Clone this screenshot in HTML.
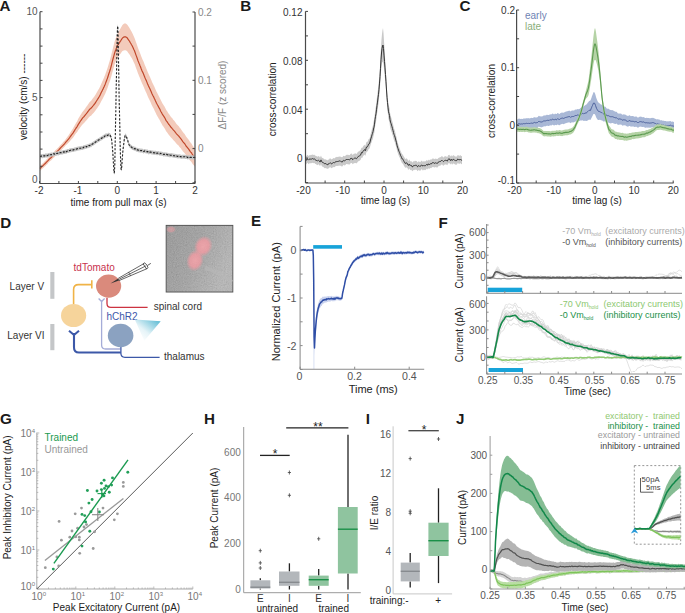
<!DOCTYPE html>
<html><head><meta charset="utf-8"><style>
html,body{margin:0;padding:0;background:#fff;}
svg{display:block;font-family:"Liberation Sans", sans-serif;}
</style></head><body>
<svg width="685" height="613" viewBox="0 0 685 613">
<rect width="685" height="613" fill="#fff"/>
<text x="-0.5" y="11.2" font-size="15.2" font-weight="bold" fill="#1a1a1a">A</text>
<path d="M40,166L40.5,165.5L41,165L41.5,164.4L42,163.9L42.5,163.5L43,163.1L43.5,162.7L44,162.1L44.5,161.6L45,161.1L45.5,160.7L46,160.1L46.5,159.5L47,159.1L47.5,158.6L48,158L48.5,157.3L49,156.8L49.5,156.2L50,155.8L50.5,155.3L51,154.9L51.5,154.5L52,154L52.5,153.3L53,152.7L53.5,152.2L54,151.9L54.5,151.3L55,150.7L55.5,150.1L56,149.7L56.5,149.3L57,148.7L57.5,148.3L58,147.7L58.5,147.2L59,146.7L59.5,146.1L60,145.6L60.5,145L61,144.5L61.5,144L62,143.4L62.5,143L63,142.3L63.5,141.8L64,141.3L64.5,140.8L65,140.2L65.5,139.4L66,138.7L66.5,138.1L67,137.4L67.5,136.7L68,136.1L68.5,135.4L69,134.6L69.5,133.9L70,133L70.5,132.3L71,131.4L71.5,130.7L72,129.9L72.5,129.2L73,128.6L73.5,127.6L74,126.6L74.5,125.7L75,124.7L75.5,123.9L76,122.9L76.5,122.2L77,121.4L77.5,120.4L78,119.3L78.5,118.3L79,117.6L79.5,116.7L80,115.8L80.5,114.9L81,114.2L81.5,113.5L82,112.6L82.5,111.9L83,111.2L83.5,110.7L84,110L84.5,109.4L85,108.7L85.5,107.9L86,107.3L86.5,106.6L87,106L87.5,105.2L88,104.5L88.5,103.7L89,103L89.5,102.3L90,101.8L90.5,101.3L91,100.9L91.5,100.3L92,99.6L92.5,98.8L93,98.2L93.5,97.6L94,96.9L94.5,96.2L95,95.5L95.5,94.7L96,93.8L96.5,93L97,92.1L97.5,91.3L98,90.3L98.5,89.6L99,88.7L99.5,87.8L100,86.7L100.5,85.6L101,84.4L101.5,83.2L102,82.2L102.5,81L103,80L103.5,78.7L104,77.7L104.5,76.3L105,75.2L105.5,73.8L106,72.3L106.5,70.9L107,69.5L107.5,68.1L108,66.4L108.5,64.7L109,63L109.5,61.5L110,59.8L110.5,58.1L111,56.1L111.5,54.1L112,51.9L112.5,49.9L113,47.9L113.5,46L114,44L114.5,42.1L115,40.4L115.5,38.9L116,37.6L116.5,36.2L117,35L117.5,33.8L118,32.7L118.5,31.9L119,31.1L119.5,30.2L120,29.2L120.5,28.5L121,27.6L121.5,26.7L122,25.8L122.5,25L123,24.5L123.5,24L124,23.8L124.5,23.4L125,23.3L125.5,23.4L126,23.7L126.5,23.9L127,24.4L127.5,25.1L128,25.8L128.5,26.6L129,27.3L129.5,28.1L130,28.9L130.5,29.8L131,30.7L131.5,31.6L132,32.4L132.5,33.5L133,34.6L133.5,35.7L134,36.8L134.5,37.9L135,39.3L135.5,40.8L136,42.2L136.5,43.6L137,45L137.5,46.5L138,47.9L138.5,49.2L139,50.6L139.5,51.7L140,53.1L140.5,54.2L141,55.7L141.5,57L142,58.3L142.5,59.4L143,60.4L143.5,61.6L144,62.8L144.5,64.2L145,65.5L145.5,66.6L146,67.7L146.5,68.9L147,70.2L147.5,71.5L148,72.7L148.5,73.8L149,74.9L149.5,76L150,77.1L150.5,78.2L151,79.4L151.5,80.6L152,81.9L152.5,82.9L153,83.9L153.5,84.9L154,86L154.5,87.1L155,88.2L155.5,89.4L156,90.4L156.5,91.7L157,92.6L157.5,93.6L158,94.5L158.5,95.6L159,96.4L159.5,97.4L160,98.4L160.5,99.5L161,100.5L161.5,101.4L162,102.5L162.5,103.4L163,104.2L163.5,105L164,105.7L164.5,106.5L165,107.4L165.5,108.5L166,109.6L166.5,110.4L167,111L167.5,111.8L168,112.7L168.5,113.5L169,114.1L169.5,114.8L170,115.5L170.5,116.3L171,116.9L171.5,117.4L172,118.1L172.5,118.6L173,119.5L173.5,119.9L174,120.6L174.5,121.1L175,121.8L175.5,122.5L176,123.2L176.5,123.9L177,124.4L177.5,125L178,125.4L178.5,126L179,126.6L179.5,127.4L180,127.9L180.5,128.6L181,129.2L181.5,130.1L182,130.8L182.5,131.5L183,132.2L183.5,132.8L184,133.4L184.5,133.8L185,134.7L185.5,135.5L186,136.4L186.5,137L187,137.7L187.5,138.3L188,138.9L188.5,139.6L189,140.3L189.5,141.1L190,141.9L190.5,142.6L191,143.1L191.5,143.8L192,144.6L192.5,145.4L193,146.2L193.5,146.8L194,147.3L194.5,148L195,148.8L195,166.8L194.5,166.1L194,165.4L193.5,164.9L193,164.4L192.5,163.7L192,162.9L191.5,162.1L191,161.5L190.5,161.1L190,160.4L189.5,159.7L189,158.9L188.5,158.2L188,157.6L187.5,157.1L187,156.5L186.5,155.9L186,155.3L185.5,154.5L185,153.7L184.5,152.9L184,152.5L183.5,151.9L183,151.4L182.5,150.7L182,150.1L181.5,149.4L181,148.6L180.5,148L180,147.4L179.5,147L179,146.2L178.5,145.6L178,145.1L177.5,144.7L177,144.2L176.5,143.8L176,143.1L175.5,142.5L175,141.8L174.5,141.2L174,140.8L173.5,140.2L173,139.8L172.5,139L172,138.6L171.5,138L171,137.6L170.5,137L170,136.3L169.5,135.7L169,135L168.5,134.5L168,133.8L167.5,133L167,132.2L166.5,131.7L166,131.1L165.5,130.1L165,129L164.5,128.2L164,127.5L163.5,126.8L163,126.1L162.5,125.4L162,124.6L161.5,123.6L161,122.8L160.5,121.8L160,120.8L159.5,119.8L159,119L158.5,118.2L158,117.2L157.5,116.4L157,115.5L156.5,114.7L156,113.5L155.5,112.5L155,111.4L154.5,110.4L154,109.3L153.5,108.3L153,107.4L152.5,106.5L152,105.6L151.5,104.4L151,103.2L150.5,102.1L150,101.1L149.5,100L149,99L148.5,98L148,97L147.5,95.8L147,94.6L146.5,93.3L146,92.2L145.5,91.2L145,90.1L144.5,88.9L144,87.6L143.5,86.4L143,85.2L142.5,84.3L142,83.3L141.5,82L141,80.7L140.5,79.4L140,78.3L139.5,77L139,75.9L138.5,74.6L138,73.4L137.5,72L137,70.6L136.5,69.2L136,67.9L135.5,66.5L135,65.1L134.5,63.8L134,62.7L133.5,61.7L133,60.6L132.5,59.6L132,58.5L131.5,57.8L131,57L130.5,56.2L130,55.3L129.5,54.6L129,53.8L128.5,53.2L128,52.4L127.5,51.8L127,51.1L126.5,50.7L126,50.6L125.5,50.3L125,50.3L124.5,50.2L124,50.4L123.5,50.4L123,50.7L122.5,51L122,51.6L121.5,52.3L121,53L120.5,53.7L120,54.2L119.5,55L119,55.7L118.5,56.3L118,56.9L117.5,57.8L117,58.8L116.5,59.8L116,61L115.5,62.1L115,63.4L114.5,64.9L114,66.6L113.5,68.4L113,70.1L112.5,71.9L112,73.7L111.5,75.7L111,77.5L110.5,79.3L110,80.8L109.5,82.3L109,83.6L108.5,85.1L108,86.6L107.5,88.1L107,89.3L106.5,90.5L106,91.7L105.5,93L105,94.2L104.5,95.1L104,96.3L103.5,97.1L103,98.2L102.5,99L102,100L101.5,100.8L101,101.8L100.5,102.8L100,103.7L99.5,104.7L99,105.4L98.5,106.2L98,106.8L97.5,107.7L97,108.4L96.5,109.1L96,109.8L95.5,110.6L95,111.3L94.5,111.8L94,112.4L93.5,113L93,113.5L92.5,113.9L92,114.6L91.5,115.2L91,115.7L90.5,115.9L90,116.3L89.5,116.7L89,117.2L88.5,117.8L88,118.5L87.5,119L87,119.8L86.5,120.2L86,120.8L85.5,121.3L85,121.9L84.5,122.5L84,123L83.5,123.5L83,123.9L82.5,124.5L82,125.1L81.5,125.8L81,126.4L80.5,127.1L80,127.8L79.5,128.5L79,129.2L78.5,129.7L78,130.5L77.5,131.4L77,132.2L76.5,132.8L76,133.3L75.5,134.1L75,134.7L74.5,135.5L74,136.2L73.5,137L73,137.8L72.5,138.2L72,138.7L71.5,139.3L71,139.8L70.5,140.5L70,141L69.5,141.7L69,142.2L68.5,142.8L68,143.3L67.5,143.7L67,144.2L66.5,144.7L66,145.1L65.5,145.6L65,146.2L64.5,146.8L64,147.3L63.5,147.7L63,148.2L62.5,148.9L62,149.3L61.5,149.9L61,150.3L60.5,150.8L60,151.4L59.5,151.9L59,152.5L58.5,153L58,153.5L57.5,154L57,154.4L56.5,154.9L56,155.3L55.5,155.7L55,156.3L54.5,156.9L54,157.5L53.5,157.7L53,158.2L52.5,158.8L52,159.5L51.5,159.9L51,160.4L50.5,160.7L50,161.2L49.5,161.5L49,162.2L48.5,162.6L48,163.3L47.5,163.9L47,164.4L46.5,164.8L46,165.3L45.5,165.9L45,166.3L44.5,166.7L44,167.3L43.5,167.8L43,168.2L42.5,168.6L42,169L41.5,169.5L41,170L40.5,170.5L40,171Z" fill="#f3cbbb" stroke="none" />
<path d="M40,168.5L40.5,168L41,167.5L41.5,166.9L42,166.4L42.5,166L43,165.7L43.5,165.2L44,164.7L44.5,164.2L45,163.7L45.5,163.3L46,162.7L46.5,162.2L47,161.7L47.5,161.2L48,160.7L48.5,160L49,159.5L49.5,158.9L50,158.5L50.5,158L51,157.7L51.5,157.2L52,156.8L52.5,156L53,155.5L53.5,155L54,154.7L54.5,154.1L55,153.5L55.5,152.9L56,152.5L56.5,152.1L57,151.6L57.5,151.1L58,150.6L58.5,150.1L59,149.6L59.5,149L60,148.5L60.5,147.9L61,147.4L61.5,146.9L62,146.4L62.5,145.9L63,145.3L63.5,144.8L64,144.3L64.5,143.8L65,143.2L65.5,142.5L66,141.9L66.5,141.4L67,140.8L67.5,140.2L68,139.7L68.5,139.1L69,138.4L69.5,137.8L70,137L70.5,136.4L71,135.6L71.5,135L72,134.3L72.5,133.7L73,133.2L73.5,132.3L74,131.4L74.5,130.6L75,129.7L75.5,129L76,128.1L76.5,127.5L77,126.8L77.5,125.9L78,124.9L78.5,124L79,123.4L79.5,122.6L80,121.8L80.5,121L81,120.3L81.5,119.6L82,118.9L82.5,118.2L83,117.5L83.5,117.1L84,116.5L84.5,116L85,115.3L85.5,114.6L86,114.1L86.5,113.4L87,112.9L87.5,112.1L88,111.5L88.5,110.8L89,110.1L89.5,109.5L90,109L90.5,108.6L91,108.3L91.5,107.7L92,107.1L92.5,106.4L93,105.9L93.5,105.3L94,104.6L94.5,104L95,103.4L95.5,102.6L96,101.8L96.5,101L97,100.2L97.5,99.5L98,98.6L98.5,97.9L99,97L99.5,96.2L100,95.2L100.5,94.2L101,93.1L101.5,92L102,91.1L102.5,90L103,89.1L103.5,87.9L104,87L104.5,85.7L105,84.7L105.5,83.4L106,82L106.5,80.7L107,79.4L107.5,78.1L108,76.5L108.5,74.9L109,73.3L109.5,71.9L110,70.3L110.5,68.7L111,66.8L111.5,64.9L112,62.8L112.5,60.9L113,59L113.5,57.2L114,55.3L114.5,53.5L115,51.9L115.5,50.5L116,49.3L116.5,48L117,46.9L117.5,45.8L118,44.8L118.5,44.1L119,43.4L119.5,42.6L120,41.7L120.5,41.1L121,40.3L121.5,39.5L122,38.7L122.5,38L123,37.6L123.5,37.2L124,37.1L124.5,36.8L125,36.8L125.5,36.8L126,37.1L126.5,37.3L127,37.7L127.5,38.4L128,39.1L128.5,39.9L129,40.5L129.5,41.3L130,42.1L130.5,43L131,43.8L131.5,44.7L132,45.5L132.5,46.5L133,47.6L133.5,48.7L134,49.8L134.5,50.8L135,52.2L135.5,53.6L136,55.1L136.5,56.4L137,57.8L137.5,59.3L138,60.7L138.5,61.9L139,63.3L139.5,64.3L140,65.7L140.5,66.8L141,68.2L141.5,69.5L142,70.8L142.5,71.9L143,72.8L143.5,74L144,75.2L144.5,76.6L145,77.8L145.5,78.9L146,79.9L146.5,81.1L147,82.4L147.5,83.7L148,84.8L148.5,85.9L149,86.9L149.5,88L150,89.1L150.5,90.2L151,91.3L151.5,92.5L152,93.7L152.5,94.7L153,95.7L153.5,96.6L154,97.7L154.5,98.8L155,99.8L155.5,100.9L156,101.9L156.5,103.2L157,104L157.5,105L158,105.8L158.5,106.9L159,107.7L159.5,108.6L160,109.6L160.5,110.7L161,111.7L161.5,112.5L162,113.5L162.5,114.4L163,115.2L163.5,115.9L164,116.6L164.5,117.4L165,118.2L165.5,119.3L166,120.4L166.5,121.1L167,121.6L167.5,122.4L168,123.2L168.5,124L169,124.6L169.5,125.2L170,125.9L170.5,126.6L171,127.3L171.5,127.7L172,128.3L172.5,128.8L173,129.6L173.5,130.1L174,130.7L174.5,131.2L175,131.8L175.5,132.5L176,133.2L176.5,133.8L177,134.3L177.5,134.8L178,135.3L178.5,135.8L179,136.4L179.5,137.2L180,137.7L180.5,138.3L181,138.9L181.5,139.7L182,140.4L182.5,141.1L183,141.8L183.5,142.4L184,143L184.5,143.4L185,144.2L185.5,145L186,145.9L186.5,146.5L187,147.1L187.5,147.7L188,148.3L188.5,148.9L189,149.6L189.5,150.4L190,151.2L190.5,151.8L191,152.3L191.5,152.9L192,153.8L192.5,154.5L193,155.3L193.5,155.8L194,156.4L194.5,157.1L195,157.8" fill="none" stroke="#c0472a" stroke-width="1.2" stroke-linejoin="round" />
<path d="M40,154.5L40.2,154.5L40.5,154.3L40.8,154.4L41,154.2L41.2,154.1L41.5,154L41.8,154.2L42,154.1L42.2,154.2L42.5,154.3L42.8,154.3L43,154.1L43.2,153.9L43.5,153.9L43.8,153.8L44,153.8L44.2,154L44.5,154L44.8,153.9L45,153.6L45.2,153.6L45.5,153.4L45.8,153.4L46,153.5L46.2,153.4L46.5,153.6L46.8,153.6L47,153.7L47.2,153.6L47.5,153.6L47.8,153.5L48,153.3L48.2,153L48.5,152.9L48.8,153.1L49,153.3L49.2,153.2L49.5,152.9L49.8,152.7L50,152.8L50.2,152.8L50.5,152.8L50.8,152.8L51,152.7L51.2,152.6L51.5,152.6L51.8,152.6L52,152.6L52.2,152.7L52.5,152.7L52.8,152.6L53,152.2L53.2,152.2L53.5,151.9L53.8,151.9L54,151.9L54.2,152.1L54.5,152.2L54.8,151.9L55,151.7L55.2,151.6L55.5,151.8L55.8,152L56,152.1L56.2,151.9L56.5,151.5L56.8,151.4L57,151.4L57.2,151.4L57.5,151.3L57.8,151.2L58,151.3L58.2,151.4L58.5,151.6L58.8,151.3L59,151.2L59.2,151.1L59.5,151L59.8,150.9L60,150.7L60.2,150.5L60.5,150.6L60.8,150.7L61,150.8L61.2,150.7L61.5,150.5L61.8,150.4L62,150.2L62.2,150.4L62.5,150.4L62.8,150.4L63,150.3L63.2,150.2L63.5,149.9L63.8,149.9L64,150.1L64.2,149.9L64.5,149.9L64.8,149.9L65,150.1L65.2,149.9L65.5,149.7L65.8,149.4L66,149.7L66.2,149.6L66.5,149.8L66.8,149.5L67,149.4L67.2,149L67.5,149L67.8,149L68,149L68.2,149.1L68.5,149L68.8,148.9L69,148.7L69.2,148.6L69.5,148.6L69.8,148.6L70,148.5L70.2,148.4L70.5,148.3L70.8,148.2L71,148.1L71.2,148.3L71.5,148.2L71.8,148.1L72,147.9L72.2,147.9L72.5,147.9L72.8,147.9L73,148.1L73.2,147.9L73.5,147.9L73.8,147.7L74,147.6L74.2,147.6L74.5,147.5L74.8,147.6L75,147.5L75.2,147.4L75.5,147.2L75.8,147.2L76,147.3L76.2,147.2L76.5,147.1L76.8,146.8L77,146.9L77.2,146.8L77.5,146.7L77.8,146.6L78,146.7L78.2,146.7L78.5,146.6L78.8,146.3L79,146.3L79.2,146.4L79.5,146.3L79.8,146.3L80,146.3L80.2,146.2L80.5,146.3L80.8,146.1L81,146L81.2,145.7L81.5,145.9L81.8,146L82,146.1L82.2,145.9L82.5,145.9L82.8,145.8L83,145.9L83.2,145.7L83.5,145.5L83.8,145.1L84,145.1L84.2,145.2L84.5,145.3L84.8,145.3L85,145L85.2,144.8L85.5,145L85.8,144.8L86,144.8L86.2,144.5L86.5,144.8L86.8,144.5L87,144.5L87.2,144.2L87.5,144.1L87.8,144.2L88,144.4L88.2,144.3L88.5,144L88.8,143.7L89,143.6L89.2,143.6L89.5,143.7L89.8,143.6L90,143.4L90.2,143.2L90.5,143.1L90.8,143.2L91,143.3L91.2,143.2L91.5,142.8L91.8,142.5L92,142.3L92.2,142.1L92.5,142L92.8,141.8L93,141.8L93.2,141.6L93.5,141.6L93.8,141.3L94,141.1L94.2,140.8L94.5,140.7L94.8,140.5L95,140.5L95.2,140.3L95.5,140.1L95.8,139.9L96,139.6L96.2,139.5L96.5,139.3L96.8,139L97,138.9L97.2,138.8L97.5,138.9L97.8,138.6L98,138.4L98.2,138.2L98.5,138.1L98.8,137.9L99,137.8L99.2,137.6L99.5,137.5L99.8,137.4L100,137.3L100.2,137.1L100.5,136.9L100.8,136.6L101,136.5L101.2,136.3L101.5,136.4L101.8,136.2L102,135.9L102.2,135.7L102.5,135.5L102.8,135.5L103,135.4L103.2,135L103.5,134.8L103.8,134.8L104,134.9L104.2,134.7L104.5,134.3L104.8,134.1L105,134L105.2,133.8L105.5,133.6L105.8,133.3L106,133.4L106.2,133.2L106.5,133.4L106.8,133.4L107,133.4L107.2,133.4L107.5,133.5L107.8,133.4L108,133.1L108.2,132.8L108.5,132.7L108.8,132.7L109,132.8L109.2,132.9L109.5,133L109.8,132.9L110,133.1L110.2,133.4L110.5,134L110.8,134.6L111,135.2L111.2,135.8L111.5,137L111.8,138.8L112,141.2L112.2,143.9L112.5,146.8L112.8,149.9L113,153.6L113.2,158.1L113.5,162.6L113.8,166.7L114,169.5L114.2,170.9L114.5,169.2L114.8,162.5L115,151.7L115.2,138.4L115.5,124.1L115.8,110L116,97.8L116.2,85.5L116.5,71.8L116.8,57.5L117,44.1L117.2,33.1L117.5,25.8L117.8,24L118,29.5L118.2,41.1L118.5,56.4L118.8,73.1L119,88.5L119.2,100.3L119.5,111.2L119.8,123L120,134.5L120.2,145.5L120.5,154.6L120.8,161.9L121,166.3L121.2,167.6L121.5,166.6L121.8,164.2L122,160.9L122.2,157.2L122.5,153.7L122.8,150.3L123,147.9L123.2,145.9L123.5,144L123.8,141.8L124,139.8L124.2,137.9L124.5,136.4L124.8,135L125,134L125.2,133.6L125.5,133.6L125.8,133.9L126,134.2L126.2,134.6L126.5,135.1L126.8,135.6L127,136.4L127.2,137L127.5,137.8L127.8,138.5L128,139.6L128.2,140.6L128.5,141.2L128.8,141.7L129,142.4L129.2,143L129.5,143.4L129.8,143.7L130,144.1L130.2,144.3L130.5,144.3L130.8,144.3L131,144.6L131.2,144.9L131.5,145.2L131.8,145.3L132,145.6L132.2,145.7L132.5,145.9L132.8,145.9L133,146L133.2,146L133.5,146.3L133.8,146.4L134,146.6L134.2,146.5L134.5,146.6L134.8,146.9L135,146.8L135.2,146.8L135.5,146.8L135.8,147.3L136,147.6L136.2,147.7L136.5,147.6L136.8,147.8L137,147.9L137.2,147.8L137.5,147.8L137.8,148L138,148.1L138.2,148L138.5,148.2L138.8,148.4L139,148.6L139.2,148.5L139.5,148.2L139.8,148.3L140,148.2L140.2,148.5L140.5,148.6L140.8,148.7L141,148.5L141.2,148.5L141.5,148.5L141.8,148.7L142,148.7L142.2,148.8L142.5,148.6L142.8,148.9L143,149L143.2,149.4L143.5,149.5L143.8,149.5L144,149.3L144.2,149L144.5,148.9L144.8,149.1L145,149.2L145.2,149.2L145.5,149.3L145.8,149.2L146,149.5L146.2,149.5L146.5,149.6L146.8,149.6L147,149.6L147.2,149.6L147.5,149.5L147.8,149.6L148,149.9L148.2,150.3L148.5,150.5L148.8,150.4L149,150.1L149.2,150.2L149.5,150.1L149.8,150.2L150,150.1L150.2,150.1L150.5,150.1L150.8,150.2L151,150.1L151.2,150.2L151.5,150.4L151.8,150.6L152,150.6L152.2,150.5L152.5,150.6L152.8,150.5L153,150.5L153.2,150.5L153.5,150.7L153.8,150.8L154,150.9L154.2,150.8L154.5,150.8L154.8,150.7L155,150.9L155.2,150.8L155.5,150.8L155.8,150.6L156,150.9L156.2,151.1L156.5,151.3L156.8,151.1L157,151.2L157.2,151L157.5,151.2L157.8,151.2L158,151.2L158.2,151.1L158.5,151L158.8,151L159,151.2L159.2,151.3L159.5,151.5L159.8,151.8L160,151.8L160.2,151.6L160.5,151.4L160.8,151.4L161,151.5L161.2,151.6L161.5,151.7L161.8,151.7L162,151.7L162.2,151.8L162.5,152.1L162.8,152.1L163,152.2L163.2,152.2L163.5,152.4L163.8,152.4L164,152.5L164.2,152.4L164.5,152.3L164.8,152.3L165,152.3L165.2,152.5L165.5,152.4L165.8,152.6L166,152.6L166.2,152.7L166.5,152.4L166.8,152.4L167,152.6L167.2,152.7L167.5,152.8L167.8,152.8L168,152.9L168.2,152.9L168.5,153L168.8,153.1L169,153.4L169.2,153.4L169.5,153.3L169.8,153L170,153.2L170.2,153.2L170.5,153.2L170.8,153.2L171,153.2L171.2,153.2L171.5,153.2L171.8,153.1L172,153.1L172.2,153.2L172.5,153.4L172.8,153.6L173,153.5L173.2,153.5L173.5,153.6L173.8,153.8L174,153.9L174.2,153.8L174.5,153.8L174.8,153.8L175,153.8L175.2,153.7L175.5,153.9L175.8,154.1L176,154.3L176.2,154.1L176.5,154.2L176.8,154.1L177,154.1L177.2,154.3L177.5,154.5L177.8,154.5L178,154.2L178.2,154.2L178.5,154.4L178.8,154.4L179,154.2L179.2,154.1L179.5,154.2L179.8,154.4L180,154.6L180.2,154.6L180.5,154.7L180.8,154.5L181,154.6L181.2,154.7L181.5,154.9L181.8,154.9L182,154.7L182.2,154.8L182.5,154.7L182.8,154.7L183,154.6L183.2,154.8L183.5,154.8L183.8,154.8L184,154.7L184.2,154.8L184.5,154.8L184.8,154.7L185,154.7L185.2,154.9L185.5,154.9L185.8,154.9L186,154.9L186.2,154.9L186.5,155L186.8,154.8L187,155L187.2,155.3L187.5,155.6L187.8,155.5L188,155.3L188.2,155.2L188.5,155.2L188.8,155.3L189,155.2L189.2,155.3L189.5,155.2L189.8,155.5L190,155.4L190.2,155.3L190.5,155.2L190.8,155.3L191,155.4L191.2,155.4L191.5,155.3L191.8,155.1L192,155.2L192.2,155.3L192.5,155.6L192.8,155.5L193,155.5L193.2,155.5L193.5,155.4L193.8,155.3L194,155.5L194.2,155.4L194.5,155.6L194.8,155.4L195,155.6L195,159.6L194.8,159.4L194.5,159.6L194.2,159.4L194,159.5L193.8,159.3L193.5,159.4L193.2,159.5L193,159.5L192.8,159.5L192.5,159.6L192.2,159.3L192,159.2L191.8,159.1L191.5,159.3L191.2,159.4L191,159.4L190.8,159.3L190.5,159.2L190.2,159.3L190,159.4L189.8,159.5L189.5,159.2L189.2,159.3L189,159.2L188.8,159.3L188.5,159.2L188.2,159.2L188,159.3L187.8,159.5L187.5,159.6L187.2,159.3L187,159L186.8,158.8L186.5,159L186.2,158.9L186,158.9L185.8,158.9L185.5,158.9L185.2,158.9L185,158.7L184.8,158.7L184.5,158.8L184.2,158.8L184,158.7L183.8,158.8L183.5,158.8L183.2,158.8L183,158.6L182.8,158.7L182.5,158.7L182.2,158.8L182,158.7L181.8,158.9L181.5,158.9L181.2,158.7L181,158.6L180.8,158.5L180.5,158.7L180.2,158.6L180,158.6L179.8,158.4L179.5,158.2L179.2,158.1L179,158.2L178.8,158.4L178.5,158.4L178.2,158.2L178,158.2L177.8,158.5L177.5,158.5L177.2,158.3L177,158.1L176.8,158.1L176.5,158.2L176.2,158.1L176,158.3L175.8,158.1L175.5,157.9L175.2,157.7L175,157.8L174.8,157.8L174.5,157.8L174.2,157.8L174,157.9L173.8,157.8L173.5,157.6L173.2,157.5L173,157.5L172.8,157.6L172.5,157.4L172.2,157.2L172,157.1L171.8,157.1L171.5,157.2L171.2,157.2L171,157.2L170.8,157.2L170.5,157.2L170.2,157.2L170,157.2L169.8,157L169.5,157.3L169.2,157.4L169,157.4L168.8,157.1L168.5,157L168.2,156.9L168,156.9L167.8,156.8L167.5,156.8L167.2,156.7L167,156.6L166.8,156.4L166.5,156.4L166.2,156.7L166,156.6L165.8,156.6L165.5,156.4L165.2,156.5L165,156.3L164.8,156.3L164.5,156.3L164.2,156.4L164,156.5L163.8,156.4L163.5,156.4L163.2,156.2L163,156.2L162.8,156.1L162.5,156.1L162.2,155.8L162,155.7L161.8,155.7L161.5,155.7L161.2,155.6L161,155.5L160.8,155.4L160.5,155.4L160.2,155.6L160,155.8L159.8,155.8L159.5,155.5L159.2,155.3L159,155.2L158.8,155L158.5,155L158.2,155.1L158,155.2L157.8,155.2L157.5,155.2L157.2,155L157,155.2L156.8,155.1L156.5,155.3L156.2,155.1L156,154.9L155.8,154.6L155.5,154.8L155.2,154.8L155,154.9L154.8,154.7L154.5,154.8L154.2,154.8L154,154.9L153.8,154.8L153.5,154.7L153.2,154.5L153,154.5L152.8,154.5L152.5,154.6L152.2,154.5L152,154.6L151.8,154.6L151.5,154.4L151.2,154.2L151,154.1L150.8,154.2L150.5,154.1L150.2,154.1L150,154.1L149.8,154.2L149.5,154.1L149.2,154.2L149,154.1L148.8,154.4L148.5,154.5L148.2,154.3L148,153.9L147.8,153.6L147.5,153.5L147.2,153.6L147,153.6L146.8,153.6L146.5,153.6L146.2,153.5L146,153.5L145.8,153.2L145.5,153.3L145.2,153.2L145,153.2L144.8,153.1L144.5,152.9L144.2,153L144,153.3L143.8,153.5L143.5,153.5L143.2,153.4L143,153L142.8,152.9L142.5,152.6L142.2,152.8L142,152.7L141.8,152.7L141.5,152.5L141.2,152.5L141,152.5L140.8,152.7L140.5,152.6L140.2,152.5L140,152.2L139.8,152.3L139.5,152.2L139.2,152.5L139,152.6L138.8,152.4L138.5,152.2L138.2,152L138,152.1L137.8,152L137.5,151.8L137.2,151.8L137,151.9L136.8,151.8L136.5,151.6L136.2,151.7L136,151.6L135.8,151.3L135.5,150.8L135.2,150.8L135,150.8L134.8,150.9L134.5,150.6L134.2,150.5L134,150.6L133.8,150.4L133.5,150.3L133.2,150L133,150L132.8,149.9L132.5,149.9L132.2,149.7L132,149.6L131.8,149.3L131.5,149.2L131.2,148.9L131,148.6L130.8,148.3L130.5,148.3L130.2,148.3L130,148.1L129.8,147.7L129.5,147.4L129.2,147L129,146.4L128.8,145.7L128.5,145.2L128.2,144.6L128,143.6L127.8,142.5L127.5,141.8L127.2,141L127,140.4L126.8,139.6L126.5,139.1L126.2,138.6L126,138.2L125.8,137.9L125.5,137.6L125.2,137.6L125,138L124.8,139L124.5,140.4L124.2,141.9L124,143.8L123.8,145.8L123.5,148L123.2,149.9L123,151.9L122.8,154.3L122.5,157.7L122.2,161.2L122,164.9L121.8,168.2L121.5,170.6L121.2,171.6L121,170.3L120.8,165.9L120.5,158.6L120.2,149.5L120,138.5L119.8,127L119.5,115.2L119.2,104.3L119,92.5L118.8,77.1L118.5,60.4L118.2,45.1L118,33.5L117.8,28L117.5,29.8L117.2,37.1L117,48.1L116.8,61.5L116.5,75.8L116.2,89.5L116,101.8L115.8,114L115.5,128.1L115.2,142.4L115,155.7L114.8,166.5L114.5,173.2L114.2,174.9L114,173.5L113.8,170.7L113.5,166.6L113.2,162.1L113,157.6L112.8,153.9L112.5,150.8L112.2,147.9L112,145.2L111.8,142.8L111.5,141L111.2,139.8L111,139.2L110.8,138.6L110.5,138L110.2,137.4L110,137.1L109.8,136.9L109.5,137L109.2,136.9L109,136.8L108.8,136.7L108.5,136.7L108.2,136.8L108,137.1L107.8,137.4L107.5,137.5L107.2,137.4L107,137.4L106.8,137.4L106.5,137.4L106.2,137.2L106,137.4L105.8,137.3L105.5,137.6L105.2,137.8L105,138L104.8,138.1L104.5,138.3L104.2,138.7L104,138.9L103.8,138.8L103.5,138.8L103.2,139L103,139.4L102.8,139.5L102.5,139.5L102.2,139.7L102,139.9L101.8,140.2L101.5,140.4L101.2,140.3L101,140.5L100.8,140.6L100.5,140.9L100.2,141.1L100,141.3L99.8,141.4L99.5,141.5L99.2,141.6L99,141.8L98.8,141.9L98.5,142.1L98.2,142.2L98,142.4L97.8,142.6L97.5,142.9L97.2,142.8L97,142.9L96.8,143L96.5,143.3L96.2,143.5L96,143.6L95.8,143.9L95.5,144.1L95.2,144.3L95,144.5L94.8,144.5L94.5,144.7L94.2,144.8L94,145.1L93.8,145.3L93.5,145.6L93.2,145.6L93,145.8L92.8,145.8L92.5,146L92.2,146.1L92,146.3L91.8,146.5L91.5,146.8L91.2,147.2L91,147.3L90.8,147.2L90.5,147.1L90.2,147.2L90,147.4L89.8,147.6L89.5,147.7L89.2,147.6L89,147.6L88.8,147.7L88.5,148L88.2,148.3L88,148.4L87.8,148.2L87.5,148.1L87.2,148.2L87,148.5L86.8,148.5L86.5,148.8L86.2,148.5L86,148.8L85.8,148.8L85.5,149L85.2,148.8L85,149L84.8,149.3L84.5,149.3L84.2,149.2L84,149.1L83.8,149.1L83.5,149.5L83.2,149.7L83,149.9L82.8,149.8L82.5,149.9L82.2,149.9L82,150.1L81.8,150L81.5,149.9L81.2,149.7L81,150L80.8,150.1L80.5,150.3L80.2,150.2L80,150.3L79.8,150.3L79.5,150.3L79.2,150.4L79,150.3L78.8,150.3L78.5,150.6L78.2,150.7L78,150.7L77.8,150.6L77.5,150.7L77.2,150.8L77,150.9L76.8,150.8L76.5,151.1L76.2,151.2L76,151.3L75.8,151.2L75.5,151.2L75.2,151.4L75,151.5L74.8,151.6L74.5,151.5L74.2,151.6L74,151.6L73.8,151.7L73.5,151.9L73.2,151.9L73,152.1L72.8,151.9L72.5,151.9L72.2,151.9L72,151.9L71.8,152.1L71.5,152.2L71.2,152.3L71,152.1L70.8,152.2L70.5,152.3L70.2,152.4L70,152.5L69.8,152.6L69.5,152.6L69.2,152.6L69,152.7L68.8,152.9L68.5,153L68.2,153.1L68,153L67.8,153L67.5,153L67.2,153L67,153.4L66.8,153.5L66.5,153.8L66.2,153.6L66,153.7L65.8,153.4L65.5,153.7L65.2,153.9L65,154.1L64.8,153.9L64.5,153.9L64.2,153.9L64,154.1L63.8,153.9L63.5,153.9L63.2,154.2L63,154.3L62.8,154.4L62.5,154.4L62.2,154.4L62,154.2L61.8,154.4L61.5,154.5L61.2,154.7L61,154.8L60.8,154.7L60.5,154.6L60.2,154.5L60,154.7L59.8,154.9L59.5,155L59.2,155.1L59,155.2L58.8,155.3L58.5,155.6L58.2,155.4L58,155.3L57.8,155.2L57.5,155.3L57.2,155.4L57,155.4L56.8,155.4L56.5,155.5L56.2,155.9L56,156.1L55.8,156L55.5,155.8L55.2,155.6L55,155.7L54.8,155.9L54.5,156.2L54.2,156.1L54,155.9L53.8,155.9L53.5,155.9L53.2,156.2L53,156.2L52.8,156.6L52.5,156.7L52.2,156.7L52,156.6L51.8,156.6L51.5,156.6L51.2,156.6L51,156.7L50.8,156.8L50.5,156.8L50.2,156.8L50,156.8L49.8,156.7L49.5,156.9L49.2,157.2L49,157.3L48.8,157.1L48.5,156.9L48.2,157L48,157.3L47.8,157.5L47.5,157.6L47.2,157.6L47,157.7L46.8,157.6L46.5,157.6L46.2,157.4L46,157.5L45.8,157.4L45.5,157.4L45.2,157.6L45,157.6L44.8,157.9L44.5,158L44.2,158L44,157.8L43.8,157.8L43.5,157.9L43.2,157.9L43,158.1L42.8,158.3L42.5,158.3L42.2,158.2L42,158.1L41.8,158.2L41.5,158L41.2,158.1L41,158.2L40.8,158.4L40.5,158.3L40.2,158.5L40,158.5Z" fill="#c4c4c4" stroke="none" />
<path d="M40,156.5L40.2,156.5L40.5,156.3L40.8,156.4L41,156.2L41.2,156.1L41.5,156L41.8,156.2L42,156.1L42.2,156.2L42.5,156.3L42.8,156.3L43,156.1L43.2,155.9L43.5,155.9L43.8,155.8L44,155.8L44.2,156L44.5,156L44.8,155.9L45,155.6L45.2,155.6L45.5,155.4L45.8,155.4L46,155.5L46.2,155.4L46.5,155.6L46.8,155.6L47,155.7L47.2,155.6L47.5,155.6L47.8,155.5L48,155.3L48.2,155L48.5,154.9L48.8,155.1L49,155.3L49.2,155.2L49.5,154.9L49.8,154.7L50,154.8L50.2,154.8L50.5,154.8L50.8,154.8L51,154.7L51.2,154.6L51.5,154.6L51.8,154.6L52,154.6L52.2,154.7L52.5,154.7L52.8,154.6L53,154.2L53.2,154.2L53.5,153.9L53.8,153.9L54,153.9L54.2,154.1L54.5,154.2L54.8,153.9L55,153.7L55.2,153.6L55.5,153.8L55.8,154L56,154.1L56.2,153.9L56.5,153.5L56.8,153.4L57,153.4L57.2,153.4L57.5,153.3L57.8,153.2L58,153.3L58.2,153.4L58.5,153.6L58.8,153.3L59,153.2L59.2,153.1L59.5,153L59.8,152.9L60,152.7L60.2,152.5L60.5,152.6L60.8,152.7L61,152.8L61.2,152.7L61.5,152.5L61.8,152.4L62,152.2L62.2,152.4L62.5,152.4L62.8,152.4L63,152.3L63.2,152.2L63.5,151.9L63.8,151.9L64,152.1L64.2,151.9L64.5,151.9L64.8,151.9L65,152.1L65.2,151.9L65.5,151.7L65.8,151.4L66,151.7L66.2,151.6L66.5,151.8L66.8,151.5L67,151.4L67.2,151L67.5,151L67.8,151L68,151L68.2,151.1L68.5,151L68.8,150.9L69,150.7L69.2,150.6L69.5,150.6L69.8,150.6L70,150.5L70.2,150.4L70.5,150.3L70.8,150.2L71,150.1L71.2,150.3L71.5,150.2L71.8,150.1L72,149.9L72.2,149.9L72.5,149.9L72.8,149.9L73,150.1L73.2,149.9L73.5,149.9L73.8,149.7L74,149.6L74.2,149.6L74.5,149.5L74.8,149.6L75,149.5L75.2,149.4L75.5,149.2L75.8,149.2L76,149.3L76.2,149.2L76.5,149.1L76.8,148.8L77,148.9L77.2,148.8L77.5,148.7L77.8,148.6L78,148.7L78.2,148.7L78.5,148.6L78.8,148.3L79,148.3L79.2,148.4L79.5,148.3L79.8,148.3L80,148.3L80.2,148.2L80.5,148.3L80.8,148.1L81,148L81.2,147.7L81.5,147.9L81.8,148L82,148.1L82.2,147.9L82.5,147.9L82.8,147.8L83,147.9L83.2,147.7L83.5,147.5L83.8,147.1L84,147.1L84.2,147.2L84.5,147.3L84.8,147.3L85,147L85.2,146.8L85.5,147L85.8,146.8L86,146.8L86.2,146.5L86.5,146.8L86.8,146.5L87,146.5L87.2,146.2L87.5,146.1L87.8,146.2L88,146.4L88.2,146.3L88.5,146L88.8,145.7L89,145.6L89.2,145.6L89.5,145.7L89.8,145.6L90,145.4L90.2,145.2L90.5,145.1L90.8,145.2L91,145.3L91.2,145.2L91.5,144.8L91.8,144.5L92,144.3L92.2,144.1L92.5,144L92.8,143.8L93,143.8L93.2,143.6L93.5,143.6L93.8,143.3L94,143.1L94.2,142.8L94.5,142.7L94.8,142.5L95,142.5L95.2,142.3L95.5,142.1L95.8,141.9L96,141.6L96.2,141.5L96.5,141.3L96.8,141L97,140.9L97.2,140.8L97.5,140.9L97.8,140.6L98,140.4L98.2,140.2L98.5,140.1L98.8,139.9L99,139.8L99.2,139.6L99.5,139.5L99.8,139.4L100,139.3L100.2,139.1L100.5,138.9L100.8,138.6L101,138.5L101.2,138.3L101.5,138.4L101.8,138.2L102,137.9L102.2,137.7L102.5,137.5L102.8,137.5L103,137.4L103.2,137L103.5,136.8L103.8,136.8L104,136.9L104.2,136.7L104.5,136.3L104.8,136.1L105,136L105.2,135.8L105.5,135.6L105.8,135.3L106,135.4L106.2,135.2L106.5,135.4L106.8,135.4L107,135.4L107.2,135.4L107.5,135.5L107.8,135.4L108,135.1L108.2,134.8L108.5,134.7L108.8,134.7L109,134.8L109.2,134.9L109.5,135L109.8,134.9L110,135.1L110.2,135.4L110.5,136L110.8,136.6L111,137.2L111.2,137.8L111.5,139L111.8,140.8L112,143.2L112.2,145.9L112.5,148.8L112.8,151.9L113,155.6L113.2,160.1L113.5,164.6L113.8,168.7L114,171.5L114.2,172.9L114.5,171.2L114.8,164.5L115,153.7L115.2,140.4L115.5,126.1L115.8,112L116,99.8L116.2,87.5L116.5,73.8L116.8,59.5L117,46.1L117.2,35.1L117.5,27.8L117.8,26L118,31.5L118.2,43.1L118.5,58.4L118.8,75.1L119,90.5L119.2,102.3L119.5,113.2L119.8,125L120,136.5L120.2,147.5L120.5,156.6L120.8,163.9L121,168.3L121.2,169.6L121.5,168.6L121.8,166.2L122,162.9L122.2,159.2L122.5,155.7L122.8,152.3L123,149.9L123.2,147.9L123.5,146L123.8,143.8L124,141.8L124.2,139.9L124.5,138.4L124.8,137L125,136L125.2,135.6L125.5,135.6L125.8,135.9L126,136.2L126.2,136.6L126.5,137.1L126.8,137.6L127,138.4L127.2,139L127.5,139.8L127.8,140.5L128,141.6L128.2,142.6L128.5,143.2L128.8,143.7L129,144.4L129.2,145L129.5,145.4L129.8,145.7L130,146.1L130.2,146.3L130.5,146.3L130.8,146.3L131,146.6L131.2,146.9L131.5,147.2L131.8,147.3L132,147.6L132.2,147.7L132.5,147.9L132.8,147.9L133,148L133.2,148L133.5,148.3L133.8,148.4L134,148.6L134.2,148.5L134.5,148.6L134.8,148.9L135,148.8L135.2,148.8L135.5,148.8L135.8,149.3L136,149.6L136.2,149.7L136.5,149.6L136.8,149.8L137,149.9L137.2,149.8L137.5,149.8L137.8,150L138,150.1L138.2,150L138.5,150.2L138.8,150.4L139,150.6L139.2,150.5L139.5,150.2L139.8,150.3L140,150.2L140.2,150.5L140.5,150.6L140.8,150.7L141,150.5L141.2,150.5L141.5,150.5L141.8,150.7L142,150.7L142.2,150.8L142.5,150.6L142.8,150.9L143,151L143.2,151.4L143.5,151.5L143.8,151.5L144,151.3L144.2,151L144.5,150.9L144.8,151.1L145,151.2L145.2,151.2L145.5,151.3L145.8,151.2L146,151.5L146.2,151.5L146.5,151.6L146.8,151.6L147,151.6L147.2,151.6L147.5,151.5L147.8,151.6L148,151.9L148.2,152.3L148.5,152.5L148.8,152.4L149,152.1L149.2,152.2L149.5,152.1L149.8,152.2L150,152.1L150.2,152.1L150.5,152.1L150.8,152.2L151,152.1L151.2,152.2L151.5,152.4L151.8,152.6L152,152.6L152.2,152.5L152.5,152.6L152.8,152.5L153,152.5L153.2,152.5L153.5,152.7L153.8,152.8L154,152.9L154.2,152.8L154.5,152.8L154.8,152.7L155,152.9L155.2,152.8L155.5,152.8L155.8,152.6L156,152.9L156.2,153.1L156.5,153.3L156.8,153.1L157,153.2L157.2,153L157.5,153.2L157.8,153.2L158,153.2L158.2,153.1L158.5,153L158.8,153L159,153.2L159.2,153.3L159.5,153.5L159.8,153.8L160,153.8L160.2,153.6L160.5,153.4L160.8,153.4L161,153.5L161.2,153.6L161.5,153.7L161.8,153.7L162,153.7L162.2,153.8L162.5,154.1L162.8,154.1L163,154.2L163.2,154.2L163.5,154.4L163.8,154.4L164,154.5L164.2,154.4L164.5,154.3L164.8,154.3L165,154.3L165.2,154.5L165.5,154.4L165.8,154.6L166,154.6L166.2,154.7L166.5,154.4L166.8,154.4L167,154.6L167.2,154.7L167.5,154.8L167.8,154.8L168,154.9L168.2,154.9L168.5,155L168.8,155.1L169,155.4L169.2,155.4L169.5,155.3L169.8,155L170,155.2L170.2,155.2L170.5,155.2L170.8,155.2L171,155.2L171.2,155.2L171.5,155.2L171.8,155.1L172,155.1L172.2,155.2L172.5,155.4L172.8,155.6L173,155.5L173.2,155.5L173.5,155.6L173.8,155.8L174,155.9L174.2,155.8L174.5,155.8L174.8,155.8L175,155.8L175.2,155.7L175.5,155.9L175.8,156.1L176,156.3L176.2,156.1L176.5,156.2L176.8,156.1L177,156.1L177.2,156.3L177.5,156.5L177.8,156.5L178,156.2L178.2,156.2L178.5,156.4L178.8,156.4L179,156.2L179.2,156.1L179.5,156.2L179.8,156.4L180,156.6L180.2,156.6L180.5,156.7L180.8,156.5L181,156.6L181.2,156.7L181.5,156.9L181.8,156.9L182,156.7L182.2,156.8L182.5,156.7L182.8,156.7L183,156.6L183.2,156.8L183.5,156.8L183.8,156.8L184,156.7L184.2,156.8L184.5,156.8L184.8,156.7L185,156.7L185.2,156.9L185.5,156.9L185.8,156.9L186,156.9L186.2,156.9L186.5,157L186.8,156.8L187,157L187.2,157.3L187.5,157.6L187.8,157.5L188,157.3L188.2,157.2L188.5,157.2L188.8,157.3L189,157.2L189.2,157.3L189.5,157.2L189.8,157.5L190,157.4L190.2,157.3L190.5,157.2L190.8,157.3L191,157.4L191.2,157.4L191.5,157.3L191.8,157.1L192,157.2L192.2,157.3L192.5,157.6L192.8,157.5L193,157.5L193.2,157.5L193.5,157.4L193.8,157.3L194,157.5L194.2,157.4L194.5,157.6L194.8,157.4L195,157.6" fill="none" stroke="#222" stroke-width="1.1" stroke-linejoin="round" stroke-dasharray="2.2,1.6"/>
<line x1="40" y1="11.7" x2="40" y2="183.5" stroke="#4a4a4a" stroke-width="1.2" />
<line x1="40" y1="183.5" x2="195" y2="183.5" stroke="#4a4a4a" stroke-width="1.2" />
<line x1="195" y1="12" x2="195" y2="183.5" stroke="#4a4a4a" stroke-width="1.2" />
<line x1="40" y1="183.5" x2="42.5" y2="183.5" stroke="#444" stroke-width="1" />
<line x1="40" y1="166.3" x2="42.5" y2="166.3" stroke="#444" stroke-width="1" />
<line x1="40" y1="149.1" x2="42.5" y2="149.1" stroke="#444" stroke-width="1" />
<line x1="40" y1="132" x2="42.5" y2="132" stroke="#444" stroke-width="1" />
<line x1="40" y1="114.8" x2="42.5" y2="114.8" stroke="#444" stroke-width="1" />
<line x1="40" y1="97.6" x2="42.5" y2="97.6" stroke="#444" stroke-width="1" />
<line x1="40" y1="80.4" x2="42.5" y2="80.4" stroke="#444" stroke-width="1" />
<line x1="40" y1="63.2" x2="42.5" y2="63.2" stroke="#444" stroke-width="1" />
<line x1="40" y1="46.1" x2="42.5" y2="46.1" stroke="#444" stroke-width="1" />
<line x1="40" y1="28.9" x2="42.5" y2="28.9" stroke="#444" stroke-width="1" />
<line x1="40" y1="11.7" x2="42.5" y2="11.7" stroke="#444" stroke-width="1" />
<line x1="39.5" y1="183.5" x2="39.5" y2="181" stroke="#444" stroke-width="1" />
<line x1="58.9" y1="183.5" x2="58.9" y2="181" stroke="#444" stroke-width="1" />
<line x1="78.4" y1="183.5" x2="78.4" y2="181" stroke="#444" stroke-width="1" />
<line x1="97.8" y1="183.5" x2="97.8" y2="181" stroke="#444" stroke-width="1" />
<line x1="117.3" y1="183.5" x2="117.3" y2="181" stroke="#444" stroke-width="1" />
<line x1="136.7" y1="183.5" x2="136.7" y2="181" stroke="#444" stroke-width="1" />
<line x1="156.1" y1="183.5" x2="156.1" y2="181" stroke="#444" stroke-width="1" />
<line x1="175.6" y1="183.5" x2="175.6" y2="181" stroke="#444" stroke-width="1" />
<line x1="195" y1="183.5" x2="195" y2="181" stroke="#444" stroke-width="1" />
<line x1="195" y1="12" x2="192.5" y2="12" stroke="#444" stroke-width="1" />
<line x1="195" y1="46.1" x2="192.5" y2="46.1" stroke="#444" stroke-width="1" />
<line x1="195" y1="80.3" x2="192.5" y2="80.3" stroke="#444" stroke-width="1" />
<line x1="195" y1="114.4" x2="192.5" y2="114.4" stroke="#444" stroke-width="1" />
<line x1="195" y1="148.6" x2="192.5" y2="148.6" stroke="#444" stroke-width="1" />
<line x1="195" y1="182.8" x2="192.5" y2="182.8" stroke="#444" stroke-width="1" />
<text x="37.5" y="15.3" font-size="10" fill="#555" text-anchor="end" font-weight="normal" >10</text>
<text x="37.5" y="101.2" font-size="10" fill="#555" text-anchor="end" font-weight="normal" >5</text>
<text x="37.5" y="183.1" font-size="10" fill="#555" text-anchor="end" font-weight="normal" >0</text>
<text x="198" y="15.6" font-size="10" fill="#888" text-anchor="start" font-weight="normal" >0.2</text>
<text x="198" y="83.9" font-size="10" fill="#888" text-anchor="start" font-weight="normal" >0.1</text>
<text x="198" y="152.2" font-size="10" fill="#888" text-anchor="start" font-weight="normal" >0</text>
<text x="39" y="193.9" font-size="10" fill="#333" text-anchor="middle" font-weight="normal" >-2</text>
<text x="77.9" y="193.9" font-size="10" fill="#333" text-anchor="middle" font-weight="normal" >-1</text>
<text x="117.3" y="193.9" font-size="10" fill="#333" text-anchor="middle" font-weight="normal" >0</text>
<text x="156.1" y="193.9" font-size="10" fill="#333" text-anchor="middle" font-weight="normal" >1</text>
<text x="195" y="193.9" font-size="10" fill="#333" text-anchor="middle" font-weight="normal" >2</text>
<text x="118.6" y="206.1" font-size="10" fill="#222" text-anchor="middle" font-weight="normal" >time from pull max (s)</text>
<text x="0" y="0" transform="translate(26.8,96.9) rotate(-90)" font-size="10" fill="#222" text-anchor="middle" font-weight="normal" >velocity (cm/s) ------</text>
<text x="0" y="0" transform="translate(226.3,95) rotate(-90)" font-size="10" fill="#888" text-anchor="middle" font-weight="normal" >&#916;F/F (z scored)</text>
<text x="240.2" y="11.2" font-size="15.2" font-weight="bold" fill="#1a1a1a">B</text>
<path d="M305.5,155.6L306,155.9L306.5,156.1L307,155L307.5,154.8L308,155.5L308.5,156.1L309,155.4L309.5,155.1L310,155.5L310.5,155L311,154.8L311.5,155L312,154.7L312.5,154.5L313,154.7L313.5,155L314,154.8L314.5,154.7L315,155.4L315.5,155.8L316,155.8L316.5,156.3L317,156.3L317.5,156.8L318,156.4L318.5,155.9L319,156.3L319.5,156.8L320,157.8L320.5,156.5L321,155.6L321.5,156.9L322,157.8L322.5,158.1L323,158.1L323.5,158.4L324,159.1L324.5,159.3L325,159.8L325.5,159.2L326,159.3L326.5,160L327,160.1L327.5,160.4L328,159.6L328.5,159.7L329,159.5L329.5,158.8L330,158.3L330.5,158.5L331,159.1L331.5,159.4L332,158.9L332.5,158.8L333,158.7L333.5,158.1L334,158.1L334.5,158.4L335,157.9L335.5,157.2L336,157.2L336.5,157.1L337,156.7L337.5,157L338,157.1L338.5,156.8L339,156.5L339.5,156.4L340,156.8L340.5,156.4L341,157L341.5,157.3L342,157.1L342.5,157.3L343,156.3L343.5,155.7L344,156L344.5,156.2L345,155.9L345.5,155.7L346,154.9L346.5,154.9L347,154.6L347.5,154.8L348,155.3L348.5,154.8L349,155L349.5,155.3L350,154.7L350.5,153.8L351,153.9L351.5,153.6L352,153.5L352.5,154.9L353,154.7L353.5,154.1L354,153.8L354.5,153.5L355,153.7L355.5,153.3L356,153.4L356.5,153.9L357,153.5L357.5,152.6L358,151.8L358.5,151.5L359,151.4L359.5,151L360,150.5L360.5,150.3L361,149L361.5,147.6L362,148.2L362.5,147.6L363,146.4L363.5,145.9L364,145.1L364.5,144.7L365,145.7L365.5,145.5L366,143.5L366.5,142.1L367,141.7L367.5,141.7L368,140.8L368.5,139.3L369,139L369.5,138.7L370,137L370.5,134.7L371,132.6L371.5,131L372,128.8L372.5,127.2L373,125.2L373.5,122.2L374,120.1L374.5,117L375,112.2L375.5,108.5L376,105.8L376.5,101.5L377,97L377.5,93.3L378,88.9L378.5,85L379,79.8L379.5,73.3L380,66.7L380.5,57.1L381,47.5L381.5,39.5L382,33.9L382.5,30.2L383,28L383.5,32.9L384,41.1L384.5,48.9L385,56.9L385.5,65.1L386,73.8L386.5,82.1L387,89.5L387.5,94.8L388,99.7L388.5,104.4L389,106.2L389.5,108.3L390,112.6L390.5,115.3L391,116.7L391.5,118.5L392,120.2L392.5,122.2L393,124.1L393.5,126.4L394,128.3L394.5,129.7L395,131.3L395.5,133.4L396,135.4L396.5,137.3L397,139.9L397.5,141.9L398,143.5L398.5,145.2L399,146.7L399.5,148L400,149.3L400.5,150.9L401,151.7L401.5,152.9L402,154.3L402.5,154.3L403,155L403.5,155.9L404,156.9L404.5,157.6L405,158.7L405.5,159.2L406,158.2L406.5,158.6L407,158.8L407.5,159.2L408,160.5L408.5,160.9L409,160.1L409.5,159.6L410,161L410.5,161.5L411,160.9L411.5,161.2L412,162.3L412.5,162.5L413,161.6L413.5,161.3L414,161.6L414.5,161.2L415,160.6L415.5,160.9L416,161L416.5,161L417,161.5L417.5,162.5L418,162.1L418.5,161.2L419,161.5L419.5,161.7L420,162.2L420.5,161.9L421,161.1L421.5,160.7L422,160.7L422.5,161.5L423,161.9L423.5,161.2L424,161L424.5,161.4L425,161.6L425.5,161.3L426,160.9L426.5,160.3L427,159.8L427.5,161L428,160.5L428.5,159.6L429,160.4L429.5,160.2L430,159.6L430.5,159.6L431,159.8L431.5,159.6L432,158.7L432.5,158.5L433,158.7L433.5,158.4L434,158.7L434.5,159.1L435,159.2L435.5,158.6L436,158.5L436.5,159.1L437,159.1L437.5,159.1L438,158.4L438.5,157.7L439,158L439.5,157.4L440,157L440.5,157.2L441,156.9L441.5,156.3L442,156L442.5,156.6L443,157.2L443.5,157.5L444,157L444.5,156.4L445,156.1L445.5,156.2L446,156.4L446.5,156.4L447,157.1L447.5,156.8L448,155.4L448.5,155L449,155L449.5,154.8L450,155.9L450.5,156.5L451,155.3L451.5,155.4L452,156.5L452.5,156.1L453,155.3L453.5,155.3L454,155.6L454.5,156L455,156.4L455.5,156.6L456,156.6L456.5,156.6L457,156.4L457.5,155.2L458,154.9L458.5,155.6L459,155.5L459.5,155.7L460,155.7L460.5,155L461,155.7L461.5,156.3L462,155.9L462,163.9L461.5,164.3L461,163.7L460.5,163L460,163.8L459.5,163.8L459,163.5L458.5,163.7L458,162.9L457.5,163.3L457,164.4L456.5,164.7L456,164.6L455.5,164.7L455,164.5L454.5,164.1L454,163.8L453.5,163.4L453,163.4L452.5,164.3L452,164.7L451.5,163.6L451,163.5L450.5,164.6L450,164.1L449.5,163L449,163.2L448.5,163.3L448,163.6L447.5,165L447,165.3L446.5,164.6L446,164.6L445.5,164.5L445,164.3L444.5,164.7L444,165.3L443.5,165.8L443,165.5L442.5,164.9L442,164.3L441.5,164.6L441,165.2L440.5,165.6L440,165.4L439.5,165.7L439,166.3L438.5,166.1L438,166.8L437.5,167.5L437,167.5L436.5,167.5L436,167L435.5,167.1L435,167.6L434.5,167.5L434,167.2L433.5,166.9L433,167.2L432.5,167L432,167.2L431.5,168.1L431,168.3L430.5,168.1L430,168.1L429.5,168.7L429,168.9L428.5,168.1L428,169L427.5,169.6L427,168.4L426.5,168.9L426,169.5L425.5,169.9L425,170.2L424.5,170L424,169.6L423.5,169.9L423,170.5L422.5,170.2L422,169.3L421.5,169.3L421,169.8L420.5,170.5L420,170.9L419.5,170.4L419,170.2L418.5,169.9L418,170.8L417.5,171.2L417,170.2L416.5,169.8L416,169.8L415.5,169.7L415,169.4L414.5,170L414,170.3L413.5,170.1L413,170.4L412.5,171.3L412,171.1L411.5,170L411,169.7L410.5,170.3L410,169.8L409.5,168.5L409,168.9L408.5,169.8L408,169.4L407.5,168.1L407,167.7L406.5,167.4L406,167.1L405.5,168.1L405,167.6L404.5,166.6L404,165.9L403.5,164.8L403,164L402.5,163.3L402,163.3L401.5,161.9L401,160.7L400.5,159.9L400,158.3L399.5,157.3L399,156.2L398.5,155L398,153.5L397.5,152.2L397,150.4L396.5,148L396,146.4L395.5,144.6L395,142.8L394.5,141.5L394,140.3L393.5,138.6L393,136.6L392.5,135L392,133.2L391.5,131.7L391,130.2L390.5,129L390,126.6L389.5,122.5L389,120.7L388.5,119.1L388,114.7L387.5,110L387,105L386.5,97.9L386,89.8L385.5,84.1L385,78.9L384.5,73.9L384,69.1L383.5,63.9L383,62L382.5,61.8L382,63.3L381.5,66.5L381,72.1L380.5,79.5L380,86.7L379.5,92.8L379,98.8L378.5,103.5L378,106.9L377.5,110.8L377,114L376.5,118L376,121.8L375.5,124L375,127.2L374.5,131.5L374,134.1L373.5,135.7L373,138.2L372.5,139.7L372,140.8L371.5,142.5L371,143.6L370.5,145.2L370,147L369.5,148.6L369,149L368.5,149.2L368,150.7L367.5,151.6L367,151.6L366.5,152L366,153.4L365.5,155.4L365,155.5L364.5,154.6L364,154.9L363.5,155.7L363,156.2L362.5,157.4L362,157.9L361.5,157.4L361,158.7L360.5,160.1L360,160.2L359.5,160.7L359,161L358.5,161.2L358,161.4L357.5,162.2L357,163.1L356.5,163.5L356,163L355.5,162.9L355,163.2L354.5,163L354,163.3L353.5,163.6L353,164.1L352.5,164.3L352,163L351.5,163.1L351,163.3L350.5,163.2L350,164.1L349.5,164.7L349,164.3L348.5,164.2L348,164.7L347.5,164.1L347,163.9L346.5,164.1L346,164.2L345.5,165L345,165.2L344.5,165.4L344,165.2L343.5,164.8L343,165.4L342.5,166.4L342,166.3L341.5,166.4L341,166.1L340.5,165.5L340,165.9L339.5,165.5L339,165.6L338.5,165.8L338,166.1L337.5,166L337,165.7L336.5,166.1L336,166.1L335.5,166.2L335,166.8L334.5,167.3L334,167L333.5,167L333,167.6L332.5,167.6L332,167.8L331.5,168.2L331,167.9L330.5,167.3L330,167.1L329.5,167.6L329,168.2L328.5,168.4L328,168.3L327.5,169.1L327,168.8L326.5,168.6L326,168L325.5,167.9L325,168.4L324.5,167.9L324,167.7L323.5,166.9L323,166.7L322.5,166.7L322,166.3L321.5,165.4L321,164.1L320.5,165L320,166.3L319.5,165.3L319,164.7L318.5,164.3L318,164.8L317.5,165.2L317,164.7L316.5,164.7L316,164.1L315.5,164.1L315,163.8L314.5,163L314,163.1L313.5,163.3L313,163L312.5,162.7L312,162.9L311.5,163.2L311,163L310.5,163.2L310,163.6L309.5,163.2L309,163.6L308.5,164.2L308,163.6L307.5,162.8L307,163.1L306.5,164.2L306,163.9L305.5,163.6Z" fill="#c9c9c9" stroke="none" />
<path d="M305.5,159.6L306,159.9L306.5,160.2L307,159L307.5,158.8L308,159.6L308.5,160.1L309,159.5L309.5,159.1L310,159.5L310.5,159.1L311,158.9L311.5,159.1L312,158.8L312.5,158.6L313,158.9L313.5,159.1L314,158.9L314.5,158.8L315,159.6L315.5,160L316,160L316.5,160.5L317,160.5L317.5,161L318,160.6L318.5,160.1L319,160.5L319.5,161.1L320,162.1L320.5,160.7L321,159.9L321.5,161.2L322,162.1L322.5,162.4L323,162.4L323.5,162.7L324,163.4L324.5,163.6L325,164.1L325.5,163.5L326,163.6L326.5,164.3L327,164.5L327.5,164.8L328,163.9L328.5,164L329,163.9L329.5,163.2L330,162.7L330.5,162.9L331,163.5L331.5,163.8L332,163.4L332.5,163.2L333,163.1L333.5,162.5L334,162.6L334.5,162.9L335,162.4L335.5,161.7L336,161.6L336.5,161.6L337,161.2L337.5,161.5L338,161.6L338.5,161.3L339,161L339.5,160.9L340,161.3L340.5,161L341,161.6L341.5,161.8L342,161.7L342.5,161.9L343,160.8L343.5,160.3L344,160.6L344.5,160.8L345,160.5L345.5,160.3L346,159.5L346.5,159.5L347,159.3L347.5,159.5L348,160L348.5,159.5L349,159.7L349.5,160L350,159.4L350.5,158.5L351,158.6L351.5,158.4L352,158.3L352.5,159.6L353,159.4L353.5,158.9L354,158.6L354.5,158.2L355,158.5L355.5,158.1L356,158.2L356.5,158.7L357,158.3L357.5,157.4L358,156.6L358.5,156.4L359,156.2L359.5,155.8L360,155.4L360.5,155.2L361,153.9L361.5,152.5L362,153.1L362.5,152.5L363,151.3L363.5,150.8L364,150L364.5,149.6L365,150.6L365.5,150.5L366,148.4L366.5,147L367,146.6L367.5,146.7L368,145.7L368.5,144.2L369,144L369.5,143.7L370,142L370.5,140L371,138.1L371.5,136.8L372,134.8L372.5,133.4L373,131.7L373.5,129L374,127.1L374.5,124.2L375,119.7L375.5,116.3L376,113.8L376.5,109.8L377,105.5L377.5,102.1L378,97.9L378.5,94.3L379,89.3L379.5,83.1L380,76.7L380.5,68.3L381,59.8L381.5,53L382,48.6L382.5,46L383,45L383.5,48.4L384,55.1L384.5,61.4L385,67.9L385.5,74.6L386,81.8L386.5,90L387,97.3L387.5,102.4L388,107.2L388.5,111.8L389,113.4L389.5,115.4L390,119.6L390.5,122.1L391,123.4L391.5,125.1L392,126.7L392.5,128.6L393,130.4L393.5,132.5L394,134.3L394.5,135.6L395,137.1L395.5,139L396,140.9L396.5,142.7L397,145.2L397.5,147.1L398,148.5L398.5,150.1L399,151.4L399.5,152.6L400,153.8L400.5,155.4L401,156.2L401.5,157.4L402,158.8L402.5,158.8L403,159.5L403.5,160.4L404,161.4L404.5,162.1L405,163.1L405.5,163.6L406,162.7L406.5,163L407,163.3L407.5,163.6L408,165L408.5,165.4L409,164.5L409.5,164L410,165.4L410.5,165.9L411,165.3L411.5,165.6L412,166.7L412.5,166.9L413,166L413.5,165.7L414,165.9L414.5,165.6L415,165L415.5,165.3L416,165.4L416.5,165.4L417,165.8L417.5,166.8L418,166.5L418.5,165.5L419,165.8L419.5,166.1L420,166.6L420.5,166.2L421,165.5L421.5,165L422,165L422.5,165.8L423,166.2L423.5,165.6L424,165.3L424.5,165.7L425,165.9L425.5,165.6L426,165.2L426.5,164.6L427,164.1L427.5,165.3L428,164.8L428.5,163.8L429,164.6L429.5,164.5L430,163.9L430.5,163.8L431,164L431.5,163.8L432,162.9L432.5,162.7L433,163L433.5,162.7L434,163L434.5,163.3L435,163.4L435.5,162.8L436,162.7L436.5,163.3L437,163.3L437.5,163.3L438,162.6L438.5,161.9L439,162.2L439.5,161.6L440,161.2L440.5,161.4L441,161.1L441.5,160.5L442,160.2L442.5,160.7L443,161.3L443.5,161.6L444,161.1L444.5,160.6L445,160.2L445.5,160.3L446,160.5L446.5,160.5L447,161.2L447.5,160.9L448,159.5L448.5,159.1L449,159.1L449.5,158.9L450,160L450.5,160.6L451,159.4L451.5,159.5L452,160.6L452.5,160.2L453,159.4L453.5,159.4L454,159.7L454.5,160.1L455,160.4L455.5,160.6L456,160.6L456.5,160.6L457,160.4L457.5,159.2L458,158.9L458.5,159.6L459,159.5L459.5,159.7L460,159.7L460.5,159L461,159.7L461.5,160.3L462,159.9" fill="none" stroke="#333" stroke-width="1" stroke-linejoin="round" />
<line x1="305.5" y1="11.4" x2="305.5" y2="183" stroke="#4a4a4a" stroke-width="1.2" />
<line x1="305.5" y1="183" x2="462.5" y2="183" stroke="#4a4a4a" stroke-width="1.2" />
<line x1="305.5" y1="11.4" x2="308" y2="11.4" stroke="#444" stroke-width="1" />
<line x1="305.5" y1="35.9" x2="308" y2="35.9" stroke="#444" stroke-width="1" />
<line x1="305.5" y1="60.3" x2="308" y2="60.3" stroke="#444" stroke-width="1" />
<line x1="305.5" y1="84.8" x2="308" y2="84.8" stroke="#444" stroke-width="1" />
<line x1="305.5" y1="109.2" x2="308" y2="109.2" stroke="#444" stroke-width="1" />
<line x1="305.5" y1="133.7" x2="308" y2="133.7" stroke="#444" stroke-width="1" />
<line x1="305.5" y1="158.1" x2="308" y2="158.1" stroke="#444" stroke-width="1" />
<line x1="305.5" y1="182.6" x2="308" y2="182.6" stroke="#444" stroke-width="1" />
<line x1="305.5" y1="183" x2="305.5" y2="180.5" stroke="#444" stroke-width="1" />
<line x1="325.1" y1="183" x2="325.1" y2="180.5" stroke="#444" stroke-width="1" />
<line x1="344.7" y1="183" x2="344.7" y2="180.5" stroke="#444" stroke-width="1" />
<line x1="364.4" y1="183" x2="364.4" y2="180.5" stroke="#444" stroke-width="1" />
<line x1="384" y1="183" x2="384" y2="180.5" stroke="#444" stroke-width="1" />
<line x1="403.6" y1="183" x2="403.6" y2="180.5" stroke="#444" stroke-width="1" />
<line x1="423.2" y1="183" x2="423.2" y2="180.5" stroke="#444" stroke-width="1" />
<line x1="442.8" y1="183" x2="442.8" y2="180.5" stroke="#444" stroke-width="1" />
<line x1="462.5" y1="183" x2="462.5" y2="180.5" stroke="#444" stroke-width="1" />
<text x="302.5" y="15.7" font-size="10" fill="#333" text-anchor="end" font-weight="normal" >0.12</text>
<text x="302.5" y="64.6" font-size="10" fill="#333" text-anchor="end" font-weight="normal" >0.08</text>
<text x="302.5" y="113.5" font-size="10" fill="#333" text-anchor="end" font-weight="normal" >0.04</text>
<text x="302.5" y="162.4" font-size="10" fill="#333" text-anchor="end" font-weight="normal" >0</text>
<text x="303.5" y="193.6" font-size="10" fill="#333" text-anchor="middle" font-weight="normal" >-20</text>
<text x="342.8" y="193.6" font-size="10" fill="#333" text-anchor="middle" font-weight="normal" >-10</text>
<text x="384" y="193.6" font-size="10" fill="#333" text-anchor="middle" font-weight="normal" >0</text>
<text x="423.2" y="193.6" font-size="10" fill="#333" text-anchor="middle" font-weight="normal" >10</text>
<text x="462.5" y="193.6" font-size="10" fill="#333" text-anchor="middle" font-weight="normal" >20</text>
<text x="385.4" y="204.1" font-size="10" fill="#222" text-anchor="middle" font-weight="normal" >time lag (s)</text>
<text x="0" y="0" transform="translate(275.6,99.4) rotate(-90)" font-size="10" fill="#222" text-anchor="middle" font-weight="normal" >cross-correlation</text>
<text x="459.5" y="11.2" font-size="15.2" font-weight="bold" fill="#1a1a1a">C</text>
<path d="M517,119.6L517.5,119.6L518,119L518.5,118.7L519,118.5L519.5,118.7L520,118.8L520.5,119.1L521,119.1L521.5,118.8L522,118.9L522.5,118.9L523,118.8L523.5,118.5L524,118.6L524.5,118.6L525,118.6L525.5,118.4L526,118.3L526.5,118.2L527,118.3L527.5,118.3L528,118.3L528.5,118.1L529,118.6L529.5,118.3L530,118.5L530.5,118L531,118L531.5,117.8L532,117.9L532.5,118.1L533,117.9L533.5,117.6L534,117.2L534.5,117.2L535,117.3L535.5,117.5L536,117.4L536.5,117.4L537,117.3L537.5,117.2L538,116.7L538.5,116.1L539,115.8L539.5,116.2L540,116.2L540.5,116.5L541,116.3L541.5,116.6L542,116.5L542.5,116.3L543,115.9L543.5,115.6L544,115.6L544.5,115.4L545,115.3L545.5,115.5L546,115.2L546.5,115.1L547,114.6L547.5,114.9L548,114.9L548.5,114.9L549,114.9L549.5,114.5L550,114.6L550.5,114.3L551,114.6L551.5,114.3L552,113.9L552.5,113.6L553,113.5L553.5,114.2L554,114.3L554.5,114.2L555,113.6L555.5,113.7L556,113.9L556.5,114.1L557,113.7L557.5,113.1L558,113.1L558.5,113.6L559,113.9L559.5,113.9L560,113.4L560.5,113.1L561,113L561.5,112.6L562,112.7L562.5,112.4L563,112.7L563.5,112.7L564,112.6L564.5,112.2L565,111.9L565.5,111.7L566,111.6L566.5,111.5L567,111.2L567.5,111.2L568,111L568.5,110.9L569,110.6L569.5,110.8L570,111L570.5,111.5L571,111.1L571.5,110.8L572,110.5L572.5,110.6L573,110.6L573.5,110.6L574,110.5L574.5,110.2L575,109.6L575.5,109.6L576,109.7L576.5,109.5L577,109.2L577.5,109.1L578,109.3L578.5,109.2L579,109.1L579.5,108.9L580,108.6L580.5,108.1L581,107.7L581.5,107.6L582,106.9L582.5,106.5L583,106.3L583.5,106.6L584,105.9L584.5,105.9L585,105L585.5,105.2L586,104.5L586.5,104.5L587,103.9L587.5,103.1L588,102.5L588.5,101.9L589,101.1L589.5,100.9L590,100.6L590.5,100.6L591,99L591.5,97.7L592,96.1L592.5,95L593,93.5L593.5,92.3L594,91.9L594.5,92.4L595,93.6L595.5,95.1L596,96.9L596.5,98.6L597,99.7L597.5,100.9L598,101.9L598.5,102.5L599,103L599.5,103.3L600,103.8L600.5,104.2L601,104.5L601.5,104.8L602,104.8L602.5,105.3L603,105.9L603.5,106.3L604,106.6L604.5,106.5L605,106.7L605.5,106.7L606,107.4L606.5,108.2L607,108.8L607.5,108.7L608,108.6L608.5,108.8L609,109.3L609.5,109.4L610,109.8L610.5,110L611,110.1L611.5,110.2L612,110L612.5,110.2L613,110.3L613.5,110.8L614,110.9L614.5,111.3L615,111.6L615.5,111.8L616,111.8L616.5,111.8L617,112.3L617.5,112.9L618,113.4L618.5,113.4L619,113.6L619.5,113.4L620,113.8L620.5,113.6L621,113.5L621.5,113.9L622,114.4L622.5,114.8L623,114.5L623.5,114.3L624,114.6L624.5,114.5L625,114.5L625.5,114.7L626,115.1L626.5,115.5L627,115.6L627.5,116L628,115.8L628.5,116L629,115.3L629.5,115.3L630,115.6L630.5,115.9L631,116.2L631.5,116.1L632,116.1L632.5,116.1L633,116L633.5,116.2L634,116.4L634.5,116.7L635,116.7L635.5,116.5L636,116.5L636.5,116.6L637,117L637.5,117.4L638,117.6L638.5,117.5L639,117L639.5,116.8L640,116.7L640.5,116.6L641,116.7L641.5,116.8L642,117.1L642.5,117.2L643,117.2L643.5,116.9L644,117.3L644.5,117.5L645,118L645.5,117.9L646,118.1L646.5,117.8L647,117.8L647.5,118.1L648,117.9L648.5,118.1L649,117.9L649.5,118.3L650,118.3L650.5,118.2L651,118.1L651.5,118.1L652,117.8L652.5,117.9L653,117.8L653.5,118L654,118.3L654.5,118.6L655,118.5L655.5,118.9L656,119.1L656.5,119.6L657,119.3L657.5,119.2L658,119.3L658.5,119.6L659,119.5L659.5,119.6L660,120.2L660.5,120.3L661,120.4L661.5,120.1L662,120.5L662.5,120.7L663,120.6L663.5,120.7L664,120.8L664.5,121.1L665,121.1L665.5,121L666,121L666.5,121.4L667,121.3L667.5,121.6L668,121.1L668.5,121.5L669,121.3L669.5,121.2L670,121.1L670.5,121L671,121.4L671.5,121.7L672,121.7L672.5,121.6L673,121.6L673.5,121.9L674,122.1L674,130.5L673.5,130.3L673,130.1L672.5,130.1L672,130.2L671.5,130.2L671,129.9L670.5,129.5L670,129.7L669.5,129.8L669,130L668.5,130.1L668,129.8L667.5,130.3L667,130L666.5,130.2L666,129.8L665.5,129.8L665,129.9L664.5,130L664,129.7L663.5,129.6L663,129.5L662.5,129.7L662,129.5L661.5,129.1L661,129.5L660.5,129.3L660,129.2L659.5,128.7L659,128.6L658.5,128.7L658,128.5L657.5,128.4L657,128.6L656.5,128.9L656,128.4L655.5,128.2L655,127.8L654.5,127.9L654,127.6L653.5,127.4L653,127.2L652.5,127.3L652,127.3L651.5,127.6L651,127.6L650.5,127.8L650,127.8L649.5,127.8L649,127.5L648.5,127.7L648,127.6L647.5,127.7L647,127.5L646.5,127.5L646,127.8L645.5,127.7L645,127.8L644.5,127.3L644,127.2L643.5,126.8L643,127.1L642.5,127.1L642,127.1L641.5,126.8L641,126.7L640.5,126.6L640,126.7L639.5,126.8L639,127.1L638.5,127.6L638,127.7L637.5,127.6L637,127.2L636.5,126.8L636,126.7L635.5,126.7L635,127L634.5,127L634,126.8L633.5,126.6L633,126.4L632.5,126.5L632,126.6L631.5,126.5L631,126.7L630.5,126.4L630,126.1L629.5,125.9L629,125.9L628.5,126.5L628,126.4L627.5,126.7L627,126.2L626.5,126.2L626,125.8L625.5,125.4L625,125.3L624.5,125.3L624,125.5L623.5,125.2L623,125.4L622.5,125.7L622,125.3L621.5,124.8L621,124.5L620.5,124.6L620,124.8L619.5,124.5L619,124.8L618.5,124.8L618,124.9L617.5,124.5L617,124.1L616.5,123.6L616,123.8L615.5,123.9L615,123.9L614.5,123.7L614,123.4L613.5,123.4L613,123L612.5,123.1L612,123L611.5,123.3L611,123.3L610.5,123.4L610,123.3L609.5,123.1L609,123L608.5,122.6L608,122.6L607.5,122.8L607,123L606.5,122.6L606,121.9L605.5,121.3L605,121.4L604.5,121.3L604,121.6L603.5,121.4L603,121.2L602.5,120.7L602,120.3L601.5,120.4L601,120.2L600.5,120.1L600,119.8L599.5,119.8L599,120L598.5,120L598,119.9L597.5,119.4L597,118.7L596.5,118.1L596,116.9L595.5,115.6L595,114.6L594.5,113.9L594,113.9L593.5,113.9L593,114.8L592.5,116L592,116.7L591.5,117.9L591,118.8L590.5,120.1L590,119.7L589.5,119.7L589,119.6L588.5,120L588,120.2L587.5,120.4L587,120.9L586.5,121.1L586,120.8L585.5,121.1L585,120.6L584.5,121.1L584,120.8L583.5,121.1L583,120.5L582.5,120.2L582,120.4L581.5,120.6L581,120.4L580.5,120.4L580,120.6L579.5,120.9L579,121L578.5,121.1L578,121.2L577.5,121L577,121.1L576.5,121.4L576,121.5L575.5,121.4L575,121.4L574.5,122L574,122.3L573.5,122.4L573,122.3L572.5,122.4L572,122.3L571.5,122.5L571,122.8L570.5,123.2L570,122.7L569.5,122.5L569,122.2L568.5,122.5L568,122.6L567.5,122.8L567,122.8L566.5,123.1L566,123.2L565.5,123.3L565,123.4L564.5,123.8L564,124.1L563.5,124.2L563,124.1L562.5,123.8L562,124.1L561.5,124L561,124.4L560.5,124.4L560,124.8L559.5,125.2L559,125.2L558.5,124.9L558,124.4L557.5,124.4L557,125L556.5,125.3L556,125.1L555.5,125L555,124.8L554.5,125.4L554,125.4L553.5,125.3L553,124.7L552.5,124.7L552,125L551.5,125.4L551,125.6L550.5,125.3L550,125.6L549.5,125.5L549,126L548.5,125.9L548,125.9L547.5,125.8L547,125.6L546.5,126.1L546,126.1L545.5,126.4L545,126.2L544.5,126.3L544,126.4L543.5,126.5L543,126.7L542.5,127.1L542,127.3L541.5,127.4L541,127L540.5,127.3L540,126.9L539.5,126.9L539,126.5L538.5,126.8L538,127.4L537.5,127.9L537,128L536.5,128L536,128L535.5,128.1L535,127.8L534.5,127.7L534,127.8L533.5,128.1L533,128.4L532.5,128.6L532,128.4L531.5,128.3L531,128.5L530.5,128.4L530,128.9L529.5,128.7L529,129L528.5,128.4L528,128.6L527.5,128.6L527,128.6L526.5,128.5L526,128.6L525.5,128.7L525,128.9L524.5,128.8L524,128.8L523.5,128.7L523,129L522.5,129.1L522,129.1L521.5,129L521,129.2L520.5,129.2L520,128.9L519.5,128.8L519,128.6L518.5,128.8L518,129.1L517.5,129.7L517,129.6Z" fill="#a9b8d6" stroke="none" />
<path d="M517,124.6L517.5,124.7L518,124.1L518.5,123.7L519,123.6L519.5,123.8L520,123.9L520.5,124.1L521,124.2L521.5,123.9L522,124L522.5,124L523,123.9L523.5,123.6L524,123.7L524.5,123.7L525,123.8L525.5,123.6L526,123.5L526.5,123.3L527,123.5L527.5,123.5L528,123.5L528.5,123.3L529,123.8L529.5,123.5L530,123.7L530.5,123.2L531,123.2L531.5,123.1L532,123.1L532.5,123.3L533,123.2L533.5,122.9L534,122.5L534.5,122.4L535,122.6L535.5,122.8L536,122.7L536.5,122.7L537,122.7L537.5,122.5L538,122L538.5,121.5L539,121.1L539.5,121.6L540,121.5L540.5,121.9L541,121.6L541.5,122L542,121.9L542.5,121.7L543,121.3L543.5,121L544,121L544.5,120.9L545,120.8L545.5,120.9L546,120.6L546.5,120.6L547,120.1L547.5,120.3L548,120.4L548.5,120.4L549,120.5L549.5,120L550,120.1L550.5,119.8L551,120.1L551.5,119.9L552,119.5L552.5,119.2L553,119.1L553.5,119.7L554,119.8L554.5,119.8L555,119.2L555.5,119.3L556,119.5L556.5,119.7L557,119.4L557.5,118.7L558,118.8L558.5,119.2L559,119.5L559.5,119.5L560,119.1L560.5,118.7L561,118.7L561.5,118.3L562,118.4L562.5,118.1L563,118.4L563.5,118.4L564,118.4L564.5,118L565,117.6L565.5,117.5L566,117.4L566.5,117.3L567,117L567.5,117L568,116.8L568.5,116.7L569,116.4L569.5,116.6L570,116.8L570.5,117.3L571,117L571.5,116.7L572,116.4L572.5,116.5L573,116.5L573.5,116.5L574,116.4L574.5,116.1L575,115.5L575.5,115.5L576,115.6L576.5,115.5L577,115.1L577.5,115L578,115.2L578.5,115.2L579,115L579.5,114.9L580,114.6L580.5,114.2L581,114.1L581.5,114.1L582,113.6L582.5,113.4L583,113.4L583.5,113.8L584,113.3L584.5,113.5L585,112.8L585.5,113.1L586,112.7L586.5,112.8L587,112.4L587.5,111.7L588,111.4L588.5,110.9L589,110.3L589.5,110.3L590,110.1L590.5,110.4L591,108.9L591.5,107.8L592,106.4L592.5,105.5L593,104.2L593.5,103.1L594,102.9L594.5,103.1L595,104.1L595.5,105.4L596,106.9L596.5,108.3L597,109.2L597.5,110.2L598,110.9L598.5,111.3L599,111.5L599.5,111.6L600,111.8L600.5,112.1L601,112.3L601.5,112.6L602,112.5L602.5,113L603,113.5L603.5,113.9L604,114.1L604.5,113.9L605,114L605.5,114L606,114.6L606.5,115.4L607,115.9L607.5,115.7L608,115.6L608.5,115.7L609,116.1L609.5,116.3L610,116.5L610.5,116.7L611,116.7L611.5,116.7L612,116.5L612.5,116.7L613,116.7L613.5,117.1L614,117.1L614.5,117.5L615,117.8L615.5,117.8L616,117.8L616.5,117.7L617,118.2L617.5,118.7L618,119.2L618.5,119.1L619,119.2L619.5,118.9L620,119.3L620.5,119.1L621,119L621.5,119.3L622,119.8L622.5,120.2L623,119.9L623.5,119.8L624,120.1L624.5,119.9L625,119.9L625.5,120.1L626,120.5L626.5,120.9L627,120.9L627.5,121.4L628,121.1L628.5,121.2L629,120.6L629.5,120.6L630,120.9L630.5,121.1L631,121.5L631.5,121.3L632,121.3L632.5,121.3L633,121.2L633.5,121.4L634,121.6L634.5,121.8L635,121.9L635.5,121.6L636,121.6L636.5,121.7L637,122.1L637.5,122.5L638,122.7L638.5,122.5L639,122.1L639.5,121.8L640,121.7L640.5,121.6L641,121.7L641.5,121.8L642,122.1L642.5,122.1L643,122.2L643.5,121.9L644,122.2L644.5,122.4L645,122.9L645.5,122.8L646,123L646.5,122.7L647,122.7L647.5,122.9L648,122.8L648.5,122.9L649,122.7L649.5,123.1L650,123L650.5,123L651,122.9L651.5,122.9L652,122.6L652.5,122.6L653,122.5L653.5,122.7L654,123L654.5,123.2L655,123.1L655.5,123.5L656,123.8L656.5,124.2L657,123.9L657.5,123.8L658,123.9L658.5,124.2L659,124L659.5,124.2L660,124.7L660.5,124.8L661,125L661.5,124.6L662,125L662.5,125.2L663,125L663.5,125.2L664,125.3L664.5,125.5L665,125.5L665.5,125.4L666,125.4L666.5,125.8L667,125.7L667.5,125.9L668,125.5L668.5,125.8L669,125.7L669.5,125.5L670,125.4L670.5,125.2L671,125.6L671.5,125.9L672,125.9L672.5,125.9L673,125.9L673.5,126.1L674,126.3" fill="none" stroke="#4a5f9a" stroke-width="1" stroke-linejoin="round" />
<path d="M517,127L517.5,126.8L518,126.6L518.5,126.7L519,127L519.5,127L520,126.9L520.5,126.7L521,126.7L521.5,126.9L522,127L522.5,126.9L523,126.6L523.5,126.7L524,127L524.5,127.1L525,126.9L525.5,126.8L526,126.7L526.5,126.6L527,126.7L527.5,126.9L528,127.2L528.5,127.3L529,127.5L529.5,127.4L530,127.6L530.5,127.6L531,127.6L531.5,127.4L532,127.4L532.5,127.4L533,127.4L533.5,127.3L534,127.2L534.5,127.2L535,127.3L535.5,127.5L536,127.4L536.5,127.4L537,127.5L537.5,127.8L538,127.8L538.5,128L539,127.9L539.5,128.1L540,128.3L540.5,128.6L541,128.8L541.5,129.1L542,129.6L542.5,130L543,130.3L543.5,130.9L544,130.9L544.5,131L545,130.7L545.5,130.9L546,130.9L546.5,130.9L547,131.1L547.5,131L548,131.1L548.5,131.1L549,131.1L549.5,131.1L550,131.2L550.5,131.3L551,131.2L551.5,130.9L552,130.7L552.5,130.8L553,130.9L553.5,130.8L554,130.7L554.5,130.7L555,130.7L555.5,130.7L556,130.4L556.5,130.3L557,130.1L557.5,130.5L558,130.5L558.5,130.5L559,130.1L559.5,130.1L560,130.2L560.5,130.2L561,130.5L561.5,130.4L562,130.5L562.5,130.3L563,130.3L563.5,129.9L564,129.8L564.5,129.7L565,129.8L565.5,129.5L566,129.5L566.5,129.5L567,129.6L567.5,129.4L568,129.3L568.5,129.3L569,129.1L569.5,128.8L570,128.6L570.5,128.6L571,128.5L571.5,128.1L572,127.7L572.5,127.4L573,127L573.5,126.3L574,125.8L574.5,124.8L575,124L575.5,122.9L576,121.6L576.5,120.4L577,119.2L577.5,118.2L578,117.3L578.5,116.1L579,114.9L579.5,113.3L580,112.1L580.5,110.4L581,109.1L581.5,107.3L582,105.5L582.5,103.6L583,101.6L583.5,99.8L584,98.2L584.5,96.5L585,94.6L585.5,92.2L586,89.9L586.5,88.3L587,86.3L587.5,84.6L588,82.4L588.5,80L589,76.5L589.5,72.6L590,68.3L590.5,63.8L591,59.4L591.5,55.2L592,50.4L592.5,45.4L593,40.6L593.5,36L594,32.3L594.5,29.3L595,27.9L595.5,29.6L596,32.3L596.5,35.9L597,39.4L597.5,43.3L598,47.2L598.5,51.7L599,56.7L599.5,61.9L600,67.7L600.5,73.7L601,80.4L601.5,86.7L602,93.1L602.5,97.2L603,100.7L603.5,103.6L604,106.8L604.5,109.1L605,111.4L605.5,113.7L606,115.7L606.5,117.6L607,119.2L607.5,120.9L608,122.9L608.5,124.6L609,125.8L609.5,126.3L610,126.8L610.5,127.6L611,128.5L611.5,129L612,129.2L612.5,129.5L613,129.6L613.5,129.8L614,130.3L614.5,130.7L615,131.4L615.5,131.5L616,131.7L616.5,131.7L617,132L617.5,132.3L618,132.2L618.5,132.2L619,132.4L619.5,132.6L620,132.6L620.5,132.7L621,132.9L621.5,132.9L622,132.8L622.5,132.8L623,133.1L623.5,133.2L624,133.5L624.5,133.6L625,133.5L625.5,133.4L626,133.5L626.5,133.7L627,133.8L627.5,133.6L628,133.4L628.5,133.4L629,133.3L629.5,133.1L630,133L630.5,133L631,133.2L631.5,132.8L632,132.6L632.5,132.4L633,132.4L633.5,132.6L634,132.3L634.5,132.4L635,132L635.5,132.1L636,132L636.5,132.1L637,131.9L637.5,132L638,131.8L638.5,131.9L639,131.6L639.5,131.8L640,131.7L640.5,131.7L641,131.3L641.5,131.4L642,131.1L642.5,131L643,131L643.5,131.1L644,131L644.5,131L645,130.8L645.5,130.6L646,130.3L646.5,130L647,130.1L647.5,130L648,130L648.5,129.6L649,129.3L649.5,129.2L650,129L650.5,128.9L651,128.4L651.5,128.3L652,127.8L652.5,127.7L653,127.5L653.5,127L654,126.7L654.5,126.3L655,126L655.5,125.3L656,124.8L656.5,124.6L657,124.4L657.5,124.3L658,124.2L658.5,124.3L659,124.5L659.5,124.3L660,124.1L660.5,124L661,124.2L661.5,124.6L662,124.5L662.5,124.7L663,124.8L663.5,125L664,125.1L664.5,125.2L665,125.2L665.5,125.4L666,125.6L666.5,125.6L667,126L667.5,125.9L668,126.3L668.5,126.2L669,126.3L669.5,126.5L670,126.7L670.5,126.7L671,126.5L671.5,126.6L672,127.2L672.5,127.5L673,127.8L673.5,127.6L674,127.7L674,132.7L673.5,132.6L673,132.9L672.5,132.6L672,132.3L671.5,131.7L671,131.6L670.5,131.8L670,131.8L669.5,131.7L669,131.5L668.5,131.4L668,131.5L667.5,131.2L667,131.2L666.5,130.9L666,130.9L665.5,130.7L665,130.6L664.5,130.6L664,130.5L663.5,130.5L663,130.3L662.5,130.2L662,130L661.5,130.1L661,129.7L660.5,129.6L660,129.6L659.5,129.9L659,130.1L658.5,130L658,129.9L657.5,130L657,130.1L656.5,130.4L656,130.6L655.5,131.1L655,131.7L654.5,132.1L654,132.6L653.5,132.9L653,133.4L652.5,133.6L652,133.8L651.5,134.2L651,134.4L650.5,134.9L650,135L649.5,135.2L649,135.3L648.5,135.6L648,136L647.5,136.1L647,136.2L646.5,136.1L646,136.5L645.5,136.8L645,137.1L644.5,137.2L644,137.3L643.5,137.3L643,137.3L642.5,137.3L642,137.4L641.5,137.8L641,137.7L640.5,138.1L640,138.1L639.5,138.3L639,138.1L638.5,138.4L638,138.3L637.5,138.5L637,138.4L636.5,138.6L636,138.6L635.5,138.7L635,138.7L634.5,139L634,139L633.5,139.2L633,139.1L632.5,139.1L632,139.3L631.5,139.5L631,140L630.5,139.8L630,139.9L629.5,139.9L629,140.2L628.5,140.3L628,140.3L627.5,140.6L627,140.8L626.5,140.7L626,140.5L625.5,140.4L625,140.5L624.5,140.7L624,140.6L623.5,140.3L623,140.2L622.5,139.9L622,140L621.5,140.1L621,140.1L620.5,139.9L620,139.8L619.5,139.9L619,139.7L618.5,139.5L618,139.5L617.5,139.7L617,139.4L616.5,139.1L616,139.1L615.5,138.9L615,138.9L614.5,138.1L614,137.8L613.5,137.3L613,137.1L612.5,137.1L612,136.8L611.5,136.6L611,136.1L610.5,135.3L610,134.5L609.5,133.9L609,133.5L608.5,132.3L608,130.6L607.5,128.7L607,127L606.5,125.4L606,123.5L605.5,121.6L605,119.2L604.5,117L604,114.7L603.5,111.6L603,108.7L602.5,105.1L602,101.1L601.5,96.4L601,91.8L600.5,86.8L600,82.6L599.5,78.5L599,74.9L598.5,71.7L598,68.9L597.5,66.7L597,64.5L596.5,62.8L596,60.9L595.5,59.9L595,59.9L594.5,60L594,61.7L593.5,64.1L593,67.4L592.5,70.9L592,74.6L591.5,78.1L591,81L590.5,84.1L590,87.3L589.5,90.3L589,92.9L588.5,95.1L588,96.2L587.5,97.1L587,97.5L586.5,98.2L586,98.5L585.5,99.5L585,100.6L584.5,102.5L584,104.1L583.5,105.8L583,107.5L582.5,109.5L582,111.5L581.5,113.2L581,115L580.5,116.4L580,118L579.5,119.2L579,120.8L578.5,122L578,123.2L577.5,124.1L577,125L576.5,126.3L576,127.5L575.5,128.8L575,129.8L574.5,130.7L574,131.6L573.5,132.2L573,132.9L572.5,133.2L572,133.5L571.5,133.9L571,134.3L570.5,134.4L570,134.4L569.5,134.6L569,134.8L568.5,135.1L568,135.1L567.5,135.2L567,135.4L566.5,135.2L566,135.3L565.5,135.2L565,135.5L564.5,135.4L564,135.5L563.5,135.6L563,136L562.5,135.9L562,136.2L561.5,136.1L561,136.1L560.5,135.9L560,135.8L559.5,135.7L559,135.7L558.5,136.1L558,136.1L557.5,136.1L557,135.7L556.5,135.8L556,135.9L555.5,136.3L555,136.2L554.5,136.2L554,136.3L553.5,136.4L553,136.4L552.5,136.3L552,136.2L551.5,136.4L551,136.7L550.5,136.8L550,136.7L549.5,136.6L549,136.6L548.5,136.6L548,136.6L547.5,136.5L547,136.5L546.5,136.3L546,136.3L545.5,136.3L545,136.2L544.5,136.4L544,136.3L543.5,136.2L543,135.7L542.5,135.4L542,134.9L541.5,134.5L541,134.1L540.5,133.9L540,133.7L539.5,133.5L539,133.2L538.5,133.3L538,133.1L537.5,133.2L537,132.8L536.5,132.7L536,132.6L535.5,132.8L535,132.5L534.5,132.5L534,132.5L533.5,132.6L533,132.6L532.5,132.6L532,132.7L531.5,132.7L531,132.8L530.5,132.8L530,132.8L529.5,132.6L529,132.6L528.5,132.4L528,132.3L527.5,132.1L527,131.9L526.5,131.7L526,131.8L525.5,132L525,132L524.5,132.2L524,132.1L523.5,131.8L523,131.7L522.5,132L522,132L521.5,132L521,131.7L520.5,131.8L520,131.9L519.5,132.1L519,132L518.5,131.8L518,131.6L517.5,131.8L517,132Z" fill="#b5d3a6" stroke="none" />
<path d="M517,129.5L517.5,129.3L518,129.1L518.5,129.3L519,129.5L519.5,129.5L520,129.4L520.5,129.3L521,129.2L521.5,129.5L522,129.5L522.5,129.5L523,129.2L523.5,129.3L524,129.5L524.5,129.6L525,129.5L525.5,129.4L526,129.2L526.5,129.2L527,129.3L527.5,129.5L528,129.8L528.5,129.9L529,130L529.5,130L530,130.2L530.5,130.2L531,130.2L531.5,130L532,130.1L532.5,130L533,130L533.5,129.9L534,129.8L534.5,129.8L535,129.9L535.5,130.1L536,130L536.5,130.1L537,130.2L537.5,130.5L538,130.5L538.5,130.7L539,130.6L539.5,130.8L540,131L540.5,131.2L541,131.5L541.5,131.8L542,132.2L542.5,132.7L543,133L543.5,133.6L544,133.6L544.5,133.7L545,133.4L545.5,133.6L546,133.6L546.5,133.6L547,133.8L547.5,133.8L548,133.9L548.5,133.9L549,133.9L549.5,133.8L550,134L550.5,134.1L551,133.9L551.5,133.7L552,133.4L552.5,133.5L553,133.6L553.5,133.6L554,133.5L554.5,133.5L555,133.5L555.5,133.5L556,133.1L556.5,133.1L557,132.9L557.5,133.3L558,133.3L558.5,133.3L559,132.9L559.5,132.9L560,133L560.5,133.1L561,133.3L561.5,133.2L562,133.4L562.5,133.1L563,133.1L563.5,132.7L564,132.6L564.5,132.5L565,132.6L565.5,132.3L566,132.4L566.5,132.3L567,132.5L567.5,132.3L568,132.2L568.5,132.2L569,132L569.5,131.7L570,131.5L570.5,131.5L571,131.4L571.5,131L572,130.6L572.5,130.3L573,130L573.5,129.2L574,128.7L574.5,127.8L575,126.9L575.5,125.8L576,124.5L576.5,123.4L577,122.1L577.5,121.2L578,120.2L578.5,119.1L579,117.9L579.5,116.3L580,115L580.5,113.4L581,112.1L581.5,110.3L582,108.5L582.5,106.6L583,104.6L583.5,102.8L584,101.1L584.5,99.5L585,97.6L585.5,95.8L586,94.2L586.5,93.2L587,91.9L587.5,90.9L588,89.3L588.5,87.6L589,84.7L589.5,81.5L590,77.8L590.5,73.9L591,70.2L591.5,66.6L592,62.5L592.5,58.2L593,54L593.5,50.1L594,47L594.5,44.7L595,43.9L595.5,44.7L596,46.6L596.5,49.3L597,52L597.5,55L598,58L598.5,61.7L599,65.8L599.5,70.2L600,75.2L600.5,80.2L601,86.1L601.5,91.6L602,97.1L602.5,101.1L603,104.7L603.5,107.6L604,110.7L604.5,113L605,115.3L605.5,117.6L606,119.6L606.5,121.5L607,123.1L607.5,124.8L608,126.7L608.5,128.5L609,129.7L609.5,130.1L610,130.6L610.5,131.5L611,132.3L611.5,132.8L612,133L612.5,133.3L613,133.3L613.5,133.6L614,134L614.5,134.4L615,135.1L615.5,135.2L616,135.4L616.5,135.4L617,135.7L617.5,136L618,135.9L618.5,135.8L619,136.1L619.5,136.3L620,136.2L620.5,136.3L621,136.5L621.5,136.5L622,136.4L622.5,136.4L623,136.6L623.5,136.8L624,137.1L624.5,137.2L625,137L625.5,136.9L626,137L626.5,137.2L627,137.3L627.5,137.1L628,136.9L628.5,136.8L629,136.7L629.5,136.5L630,136.4L630.5,136.4L631,136.6L631.5,136.1L632,136L632.5,135.8L633,135.8L633.5,135.9L634,135.6L634.5,135.7L635,135.4L635.5,135.4L636,135.3L636.5,135.3L637,135.2L637.5,135.2L638,135L638.5,135.2L639,134.9L639.5,135.1L640,134.9L640.5,134.9L641,134.5L641.5,134.6L642,134.2L642.5,134.2L643,134.2L643.5,134.2L644,134.1L644.5,134.1L645,134L645.5,133.7L646,133.4L646.5,133L647,133.1L647.5,133.1L648,133L648.5,132.6L649,132.3L649.5,132.2L650,132L650.5,131.9L651,131.4L651.5,131.2L652,130.8L652.5,130.7L653,130.4L653.5,129.9L654,129.6L654.5,129.2L655,128.8L655.5,128.2L656,127.7L656.5,127.5L657,127.2L657.5,127.1L658,127L658.5,127.2L659,127.3L659.5,127.1L660,126.8L660.5,126.8L661,127L661.5,127.3L662,127.3L662.5,127.5L663,127.6L663.5,127.8L664,127.8L664.5,127.9L665,127.9L665.5,128L666,128.2L666.5,128.3L667,128.6L667.5,128.6L668,128.9L668.5,128.8L669,128.9L669.5,129.1L670,129.2L670.5,129.2L671,129L671.5,129.2L672,129.8L672.5,130L673,130.3L673.5,130.1L674,130.2" fill="none" stroke="#5b9a4f" stroke-width="1.1" stroke-linejoin="round" />
<line x1="516.6" y1="10" x2="516.6" y2="183" stroke="#4a4a4a" stroke-width="1.2" />
<line x1="516.6" y1="183" x2="673.6" y2="183" stroke="#4a4a4a" stroke-width="1.2" />
<line x1="516.6" y1="10" x2="519.1" y2="10" stroke="#444" stroke-width="1" />
<line x1="516.6" y1="38.8" x2="519.1" y2="38.8" stroke="#444" stroke-width="1" />
<line x1="516.6" y1="67.7" x2="519.1" y2="67.7" stroke="#444" stroke-width="1" />
<line x1="516.6" y1="96.5" x2="519.1" y2="96.5" stroke="#444" stroke-width="1" />
<line x1="516.6" y1="125.3" x2="519.1" y2="125.3" stroke="#444" stroke-width="1" />
<line x1="516.6" y1="154.1" x2="519.1" y2="154.1" stroke="#444" stroke-width="1" />
<line x1="516.6" y1="183" x2="519.1" y2="183" stroke="#444" stroke-width="1" />
<line x1="516.6" y1="183" x2="516.6" y2="180.5" stroke="#444" stroke-width="1" />
<line x1="536.2" y1="183" x2="536.2" y2="180.5" stroke="#444" stroke-width="1" />
<line x1="555.8" y1="183" x2="555.8" y2="180.5" stroke="#444" stroke-width="1" />
<line x1="575.3" y1="183" x2="575.3" y2="180.5" stroke="#444" stroke-width="1" />
<line x1="594.9" y1="183" x2="594.9" y2="180.5" stroke="#444" stroke-width="1" />
<line x1="614.5" y1="183" x2="614.5" y2="180.5" stroke="#444" stroke-width="1" />
<line x1="634.1" y1="183" x2="634.1" y2="180.5" stroke="#444" stroke-width="1" />
<line x1="653.7" y1="183" x2="653.7" y2="180.5" stroke="#444" stroke-width="1" />
<line x1="673.2" y1="183" x2="673.2" y2="180.5" stroke="#444" stroke-width="1" />
<text x="515" y="13.6" font-size="10" fill="#333" text-anchor="end" font-weight="normal" >0.2</text>
<text x="515" y="71.3" font-size="10" fill="#333" text-anchor="end" font-weight="normal" >0.1</text>
<text x="515" y="128.9" font-size="10" fill="#333" text-anchor="end" font-weight="normal" >0</text>
<text x="515" y="184.1" font-size="10" fill="#333" text-anchor="end" font-weight="normal" >-0.1</text>
<text x="514.6" y="194.4" font-size="10" fill="#333" text-anchor="middle" font-weight="normal" >-20</text>
<text x="553.8" y="194.4" font-size="10" fill="#333" text-anchor="middle" font-weight="normal" >-10</text>
<text x="594.9" y="194.4" font-size="10" fill="#333" text-anchor="middle" font-weight="normal" >0</text>
<text x="634" y="194.4" font-size="10" fill="#333" text-anchor="middle" font-weight="normal" >10</text>
<text x="673.2" y="194.4" font-size="10" fill="#333" text-anchor="middle" font-weight="normal" >20</text>
<text x="597" y="204.1" font-size="10" fill="#222" text-anchor="middle" font-weight="normal" >time lag (s)</text>
<text x="0" y="0" transform="translate(495.1,101) rotate(-90)" font-size="10" fill="#222" text-anchor="middle" font-weight="normal" >cross-correlation</text>
<text x="525" y="18.6" font-size="10" fill="#6f83b3" text-anchor="start" font-weight="normal" >early</text>
<text x="525" y="29.6" font-size="10" fill="#8aae7a" text-anchor="start" font-weight="normal" >late</text>
<text x="0.2" y="228" font-size="15.2" font-weight="bold" fill="#1a1a1a">D</text>
<text x="9.6" y="289.9" font-size="10" fill="#333" text-anchor="start" font-weight="normal" >Layer V</text>
<text x="7.3" y="339" font-size="10" fill="#333" text-anchor="start" font-weight="normal" >Layer VI</text>
<rect x="50.3" y="272" width="4.1" height="26.8" fill="#c4c6c8"/>
<rect x="50.3" y="324" width="4.1" height="26.2" fill="#c4c6c8"/>
<path d="M73.6,304 V289.5 Q73.6,284.6 78.5,284.6 H91.6" fill="none" stroke="#f0b347" stroke-width="1.6"/>
<line x1="91.8" y1="280.3" x2="91.8" y2="288.6" stroke="#f0b347" stroke-width="1.6" />
<path d="M107,297.7 V303.5 Q107,307.4 110.9,307.4 H147.6" fill="none" stroke="#cc3340" stroke-width="1.3"/>
<path d="M101.6,300.5 V345 Q101.6,349 105.6,349 H120.2" fill="none" stroke="#a5acd8" stroke-width="1.3"/>
<path d="M98.6,298.5 L101.6,301.5 L104.6,298.5" fill="none" stroke="#a5acd8" stroke-width="1.3"/>
<path d="M74,333 V347.5 Q74,352.5 79,352.5 H120.9" fill="none" stroke="#3c58a8" stroke-width="2.1"/>
<path d="M69,330.8 L74,335 L79,330.8" fill="none" stroke="#3c58a8" stroke-width="2.1"/>
<path d="M120.9,346 V353.3 Q120.9,357.3 124.9,357.3 H159.6" fill="none" stroke="#3c58a8" stroke-width="1.3"/>
<ellipse cx="73.6" cy="315.5" rx="12.6" ry="11.6" fill="#f6d49b"/>
<ellipse cx="108.6" cy="286.1" rx="12.6" ry="11.6" fill="#da8a7c"/>
<ellipse cx="120.6" cy="335.5" rx="12.8" ry="11.7" fill="#8ba2c1"/>
<text x="73.6" y="270.9" font-size="10" fill="#c8324e" text-anchor="start" font-weight="normal" >tdTomato</text>
<text x="106.5" y="320.1" font-size="10" fill="#3d58aa" text-anchor="start" font-weight="normal" >hChR2</text>
<text x="153.7" y="310.1" font-size="10" fill="#333" text-anchor="start" font-weight="normal" >spinal cord</text>
<text x="164" y="360.2" font-size="10" fill="#333" text-anchor="start" font-weight="normal" >thalamus</text>
<defs><linearGradient id="tri" x1="0.15" y1="0.9" x2="1" y2="0"><stop offset="0" stop-color="#ffffff"/><stop offset="0.35" stop-color="#e6f4f8"/><stop offset="1" stop-color="#4fb5d0"/></linearGradient></defs>
<path d="M134.8,319.6 L160.7,321.2 L144.3,340.8 Z" fill="url(#tri)"/>
<path d="M110.5,283.6 L118.2,278.4 L119,280.6 Z" fill="#333"/>
<path d="M118.2,278.4 L144.2,263.4 M119,280.6 L147.2,268.6 M118.6,279.5 L145.7,266" fill="none" stroke="#333" stroke-width="0.75"/>
<path d="M143.2,263.9 L144.6,262.9 Q147.5,264.5 147.9,267.6 L146.6,269 Z" fill="none" stroke="#333" stroke-width="0.8"/>
<path d="M128.5,271.9 L130.6,276.0" stroke="#333" stroke-width="0.6"/>
<line x1="147.6" y1="265.4" x2="150.8" y2="263.4" stroke="#333" stroke-width="0.8" />
<defs><filter id="nz" x="0" y="0" width="1" height="1"><feTurbulence type="fractalNoise" baseFrequency="0.9" numOctaves="2" seed="3"/><feColorMatrix type="matrix" values="0.33 0.33 0.33 0 0  0.33 0.33 0.33 0 0  0.33 0.33 0.33 0 0  0 0 0 0 1"/><feComposite in2="SourceAlpha" operator="in"/></filter><radialGradient id="rb" cx="0.5" cy="0.5" r="0.5"><stop offset="0" stop-color="#f7a4aa" stop-opacity="0.85"/><stop offset="0.6" stop-color="#f59aa2" stop-opacity="0.78"/><stop offset="1" stop-color="#f59aa2" stop-opacity="0"/></radialGradient><linearGradient id="gb" x1="0" y1="0" x2="1" y2="0.4"><stop offset="0" stop-color="#8e8e8e"/><stop offset="0.55" stop-color="#9c9c9c"/><stop offset="1" stop-color="#b4b4b4"/></linearGradient></defs>
<rect x="166.2" y="225.4" width="66.6" height="66.6" fill="url(#gb)" stroke="#555" stroke-width="1"/>
<rect x="166.7" y="225.9" width="65.6" height="65.6" fill="#fff" filter="url(#nz)" opacity="0.3"/>
<path d="M205,268 Q220,272 232,282" stroke="#b8b8b8" stroke-width="4" fill="none" opacity="0.6"/>
<ellipse cx="203.3" cy="246.3" rx="9" ry="10.8" transform="rotate(25 203.3 246.3)" fill="url(#rb)"/>
<ellipse cx="195" cy="260.6" rx="8.5" ry="11" transform="rotate(15 195 260.6)" fill="url(#rb)"/>
<ellipse cx="171" cy="229.5" rx="5" ry="3.5" fill="url(#rb)" opacity="0.6"/>
<text x="251" y="225.8" font-size="15.2" font-weight="bold" fill="#1a1a1a">E</text>
<path d="M300.1,249.4L300.5,249.6L300.9,249.9L301.3,249.6L301.7,249.3L302.1,249.5L302.5,249.1L302.9,249L303.3,249.2L303.7,248.6L304.1,248.8L304.5,249.6L304.9,249.3L305.3,248.8L305.7,249.3L306.1,249.7L306.5,249.6L306.9,249.9L307.3,249.5L307.7,249.4L308.1,249.5L308.5,249.2L308.9,249.3L309.3,249.3L309.7,249.6L310.1,249.7L310.5,249.4L310.9,249.3L311.3,249.4L311.7,249.3L312.1,249.1L312.5,249.3L312.9,249.3L313.3,254.3L313.7,276.3L314.1,330.7L314.5,340L314.9,330.8L315.3,324.5L315.7,319.9L316.1,315.7L316.5,311.8L316.9,309.2L317.3,307.1L317.7,305.4L318.1,303.8L318.5,302.7L318.9,301.4L319.3,300.2L319.7,299.4L320.1,299L320.5,298.7L320.9,297.8L321.3,297.9L321.7,298L322.1,297.3L322.5,296.8L322.9,296.6L323.3,296.6L323.7,296.9L324.1,296.7L324.5,296.6L324.9,296.5L325.3,296.4L325.7,296.6L326.1,297.1L326.5,296.4L326.9,295.9L327.3,296.2L327.7,296.3L328.1,296.2L328.5,296L328.9,295.9L329.3,296.1L329.7,296.4L330.1,296.1L330.5,296.2L330.9,296.2L331.3,295.7L331.7,295.9L332.1,296.4L332.5,296.2L332.9,296.4L333.3,296.7L333.7,296.2L334.1,295.7L334.5,296.4L334.9,297L335.3,296.4L335.7,295.8L336.1,295.8L336.5,296L336.9,295.8L337.3,296L337.7,296.1L338.1,295.8L338.5,296.4L338.9,296.6L339.3,296.4L339.7,296.8L340.1,297L340.5,296.8L340.9,296.6L341.3,296.6L341.7,296.7L342.1,295.1L342.5,292.1L342.9,290L343.3,288.4L343.7,286.5L344.1,284.8L344.5,283.1L344.9,280.8L345.3,278.9L345.7,277.2L346.1,275.8L346.5,274.8L346.9,274.1L347.3,272.8L347.7,270.5L348.1,269.3L348.5,268.9L348.9,267.8L349.3,266.6L349.7,266L350.1,265.5L350.5,264.8L350.9,263.7L351.3,263.3L351.7,262.7L352.1,261.8L352.5,261L352.9,260.4L353.3,260.4L353.7,259.6L354.1,258.9L354.5,259L354.9,258.5L355.3,257.9L355.7,257.3L356.1,257.2L356.5,257.5L356.9,256.9L357.3,256L357.7,255.5L358.1,255.9L358.5,256.4L358.9,256.1L359.3,255.7L359.7,255.3L360.1,254.8L360.5,254.8L360.9,254.8L361.3,254.3L361.7,254.3L362.1,254.9L362.5,254.2L362.9,253.4L363.3,253.7L363.7,253.8L364.1,253L364.5,253.3L364.9,253.8L365.3,253.5L365.7,253.9L366.1,254L366.5,253.2L366.9,253.1L367.3,253L367.7,252.7L368.1,253L368.5,253L368.9,252.7L369.3,253.2L369.7,253.5L370.1,253.2L370.5,253.1L370.9,253L371.3,253.1L371.7,253L372.1,253L372.5,252.8L372.9,252.2L373.3,252L373.7,252L374.1,252.4L374.5,252.8L374.9,252.5L375.3,252.1L375.7,252.1L376.1,251.9L376.5,251.7L376.9,251.9L377.3,251.7L377.7,251.7L378.1,252.1L378.5,251.9L378.9,251.6L379.3,251.4L379.7,252.1L380.1,252.1L380.5,252L380.9,252.4L381.3,251.9L381.7,251.5L382.1,251.8L382.5,252.5L382.9,252L383.3,251.5L383.7,251.9L384.1,252.1L384.5,252.3L384.9,252.1L385.3,251.7L385.7,251.5L386.1,251.9L386.5,252L386.9,250.9L387.3,251L387.7,251.5L388.1,252L388.5,251.9L388.9,251.5L389.3,251.7L389.7,252.1L390.1,251.9L390.5,251.7L390.9,251.9L391.3,251.5L391.7,251.4L392.1,251.5L392.5,251.2L392.9,251.5L393.3,251.4L393.7,251.3L394.1,251.9L394.5,251.6L394.9,251.1L395.3,251.1L395.7,251.4L396.1,251.6L396.5,251.6L396.9,251.6L397.3,251.4L397.7,251.2L398.1,250.9L398.5,251.1L398.9,251.5L399.3,251.2L399.7,251.4L400.1,251.7L400.5,250.7L400.9,250.5L401.3,250.8L401.7,251.1L402.1,252L402.5,251.6L402.9,251L403.3,251.1L403.7,251.1L404.1,251.4L404.5,251.6L404.9,251.2L405.3,251.2L405.7,251.2L406.1,250.9L406.5,251.4L406.9,251.5L407.3,251L407.7,250.6L408.1,250.7L408.5,250.9L408.9,251.3L409.3,250.9L409.7,250.8L410.1,251.2L410.5,251.2L410.9,251.2L411.3,251.4L411.7,251.4L412.1,251.2L412.5,251.3L412.9,251.5L413.3,250.9L413.7,250.7L414.1,251.1L414.5,250.7L414.9,250.5L415.3,250.1L415.7,250.3L416.1,250.6L416.5,250.8L416.9,250.6L417.3,250.8L417.7,251.2L418.1,250.8L418.5,250.5L418.9,250.4L419.3,250.3L419.7,250.3L420.1,250.6L420.5,250.7L420.9,250.3L421.3,250.3L421.7,250.4L422.1,250.5L422.5,251.2L422.9,251.3L423.3,250.8L423.7,250.2L423.7,253.2L423.3,253.8L422.9,254.3L422.5,254.2L422.1,253.6L421.7,253.5L421.3,253.3L420.9,253.4L420.5,253.7L420.1,253.7L419.7,253.4L419.3,253.3L418.9,253.4L418.5,253.6L418.1,253.8L417.7,254.3L417.3,253.8L416.9,253.6L416.5,253.8L416.1,253.6L415.7,253.3L415.3,253.2L414.9,253.6L414.5,253.8L414.1,254.2L413.7,253.8L413.3,253.9L412.9,254.6L412.5,254.3L412.1,254.3L411.7,254.5L411.3,254.5L410.9,254.3L410.5,254.3L410.1,254.3L409.7,253.9L409.3,254L408.9,254.4L408.5,254L408.1,253.8L407.7,253.7L407.3,254.1L406.9,254.6L406.5,254.5L406.1,254L405.7,254.4L405.3,254.4L404.9,254.3L404.5,254.7L404.1,254.5L403.7,254.3L403.3,254.2L402.9,254.2L402.5,254.8L402.1,255.2L401.7,254.2L401.3,254L400.9,253.7L400.5,253.8L400.1,254.8L399.7,254.6L399.3,254.3L398.9,254.7L398.5,254.2L398.1,254.1L397.7,254.4L397.3,254.6L396.9,254.8L396.5,254.8L396.1,254.8L395.7,254.6L395.3,254.3L394.9,254.4L394.5,254.8L394.1,255.1L393.7,254.6L393.3,254.6L392.9,254.7L392.5,254.4L392.1,254.7L391.7,254.6L391.3,254.8L390.9,255.1L390.5,255L390.1,255.1L389.7,255.3L389.3,254.9L388.9,254.7L388.5,255.2L388.1,255.3L387.7,254.8L387.3,254.3L386.9,254.2L386.5,255.2L386.1,255.1L385.7,254.8L385.3,255L384.9,255.3L384.5,255.6L384.1,255.4L383.7,255.2L383.3,254.8L382.9,255.3L382.5,255.8L382.1,255.1L381.7,254.8L381.3,255.2L380.9,255.7L380.5,255.3L380.1,255.4L379.7,255.4L379.3,254.7L378.9,254.9L378.5,255.2L378.1,255.4L377.7,255L377.3,255L376.9,255.2L376.5,255L376.1,255.3L375.7,255.5L375.3,255.5L374.9,255.9L374.5,256.2L374.1,255.8L373.7,255.3L373.3,255.4L372.9,255.6L372.5,256.1L372.1,256.4L371.7,256.4L371.3,256.5L370.9,256.4L370.5,256.5L370.1,256.6L369.7,256.9L369.3,256.6L368.9,256.1L368.5,256.4L368.1,256.4L367.7,256.1L367.3,256.4L366.9,256.5L366.5,256.6L366.1,257.4L365.7,257.3L365.3,256.9L364.9,257.3L364.5,256.7L364.1,256.4L363.7,257.2L363.3,257.1L362.9,256.9L362.5,257.7L362.1,258.3L361.7,257.7L361.3,257.7L360.9,258.3L360.5,258.3L360.1,258.3L359.7,258.8L359.3,259.2L358.9,259.5L358.5,259.9L358.1,259.4L357.7,258.9L357.3,259.5L356.9,260.4L356.5,261L356.1,260.7L355.7,260.8L355.3,261.4L354.9,262L354.5,262.5L354.1,262.4L353.7,263.1L353.3,263.9L352.9,263.9L352.5,264.6L352.1,265.4L351.7,266.3L351.3,266.8L350.9,267.3L350.5,268.3L350.1,269L349.7,269.5L349.3,270.2L348.9,271.3L348.5,272.4L348.1,272.8L347.7,274.1L347.3,276.4L346.9,277.6L346.5,278.3L346.1,279.4L345.7,280.8L345.3,282.5L344.9,284.4L344.5,286.7L344.1,288.4L343.7,290.1L343.3,292L342.9,293.6L342.5,295.7L342.1,298.7L341.7,300.3L341.3,300.3L340.9,300.4L340.5,300.6L340.1,300.9L339.7,300.7L339.3,300.4L338.9,300.6L338.5,300.5L338.1,300L337.7,300.3L337.3,300.3L336.9,300.1L336.5,300.4L336.1,300.3L335.7,300.3L335.3,300.9L334.9,301.6L334.5,301L334.1,300.4L333.7,301L333.3,301.5L332.9,301.2L332.5,301.1L332.1,301.4L331.7,301L331.3,300.8L330.9,301.3L330.5,301.4L330.1,301.4L329.7,301.7L329.3,301.5L328.9,301.4L328.5,301.5L328.1,301.7L327.7,302L327.3,301.9L326.9,301.6L326.5,302.2L326.1,302.9L325.7,302.5L325.3,302.4L324.9,302.6L324.5,302.8L324.1,303.2L323.7,303.6L323.3,303.6L322.9,303.8L322.5,304.2L322.1,305L321.7,305.9L321.3,306L320.9,306.2L320.5,307.2L320.1,307.8L319.7,308.4L319.3,309.4L318.9,310.9L318.5,312.4L318.1,313.7L317.7,315.9L317.3,318.2L316.9,321L316.5,324.3L316.1,328.8L315.7,333.7L315.3,338.9L314.9,345.8L314.5,355.7L314.1,343.5L313.7,282.7L313.3,255.9L312.9,250.9L312.5,250.9L312.1,250.7L311.7,250.9L311.3,251L310.9,250.9L310.5,250.9L310.1,251.2L309.7,251.2L309.3,250.9L308.9,250.8L308.5,250.8L308.1,251L307.7,250.9L307.3,251L306.9,251.4L306.5,251.1L306.1,251.2L305.7,250.8L305.3,250.3L304.9,250.8L304.5,251L304.1,250.3L303.7,250.1L303.3,250.7L302.9,250.5L302.5,250.5L302.1,250.9L301.7,250.7L301.3,251L300.9,251.3L300.5,251L300.1,250.8Z" fill="#c9d2ee" stroke="none" />
<path d="M313.9,330 V369" stroke="#dfe5f6" stroke-width="1.2"/>
<path d="M300.1,250.1L300.5,250.3L300.9,250.6L301.3,250.3L301.7,250L302.1,250.2L302.5,249.8L302.9,249.7L303.3,249.9L303.7,249.4L304.1,249.6L304.5,250.3L304.9,250L305.3,249.6L305.7,250.1L306.1,250.5L306.5,250.4L306.9,250.7L307.3,250.3L307.7,250.1L308.1,250.2L308.5,250L308.9,250.1L309.3,250.1L309.7,250.4L310.1,250.5L310.5,250.2L310.9,250.1L311.3,250.2L311.7,250.1L312.1,249.9L312.5,250.1L312.9,250.1L313.3,255.1L313.7,279.5L314.1,337.1L314.5,347.9L314.9,338.3L315.3,331.7L315.7,326.8L316.1,322.3L316.5,318.1L316.9,315.1L317.3,312.6L317.7,310.7L318.1,308.8L318.5,307.5L318.9,306.2L319.3,304.8L319.7,303.9L320.1,303.4L320.5,302.9L320.9,302L321.3,302L321.7,302L322.1,301.2L322.5,300.5L322.9,300.2L323.3,300.1L323.7,300.3L324.1,300L324.5,299.7L324.9,299.6L325.3,299.4L325.7,299.5L326.1,300L326.5,299.3L326.9,298.8L327.3,299.1L327.7,299.1L328.1,298.9L328.5,298.7L328.9,298.6L329.3,298.8L329.7,299L330.1,298.8L330.5,298.8L330.9,298.8L331.3,298.2L331.7,298.4L332.1,298.9L332.5,298.7L332.9,298.8L333.3,299.1L333.7,298.6L334.1,298.1L334.5,298.7L334.9,299.3L335.3,298.7L335.7,298L336.1,298L336.5,298.2L336.9,298L337.3,298.1L337.7,298.2L338.1,297.9L338.5,298.5L338.9,298.6L339.3,298.4L339.7,298.7L340.1,298.9L340.5,298.7L340.9,298.5L341.3,298.4L341.7,298.5L342.1,296.9L342.5,293.9L342.9,291.8L343.3,290.2L343.7,288.3L344.1,286.6L344.5,284.9L344.9,282.6L345.3,280.7L345.7,279L346.1,277.6L346.5,276.6L346.9,275.9L347.3,274.6L347.7,272.3L348.1,271.1L348.5,270.6L348.9,269.5L349.3,268.4L349.7,267.8L350.1,267.3L350.5,266.5L350.9,265.5L351.3,265.1L351.7,264.5L352.1,263.6L352.5,262.8L352.9,262.2L353.3,262.1L353.7,261.4L354.1,260.7L354.5,260.8L354.9,260.2L355.3,259.7L355.7,259.1L356.1,259L356.5,259.2L356.9,258.7L357.3,257.7L357.7,257.2L358.1,257.7L358.5,258.2L358.9,257.8L359.3,257.5L359.7,257.1L360.1,256.6L360.5,256.5L360.9,256.5L361.3,256L361.7,256L362.1,256.6L362.5,255.9L362.9,255.2L363.3,255.4L363.7,255.5L364.1,254.7L364.5,255L364.9,255.6L365.3,255.2L365.7,255.6L366.1,255.7L366.5,254.9L366.9,254.8L367.3,254.7L367.7,254.4L368.1,254.7L368.5,254.7L368.9,254.4L369.3,254.9L369.7,255.2L370.1,254.9L370.5,254.8L370.9,254.7L371.3,254.8L371.7,254.7L372.1,254.7L372.5,254.4L372.9,253.9L373.3,253.7L373.7,253.7L374.1,254.1L374.5,254.5L374.9,254.2L375.3,253.8L375.7,253.8L376.1,253.6L376.5,253.4L376.9,253.5L377.3,253.4L377.7,253.3L378.1,253.8L378.5,253.5L378.9,253.3L379.3,253L379.7,253.7L380.1,253.7L380.5,253.6L380.9,254.1L381.3,253.6L381.7,253.1L382.1,253.5L382.5,254.2L382.9,253.6L383.3,253.1L383.7,253.6L384.1,253.7L384.5,253.9L384.9,253.7L385.3,253.3L385.7,253.1L386.1,253.5L386.5,253.6L386.9,252.5L387.3,252.6L387.7,253.1L388.1,253.6L388.5,253.6L388.9,253.1L389.3,253.3L389.7,253.7L390.1,253.5L390.5,253.4L390.9,253.5L391.3,253.1L391.7,253L392.1,253.1L392.5,252.8L392.9,253.1L393.3,253L393.7,252.9L394.1,253.5L394.5,253.2L394.9,252.7L395.3,252.7L395.7,253L396.1,253.2L396.5,253.2L396.9,253.2L397.3,253L397.7,252.8L398.1,252.5L398.5,252.6L398.9,253.1L399.3,252.8L399.7,253L400.1,253.3L400.5,252.3L400.9,252.1L401.3,252.4L401.7,252.7L402.1,253.6L402.5,253.2L402.9,252.6L403.3,252.7L403.7,252.7L404.1,252.9L404.5,253.1L404.9,252.7L405.3,252.8L405.7,252.8L406.1,252.5L406.5,253L406.9,253.1L407.3,252.5L407.7,252.2L408.1,252.3L408.5,252.4L408.9,252.8L409.3,252.5L409.7,252.3L410.1,252.8L410.5,252.8L410.9,252.7L411.3,253L411.7,253L412.1,252.8L412.5,252.8L412.9,253L413.3,252.4L413.7,252.3L414.1,252.7L414.5,252.3L414.9,252.1L415.3,251.7L415.7,251.8L416.1,252.1L416.5,252.3L416.9,252.1L417.3,252.3L417.7,252.7L418.1,252.3L418.5,252.1L418.9,251.9L419.3,251.8L419.7,251.9L420.1,252.1L420.5,252.2L420.9,251.9L421.3,251.8L421.7,252L422.1,252.1L422.5,252.7L422.9,252.8L423.3,252.3L423.7,251.7" fill="none" stroke="#2f4ea6" stroke-width="1.5" stroke-linejoin="round" />
<rect x="313.2" y="245.1" width="28.8" height="3.6" fill="#17a3d9"/>
<line x1="300.1" y1="226.4" x2="300.1" y2="369.2" stroke="#999" stroke-width="1.2" />
<line x1="300.1" y1="369.2" x2="424.2" y2="369.2" stroke="#8a8a8a" stroke-width="1.1" />
<line x1="300.1" y1="226.4" x2="302.6" y2="226.4" stroke="#8a8a8a" stroke-width="1" />
<line x1="300.1" y1="250.2" x2="302.6" y2="250.2" stroke="#8a8a8a" stroke-width="1" />
<line x1="300.1" y1="274.1" x2="302.6" y2="274.1" stroke="#8a8a8a" stroke-width="1" />
<line x1="300.1" y1="298" x2="302.6" y2="298" stroke="#8a8a8a" stroke-width="1" />
<line x1="300.1" y1="321.8" x2="302.6" y2="321.8" stroke="#8a8a8a" stroke-width="1" />
<line x1="300.1" y1="345.6" x2="302.6" y2="345.6" stroke="#8a8a8a" stroke-width="1" />
<line x1="300.1" y1="369.5" x2="302.6" y2="369.5" stroke="#8a8a8a" stroke-width="1" />
<line x1="300.1" y1="369.2" x2="300.1" y2="366.7" stroke="#8a8a8a" stroke-width="1" />
<line x1="354.7" y1="369.2" x2="354.7" y2="366.7" stroke="#8a8a8a" stroke-width="1" />
<line x1="409.2" y1="369.2" x2="409.2" y2="366.7" stroke="#8a8a8a" stroke-width="1" />
<text x="296.3" y="253.9" font-size="10.6" fill="#555" text-anchor="end" font-weight="normal" >0</text>
<text x="296.3" y="301.8" font-size="10.6" fill="#555" text-anchor="end" font-weight="normal" >-1</text>
<text x="296.3" y="349.6" font-size="10.6" fill="#555" text-anchor="end" font-weight="normal" >-2</text>
<text x="299.4" y="380.3" font-size="10.6" fill="#555" text-anchor="middle" font-weight="normal" >0</text>
<text x="354.6" y="380.3" font-size="10.6" fill="#555" text-anchor="middle" font-weight="normal" >0.2</text>
<text x="409.4" y="380.3" font-size="10.6" fill="#555" text-anchor="middle" font-weight="normal" >0.4</text>
<text x="373.2" y="392.8" font-size="11" fill="#222" text-anchor="middle" font-weight="normal" >Time (ms)</text>
<text x="0" y="0" transform="translate(279.7,301.7) rotate(-90)" font-size="11" fill="#222" text-anchor="middle" font-weight="normal" >Normalized Current (pA)</text>
<text x="438.5" y="227.5" font-size="15.2" font-weight="bold" fill="#1a1a1a">F</text>
<path d="M487,278.2L488,278L489,277.4L490,277.4L491,277.7L492,277.9L493,278L494,276.5L495,275.3L496,274.4L497,273.4L498,273.5L499,273.5L500,274.2L501,275.4L502,275.7L503,275.9L504,276.6L505,276.5L506,275.6L507,276L508,276.2L509,275.1L510,274.9L511,275.4L512,275.2L513,274.8L514,275.3L515,276.4L516,276.4L517,275.8L518,276.2L519,276.9L520,276.8L521,276.8L522,277.5L523,277.2L524,276.6L525,276.8L526,277.2L527,277.6L528,277L529,276.3L530,276.5L531,276L532,276.4L533,277.3L534,277L535,277.4L536,278L537,277.7L538,277.5L539,277.7L540,277L541,276.9L542,277.7L543,276.7L544,276.6L545,277.2L546,277.4L547,277.4L548,277L549,277.4L550,277L551,277.1L552,277.5L553,277.4L554,277.3L555,277.5L556,278L557,277.5L558,277.5L559,278.1L560,278.6L561,277.4L562,277.1L563,277.9L564,277.5L565,276.9L566,277.5L567,277.4L568,277.1L569,278.1L570,277.3L571,276.6L572,276.8L573,277L574,278.1L575,278.8L576,277.5L577,276.5L578,277.5L579,278.4L580,278.3L581,277.3L582,277.3L583,277.6L584,277.4L585,277.1L586,277.4L587,277.8L588,277.6L589,277.4L590,276.9L591,276.8L592,277.8L593,277.9L594,276.9L595,277.5L596,278.3L597,278.6L598,278.4L599,277.4L600,276.8L601,277.5L602,279.1L603,278.3L604,277L605,277.6L606,277.5L607,277.1L608,277.3L609,277.5L610,278.1L611,278L612,278L613,277.8L614,277.6L615,276.9L616,276.2L617,277.4L618,277.7L619,277.6L620,278.1L621,278.4L622,278.5L623,278.4L624,278L625,277.3L626,277.1L627,277.2L628,277L629,277L630,277.4L631,277.7L632,277.6L633,276.8L634,276.9L635,277.7L636,278.2L637,278.3L638,277.6L639,277.1L640,278.2L641,278.8L642,278.7L643,279.3L644,278.2L645,277.5L646,278L647,278.1L648,278.1L649,278L650,277.8L651,277.2L652,277L653,277.3L654,277.4L655,277.6L656,277.8L657,278.3L658,278.1L659,277.9L660,277.9L661,277.6L662,277.4L663,277.4L664,277.7L665,277.9L666,277.9L667,277.4L668,277.5L669,277.7L670,277.1L671,277.3L672,277.4L673,277.6L674,277.6L675,277L676,276.9L677,277.9L678,278.2L679,277.3L680,277.2L681,277.1L682,277.8" fill="none" stroke="#d2d2d2" stroke-width="0.6" stroke-linejoin="round" />
<path d="M487,277.1L488,277.2L489,278.2L490,278.3L491,277.9L492,278.1L493,278L494,276.7L495,274.3L496,272.1L497,270.8L498,271L499,271.7L500,271.7L501,272.9L502,274.8L503,275.8L504,275.4L505,275.5L506,275.5L507,275L508,274.9L509,273.8L510,273.6L511,273.9L512,273.5L513,273.4L514,273.2L515,273.6L516,274.8L517,276.1L518,276.1L519,276.2L520,276.4L521,275.5L522,275.9L523,277L524,276.9L525,276.9L526,277.4L527,276.9L528,276.1L529,276.4L530,276.9L531,276.8L532,277.3L533,278.2L534,277.6L535,277.2L536,277.8L537,277.8L538,277.8L539,277.4L540,277.3L541,278.3L542,278.3L543,277.3L544,277.2L545,278L546,277.9L547,277.2L548,277.6L549,277.4L550,277L551,277.5L552,276.8L553,277.3L554,277.9L555,277L556,277.1L557,277.4L558,276.4L559,276.3L560,277.2L561,277.7L562,277.7L563,277.4L564,277.6L565,277.5L566,277.8L567,277.9L568,277.6L569,277.7L570,277.2L571,276.7L572,277.8L573,278.2L574,277.5L575,277.5L576,277.4L577,277.4L578,277.3L579,277.3L580,277L581,277.4L582,277.8L583,276.7L584,276.8L585,277.3L586,277.4L587,277.1L588,277.2L589,279.1L590,278.5L591,277.2L592,277.5L593,277.5L594,276.9L595,276.4L596,277.3L597,277.7L598,278.2L599,277.9L600,277.4L601,278.8L602,278.4L603,276.9L604,277.2L605,277.6L606,277.9L607,278L608,277.4L609,277.4L610,278.7L611,279.2L612,277L613,276.4L614,277.2L615,277.5L616,277.8L617,278.3L618,278.8L619,278.4L620,278.1L621,277.7L622,277.8L623,278.3L624,278.4L625,277.7L626,278L627,278.2L628,277.7L629,277.3L630,277.1L631,277.2L632,276.3L633,277L634,278.3L635,277.8L636,278L637,278.3L638,278L639,276.8L640,276.6L641,277.8L642,278.5L643,279.1L644,279L645,277.8L646,276.3L647,277L648,277.9L649,278.1L650,278L651,277.7L652,277.2L653,277.3L654,277.7L655,277.7L656,278L657,277.8L658,277.8L659,277.8L660,278L661,278.1L662,277.2L663,276.3L664,276.8L665,276.6L666,275.8L667,275.6L668,274.5L669,273.6L670,273.5L671,273.5L672,273.2L673,272.2L674,271.9L675,272.8L676,274.1L677,273.6L678,273.6L679,274.8L680,275.2L681,275.7L682,276.1" fill="none" stroke="#d2d2d2" stroke-width="0.6" stroke-linejoin="round" />
<path d="M487,277.6L488,277.3L489,277.3L490,277.6L491,277.9L492,277.9L493,277.4L494,277.3L495,276.4L496,274.9L497,274.1L498,273.7L499,273.7L500,274.1L501,275.3L502,276.1L503,275.6L504,275.9L505,276.1L506,276.1L507,276.1L508,275.4L509,275.8L510,276.2L511,275.4L512,275.7L513,277.2L514,276.4L515,276.3L516,276.7L517,275.9L518,276.2L519,275.9L520,276.6L521,277.5L522,276.7L523,276.5L524,276.3L525,276.3L526,277.2L527,276.7L528,276.2L529,276.9L530,277.5L531,278L532,277.4L533,276.6L534,277L535,277.1L536,276.8L537,277.4L538,278.2L539,277.9L540,277.2L541,277.3L542,276.6L543,276.4L544,276.8L545,277.7L546,278.5L547,277.6L548,277.2L549,276.2L550,276.5L551,278.2L552,277.6L553,277.3L554,277.8L555,277L556,277.1L557,278.2L558,277.9L559,277.4L560,277.6L561,277L562,276.8L563,277.8L564,277.3L565,277.3L566,277.6L567,276.4L568,276.5L569,277L570,277.1L571,277.1L572,277.4L573,277.5L574,277.3L575,277.3L576,277.1L577,277.8L578,278L579,277.4L580,276.8L581,277.4L582,278.2L583,277.6L584,277.4L585,277.2L586,276.7L587,276.8L588,277.3L589,277.8L590,277.3L591,277.5L592,278.1L593,277.9L594,278L595,277.8L596,277.4L597,277.7L598,277.7L599,277.9L600,277.4L601,277.6L602,277.8L603,277.2L604,277L605,277.3L606,278.3L607,278.5L608,278.3L609,277.3L610,276.7L611,277.1L612,277L613,277.7L614,278.1L615,277.7L616,277.8L617,277.4L618,276.9L619,276.9L620,277.5L621,278L622,278L623,278.3L624,277.5L625,276.9L626,277.5L627,277.2L628,276.9L629,277.8L630,278.5L631,278.5L632,278.1L633,277.6L634,278L635,277.9L636,277.6L637,278.3L638,278L639,277.3L640,277.4L641,277.9L642,278.1L643,277.9L644,278L645,277.3L646,276.7L647,277.4L648,277.4L649,276.8L650,276.7L651,276.8L652,277.2L653,277.2L654,277.4L655,278.5L656,278.3L657,278.1L658,278.3L659,277.4L660,277.1L661,277.2L662,277.6L663,277.5L664,277.8L665,278.5L666,277.1L667,277.2L668,278.6L669,278L670,277.8L671,277.4L672,277.1L673,277.1L674,277.2L675,277.2L676,275.9L677,276.8L678,278.8L679,278.4L680,277.8L681,278.1L682,277.6" fill="none" stroke="#d2d2d2" stroke-width="0.6" stroke-linejoin="round" />
<path d="M487,277.9L488,278.2L489,277.6L490,278.2L491,279.5L492,278.5L493,278.4L494,277.3L495,273.1L496,270.2L497,268.8L498,268.6L499,269.7L500,271.1L501,271.9L502,271.9L503,271.9L504,273.6L505,274.1L506,273.6L507,273.3L508,272.8L509,272.3L510,272.6L511,272.4L512,271.6L513,272L514,272.8L515,272.6L516,272.6L517,273.6L518,274.4L519,275.2L520,275.3L521,275.8L522,276.3L523,276.7L524,277.1L525,276.7L526,276.7L527,277.2L528,278.1L529,277.8L530,277L531,277.8L532,276.8L533,275.6L534,275.9L535,276.6L536,278.1L537,278.3L538,277.8L539,277.6L540,276.1L541,275.3L542,276.7L543,277.7L544,276.8L545,277.1L546,277.1L547,277.1L548,278.3L549,277.5L550,276.5L551,277.2L552,277.2L553,277.2L554,277.2L555,277.2L556,277.7L557,277.2L558,276.8L559,277.1L560,276.7L561,276.5L562,277.1L563,277.5L564,277.1L565,277.6L566,278L567,276.8L568,277.5L569,278.6L570,278L571,277L572,277.1L573,277.2L574,277L575,277.9L576,278.2L577,277.7L578,277.7L579,277.6L580,277.8L581,278.2L582,277.7L583,277.4L584,278.5L585,278.3L586,276.9L587,277.2L588,277L589,275.4L590,275.3L591,275.1L592,274.3L593,274.4L594,274.3L595,273.7L596,273.9L597,274.3L598,275.3L599,275.6L600,275.2L601,276.7L602,277L603,277.1L604,278.2L605,277.9L606,277L607,277.2L608,278.1L609,278.3L610,278L611,278.1L612,278.7L613,277.8L614,277.8L615,278.3L616,277.5L617,277.3L618,278.3L619,278.8L620,277.3L621,277L622,277.6L623,277.5L624,277.4L625,276.9L626,277.4L627,277.6L628,277.1L629,277.3L630,277.1L631,277.7L632,278.1L633,277.5L634,277L635,277.1L636,277.9L637,278.1L638,277.8L639,277.6L640,277.4L641,277.7L642,277L643,277.6L644,278L645,277.1L646,278L647,278.3L648,277.8L649,277.5L650,276.8L651,277.1L652,278.2L653,277.8L654,277.9L655,277.8L656,276.9L657,277.6L658,277.9L659,278L660,277.7L661,277L662,276.5L663,276.5L664,276.8L665,276.7L666,277.3L667,277.6L668,276.6L669,277.9L670,278.4L671,276.9L672,277.7L673,278.7L674,277.7L675,276.6L676,276.7L677,277.8L678,278L679,277.3L680,277.4L681,278.2L682,277.6" fill="none" stroke="#d2d2d2" stroke-width="0.6" stroke-linejoin="round" />
<path d="M487,278L488,277.1L489,277L490,277.3L491,276.7L492,276.9L493,277.3L494,277.1L495,276L496,274.3L497,273L498,273.3L499,274L500,274.7L501,275L502,274.1L503,274.8L504,277.2L505,277.7L506,276.7L507,276.8L508,276.9L509,276.6L510,276.1L511,275.8L512,276.1L513,275.8L514,275.3L515,275.7L516,276.6L517,276.9L518,276.8L519,276.9L520,277.9L521,277.9L522,277.4L523,278.1L524,277.8L525,277.1L526,277.5L527,278.1L528,277.8L529,277.3L530,277.2L531,276.6L532,277L533,277.4L534,276.3L535,276.4L536,276.4L537,276L538,276.7L539,276.8L540,277.2L541,277L542,276.7L543,277.5L544,278L545,278.2L546,277.7L547,277.4L548,277.2L549,277.7L550,277.4L551,277.2L552,277.4L553,277.3L554,277.3L555,278L556,277.9L557,277.2L558,277.5L559,277.7L560,277.8L561,277.7L562,277.9L563,277.2L564,276.8L565,276.9L566,277L567,277L568,276.5L569,277L570,277.9L571,278.2L572,277.8L573,278.1L574,277.6L575,276.2L576,276.4L577,277.2L578,277.8L579,278.8L580,277.8L581,277.9L582,279.1L583,278.4L584,278L585,278.6L586,278.5L587,277.4L588,277.4L589,277L590,277.2L591,277.7L592,277.6L593,277.8L594,277.3L595,277.7L596,277.7L597,277.5L598,277.3L599,277.1L600,277.4L601,277.3L602,277.3L603,276.4L604,276.3L605,277.2L606,277.9L607,277.3L608,276.2L609,276.4L610,277.2L611,277.3L612,277L613,277.6L614,278.3L615,278.3L616,277.5L617,277.3L618,277.6L619,277L620,277.4L621,278L622,277.5L623,278L624,278.5L625,278.3L626,278.5L627,278.4L628,277.4L629,277L630,277.9L631,277.8L632,277.4L633,277.8L634,278.4L635,278.8L636,278.6L637,278L638,278L639,278.3L640,277.8L641,278.2L642,278.4L643,277.6L644,277.9L645,278.1L646,277.8L647,277.3L648,277.1L649,277.3L650,276.9L651,276.5L652,277.8L653,278.5L654,277.7L655,278.2L656,278.1L657,277.9L658,277.4L659,277.2L660,277.6L661,277.7L662,278L663,277.2L664,276.4L665,276.6L666,277.1L667,277L668,276.3L669,274.6L670,272.8L671,272.7L672,273.6L673,274.2L674,275.1L675,275.9L676,275.9L677,276.3L678,277.4L679,277.8L680,277.7L681,278.6L682,278.5" fill="none" stroke="#d2d2d2" stroke-width="0.6" stroke-linejoin="round" />
<path d="M487,277.9L488,277.9L489,276.9L490,275.5L491,277.1L492,278.6L493,277.5L494,275L495,271.2L496,269.3L497,267.3L498,266.8L499,269L500,270.2L501,271.2L502,272.2L503,273.9L504,274.2L505,273L506,273.4L507,274.2L508,273.7L509,273.1L510,272.5L511,271.3L512,272L513,273.1L514,273.4L515,273L516,272.4L517,272.6L518,273.6L519,274.9L520,275.7L521,275.4L522,275.8L523,276.7L524,276.9L525,277L526,276.9L527,277.2L528,277.3L529,277.2L530,276.9L531,277L532,277.2L533,276.2L534,276.5L535,277.2L536,277.4L537,277.4L538,277L539,277.2L540,277.2L541,277L542,276.3L543,277.2L544,277.3L545,276.4L546,277.4L547,277.6L548,277.6L549,277.8L550,278.1L551,277.9L552,278.6L553,278L554,277L555,277.3L556,277L557,277.2L558,278L559,277.6L560,276.8L561,277.4L562,277.9L563,278.4L564,278.6L565,277.9L566,277.4L567,277.4L568,277.4L569,276.8L570,276.9L571,277.4L572,277.3L573,277.2L574,277.9L575,278.4L576,278.1L577,277.6L578,276.8L579,277L580,277.5L581,277.4L582,277.3L583,277.8L584,278L585,277.2L586,276.9L587,277.1L588,277.3L589,277.1L590,277L591,277.7L592,277.8L593,277.2L594,276.9L595,277.4L596,277.8L597,278.1L598,277.8L599,277L600,277.6L601,278.3L602,277.9L603,277.9L604,277.3L605,277.1L606,277.6L607,278.1L608,278L609,276.4L610,276.3L611,277.7L612,278.3L613,278.4L614,278.9L615,279.2L616,278.7L617,278.5L618,277.5L619,277.4L620,278.2L621,277.7L622,277.7L623,278L624,277.6L625,277.4L626,277.5L627,277.6L628,277.6L629,277.7L630,277.1L631,276.8L632,276.9L633,276.8L634,277.7L635,277.9L636,277.6L637,277.7L638,278.3L639,277.9L640,277.6L641,277.4L642,276.9L643,277.6L644,277.4L645,277.4L646,278.1L647,277.5L648,277.2L649,277.5L650,276.8L651,276.8L652,277.3L653,277.9L654,277.9L655,278L656,278.2L657,278.3L658,278.7L659,278.1L660,278.2L661,278.4L662,278.6L663,279L664,278.3L665,277.1L666,276.1L667,276.5L668,277.8L669,278.2L670,277.9L671,277.6L672,277.3L673,277.3L674,277.7L675,277.1L676,277.3L677,277.4L678,277.1L679,277.4L680,277.3L681,277.1L682,276.8" fill="none" stroke="#d2d2d2" stroke-width="0.6" stroke-linejoin="round" />
<path d="M487,277.5L488,277.5L489,277.6L490,277.5L491,276.7L492,277.1L493,278.2L494,276.6L495,274L496,271.6L497,270.5L498,271.3L499,272L500,272.8L501,273.1L502,274.1L503,274.9L504,275.2L505,275.9L506,275.6L507,274.6L508,274.7L509,274.5L510,273.7L511,273.5L512,274.1L513,274.5L514,273.4L515,274L516,276L517,276.7L518,275.9L519,275.6L520,276.3L521,276.9L522,277L523,276.4L524,276.8L525,277.5L526,276.7L527,276.3L528,277L529,277.1L530,277.3L531,277.6L532,277.6L533,277.3L534,276.5L535,276.8L536,277.9L537,278.5L538,277.9L539,277.1L540,277.7L541,278.3L542,277.9L543,277.6L544,277.2L545,277.1L546,277.1L547,276.8L548,277.1L549,277L550,276.2L551,276.1L552,277.1L553,277.4L554,277.1L555,277.3L556,277.7L557,277.9L558,277.3L559,277L560,277.2L561,276.9L562,276.4L563,276.7L564,277L565,277.9L566,278.2L567,277.3L568,277.1L569,278L570,277.8L571,277L572,277L573,277.1L574,277.4L575,277.9L576,277.3L577,276.9L578,278.1L579,277.9L580,277.2L581,277L582,276.1L583,276.4L584,277.9L585,277.8L586,276.6L587,276.9L588,277.6L589,277.9L590,278.3L591,277.8L592,277.6L593,277L594,277.3L595,278.1L596,278.1L597,278.4L598,277.9L599,277.4L600,277.1L601,276.4L602,276.7L603,277.6L604,277.2L605,277.4L606,277.9L607,277.8L608,277.5L609,276.6L610,277.2L611,278.2L612,277.8L613,277.4L614,277.3L615,277.4L616,277.4L617,276.6L618,277.1L619,277.3L620,276.9L621,277.4L622,277.6L623,277.1L624,277.5L625,278.4L626,278.2L627,278.5L628,277.8L629,276.1L630,276.5L631,278.3L632,278.6L633,277.9L634,277.4L635,277.7L636,277.1L637,276.7L638,277.1L639,278L640,278L641,278L642,278.3L643,277L644,277.9L645,278.2L646,277.5L647,278.6L648,278.2L649,277L650,277.6L651,278.1L652,277.2L653,276.8L654,277.1L655,277.9L656,278L657,277.8L658,278.6L659,278.9L660,278.8L661,278.8L662,277.5L663,277.5L664,278.3L665,277.8L666,277.2L667,276.1L668,275.5L669,275.6L670,275L671,274.1L672,273.7L673,273.8L674,273.3L675,272.4L676,272.5L677,271.9L678,271L679,270.2L680,270L681,271.1L682,271.6" fill="none" stroke="#d2d2d2" stroke-width="0.6" stroke-linejoin="round" />
<path d="M487,277.2L488,277.7L489,278.2L490,278.3L491,278.3L492,277.6L493,278.2L494,277.6L495,273.9L496,270.1L497,269.1L498,269.6L499,270.2L500,271.7L501,273.4L502,273.9L503,274.7L504,275.8L505,275.3L506,274.1L507,274.4L508,275L509,275.3L510,275.4L511,274.5L512,274.5L513,273.9L514,273.4L515,274L516,274.9L517,275.6L518,274.1L519,274.8L520,276L521,276.2L522,276.6L523,276.7L524,277.3L525,277.3L526,276.7L527,277.2L528,277.8L529,277.2L530,277.3L531,277.2L532,277.6L533,277.9L534,277.4L535,277.4L536,276.9L537,276.3L538,276.8L539,277.4L540,277.9L541,277.9L542,276.9L543,277L544,277.8L545,278L546,277.8L547,276.9L548,277.2L549,277.4L550,277.2L551,276.9L552,277L553,277.3L554,277.4L555,278.5L556,278.5L557,277.3L558,276.5L559,276.6L560,277.3L561,277.8L562,277.6L563,277.6L564,277.7L565,277.9L566,278.3L567,278.1L568,277.5L569,276.8L570,276.2L571,276.6L572,276.7L573,277.1L574,278L575,277.7L576,277.1L577,277.1L578,277.3L579,277.3L580,277.4L581,277.8L582,277.8L583,277.9L584,277.8L585,277.6L586,278.3L587,278.2L588,277.8L589,277.9L590,277.4L591,277.2L592,277L593,277.2L594,277.3L595,277.1L596,277.9L597,278L598,278L599,278.1L600,278L601,277.7L602,277.4L603,278.7L604,279L605,278.3L606,278.1L607,278L608,277.5L609,276.8L610,277.4L611,278.1L612,277.8L613,277.4L614,277.4L615,277.4L616,277.1L617,276.6L618,277L619,276.9L620,276.5L621,277L622,276.9L623,277.3L624,277.6L625,277.4L626,277.2L627,276.9L628,277.5L629,278L630,277.6L631,277.6L632,277.9L633,277.8L634,278.3L635,278.1L636,277.7L637,278L638,277.7L639,277.1L640,277.5L641,278L642,277.8L643,277.7L644,277.7L645,277.3L646,277.4L647,277.1L648,276.9L649,277L650,276.9L651,277.8L652,277.8L653,277.4L654,277.7L655,277.8L656,277.4L657,277.3L658,278.1L659,278.5L660,278.1L661,277.4L662,277.4L663,277.4L664,277.3L665,277.4L666,278L667,277.8L668,277.5L669,278.5L670,277.3L671,276.8L672,278.1L673,278.7L674,277.4L675,276.8L676,277L677,276.8L678,277L679,278.1L680,278.4L681,277.6L682,277.4" fill="none" stroke="#d2d2d2" stroke-width="0.6" stroke-linejoin="round" />
<path d="M487,278.3L488,277.8L489,277L490,277.6L491,278.2L492,277.7L493,277L494,276.3L495,273.8L496,271.2L497,270.2L498,270.1L499,270.5L500,271.6L501,272.3L502,273.6L503,273.7L504,273.2L505,274.8L506,275.3L507,274.2L508,273.9L509,274.2L510,273.5L511,273.2L512,273.2L513,273L514,273.2L515,273.9L516,273.9L517,273.7L518,274.8L519,275L520,274.5L521,275.6L522,276.6L523,276.6L524,276.9L525,276.6L526,277.7L527,277.7L528,276.4L529,276.3L530,276.3L531,277.5L532,277.6L533,277.3L534,277.1L535,277.6L536,277.9L537,276.7L538,276.9L539,277.3L540,277.2L541,277.4L542,277.3L543,277.3L544,276.8L545,276.2L546,277L547,277.5L548,277.3L549,277.1L550,276.2L551,275.9L552,277.3L553,277.5L554,276.8L555,276.5L556,276.5L557,276.9L558,277L559,277.2L560,277L561,276.8L562,277.1L563,277.4L564,277.4L565,278L566,278.1L567,277.5L568,277.2L569,277.5L570,277.4L571,276.3L572,276.3L573,277.2L574,277.2L575,277.5L576,277.9L577,276.8L578,276.7L579,278L580,277.8L581,276.6L582,277.1L583,278.2L584,278.4L585,277.7L586,277.4L587,277.7L588,278.1L589,278.8L590,278.3L591,278L592,277.9L593,277.6L594,277.4L595,276.8L596,277.4L597,277.3L598,277.5L599,277.6L600,277.3L601,277.5L602,277.4L603,277.4L604,278L605,279.2L606,278.3L607,277.2L608,277.6L609,277.1L610,277.3L611,277.3L612,277.2L613,278L614,277.3L615,276.9L616,277.8L617,277.4L618,277.4L619,277.9L620,277.6L621,277.9L622,277.5L623,277.3L624,277.8L625,277.1L626,277.1L627,277.4L628,277.8L629,277.3L630,276.9L631,277.3L632,278.1L633,277.8L634,277.6L635,277.3L636,277L637,277.7L638,277.7L639,277.5L640,276.6L641,276.2L642,277.5L643,278.2L644,277.4L645,277.6L646,277.7L647,277L648,276.8L649,277.6L650,278.9L651,277.8L652,276.8L653,277.2L654,277.5L655,275.8L656,274.6L657,275.4L658,274.4L659,273.9L660,274.2L661,274.1L662,274.2L663,274.4L664,274.8L665,275.3L666,276L667,276L668,275.7L669,276.9L670,278.3L671,278.4L672,277.7L673,277.2L674,278.2L675,278.6L676,277.6L677,277.3L678,277.7L679,277.6L680,277.2L681,277.7L682,278.4" fill="none" stroke="#d2d2d2" stroke-width="0.6" stroke-linejoin="round" />
<path d="M487,278.3L488,278.3L489,278.4L490,278.5L491,278.3L492,278L493,277.9L494,278.1L495,278.3L496,278.5L497,278.7L498,278.7L499,278.4L500,278.7L501,278.9L502,278.5L503,278.5L504,278.3L505,278.5L506,278.7L507,278.8L508,278.9L509,278.8L510,278.8L511,278.7L512,278.5L513,278.5L514,278.4L515,278.4L516,278.5L517,278.6L518,278.7L519,278.3L520,278.3L521,278.8L522,278.5L523,278.3L524,278.5L525,278.4L526,278.3L527,278.5L528,278.4L529,278.4L530,278.6L531,278.4L532,278.4L533,278.7L534,278.6L535,278.5L536,278.6L537,278.5L538,278.6L539,278.6L540,278.4L541,278.4L542,278.6L543,278.6L544,278.4L545,278.4L546,278.6L547,278.6L548,278.6L549,278.7L550,278.5L551,278.4L552,278.4L553,278.4L554,278.5L555,278.2L556,278.2L557,278.3L558,278.3L559,278.4L560,278.2L561,278.1L562,278.2L563,278.4L564,278.3L565,278.6L566,278.7L567,278.4L568,278.3L569,278.5L570,278.5L571,278.1L572,278L573,278.3L574,278.5L575,278.3L576,278.2L577,278.4L578,278.3L579,278.3L580,278.2L581,278.4L582,278.4L583,278.4L584,278.3L585,278.1L586,278.1L587,278.1L588,278.1L589,278.3L590,278.2L591,277.8L592,278L593,278.4L594,278.5L595,278.5L596,278.5L597,278.2L598,278.1L599,277.8L600,277.7L601,278.2L602,278L603,277.7L604,277.7L605,278L606,278.3L607,278.6L608,278.6L609,278.1L610,277.6L611,277.9L612,278.3L613,278L614,277.8L615,278L616,278.1L617,278.1L618,278.1L619,278.3L620,278.2L621,278.2L622,278.4L623,278.2L624,277.8L625,278L626,278.4L627,278.3L628,278.2L629,278.2L630,278.2L631,278.1L632,278.1L633,278.2L634,278.2L635,278.3L636,278.4L637,278.1L638,278.1L639,278L640,278L641,278.5L642,278.5L643,278.2L644,278.1L645,278.2L646,278.1L647,278.1L648,278.1L649,278L650,278L651,278.1L652,277.8L653,278.1L654,278.3L655,277.9L656,278L657,278.2L658,278.1L659,278.2L660,278L661,277.6L662,277.7L663,278.1L664,278.2L665,278.1L666,277.9L667,278.1L668,278L669,278L670,278L671,277.9L672,278.1L673,278.1L674,277.9L675,278L676,277.9L677,278L678,278.2L679,278.3L680,278.3L681,278L682,278.1" fill="none" stroke="#9a9a9a" stroke-width="1.2" stroke-linejoin="round" />
<path d="M487,277.5L488,277.5L489,277.8L490,277.9L491,277.6L492,277.3L493,276.7L494,274.7L495,272.7L496,271.9L497,271.8L498,272.2L499,272.4L500,272.9L501,273.3L502,273.6L503,274.1L504,274.5L505,274.9L506,275.3L507,275.6L508,276.1L509,276.3L510,276.2L511,276L512,275.7L513,275.5L514,275.5L515,275.7L516,275.7L517,276.3L518,276.1L519,275.9L520,276.1L521,276.4L522,277L523,277.2L524,277.2L525,277.1L526,277.4L527,277.6L528,277.3L529,277.1L530,277.2L531,277.3L532,277.2L533,277.3L534,277.4L535,277.3L536,277.5L537,277.4L538,277.1L539,277.3L540,277.5L541,277.5L542,277.4L543,277.4L544,277.4L545,277.2L546,277.4L547,277.5L548,277.3L549,277.6L550,277.6L551,278L552,277.7L553,277.2L554,277.5L555,277.8L556,277.7L557,277.3L558,277.5L559,277.6L560,277.4L561,277.7L562,277.6L563,277.4L564,277.6L565,277.7L566,277.6L567,277.5L568,277.5L569,277.5L570,277.2L571,277.7L572,278L573,277.9L574,277.7L575,277.5L576,277.6L577,277.4L578,277.5L579,277.6L580,277.5L581,277.4L582,277.6L583,277.9L584,277.9L585,277.6L586,277.5L587,277.8L588,277.8L589,277.7L590,277.8L591,277.6L592,277.8L593,277.6L594,277.4L595,277.7L596,277.4L597,277.5L598,277.8L599,277.8L600,277.6L601,277.6L602,277.9L603,277.9L604,278L605,278.1L606,277.9L607,278L608,277.8L609,277.5L610,277.7L611,277.9L612,278L613,278.1L614,277.9L615,277.8L616,277.7L617,277.6L618,277.6L619,277.8L620,277.8L621,277.6L622,277.7L623,277.6L624,277.6L625,277.3L626,277.4L627,277.7L628,277.7L629,277.8L630,277.5L631,277.8L632,278.1L633,277.8L634,277.5L635,277.5L636,277.9L637,277.7L638,277.7L639,277.9L640,277.9L641,277.5L642,277.8L643,278L644,277.7L645,278L646,278.1L647,277.7L648,277.7L649,277.7L650,277.7L651,277.8L652,277.6L653,277.6L654,277.7L655,277.8L656,277.9L657,277.9L658,277.9L659,277.8L660,277.7L661,277.6L662,277.8L663,277.6L664,277.4L665,278.2L666,277.9L667,277.6L668,277.6L669,277.5L670,278L671,278.1L672,277.7L673,277.3L674,277.2L675,277.5L676,277.7L677,277.6L678,277.7L679,277.7L680,277.8L681,277.7L682,277.4" fill="none" stroke="#5c5c5c" stroke-width="1.6" stroke-linejoin="round" />
<rect x="487.7" y="287.7" width="34.5" height="4.4" fill="#17a3d9"/>
<line x1="486.6" y1="224" x2="486.6" y2="293.3" stroke="#8a8a8a" stroke-width="1" />
<line x1="486.6" y1="293.3" x2="682" y2="293.3" stroke="#8a8a8a" stroke-width="1" />
<line x1="486.6" y1="292.8" x2="488.6" y2="292.8" stroke="#8a8a8a" stroke-width="1" />
<line x1="486.6" y1="285.3" x2="488.6" y2="285.3" stroke="#8a8a8a" stroke-width="1" />
<line x1="486.6" y1="277.7" x2="488.6" y2="277.7" stroke="#8a8a8a" stroke-width="1" />
<line x1="486.6" y1="270.2" x2="488.6" y2="270.2" stroke="#8a8a8a" stroke-width="1" />
<line x1="486.6" y1="262.7" x2="488.6" y2="262.7" stroke="#8a8a8a" stroke-width="1" />
<line x1="486.6" y1="255.2" x2="488.6" y2="255.2" stroke="#8a8a8a" stroke-width="1" />
<line x1="486.6" y1="247.6" x2="488.6" y2="247.6" stroke="#8a8a8a" stroke-width="1" />
<line x1="486.6" y1="240.1" x2="488.6" y2="240.1" stroke="#8a8a8a" stroke-width="1" />
<line x1="486.6" y1="232.6" x2="488.6" y2="232.6" stroke="#8a8a8a" stroke-width="1" />
<line x1="486.6" y1="225" x2="488.6" y2="225" stroke="#8a8a8a" stroke-width="1" />
<line x1="487" y1="293.3" x2="487" y2="291" stroke="#8a8a8a" stroke-width="1" />
<line x1="504.8" y1="293.3" x2="504.8" y2="291" stroke="#8a8a8a" stroke-width="1" />
<line x1="522.6" y1="293.3" x2="522.6" y2="291" stroke="#8a8a8a" stroke-width="1" />
<line x1="540.4" y1="293.3" x2="540.4" y2="291" stroke="#8a8a8a" stroke-width="1" />
<line x1="558.2" y1="293.3" x2="558.2" y2="291" stroke="#8a8a8a" stroke-width="1" />
<line x1="576" y1="293.3" x2="576" y2="291" stroke="#8a8a8a" stroke-width="1" />
<line x1="593.8" y1="293.3" x2="593.8" y2="291" stroke="#8a8a8a" stroke-width="1" />
<line x1="611.6" y1="293.3" x2="611.6" y2="291" stroke="#8a8a8a" stroke-width="1" />
<line x1="629.4" y1="293.3" x2="629.4" y2="291" stroke="#8a8a8a" stroke-width="1" />
<line x1="647.2" y1="293.3" x2="647.2" y2="291" stroke="#8a8a8a" stroke-width="1" />
<line x1="665" y1="293.3" x2="665" y2="291" stroke="#8a8a8a" stroke-width="1" />
<text x="485.8" y="236.1" font-size="10" fill="#555" text-anchor="end" font-weight="normal" >600</text>
<text x="485.8" y="258.9" font-size="10" fill="#555" text-anchor="end" font-weight="normal" >300</text>
<text x="485.8" y="281.3" font-size="10" fill="#555" text-anchor="end" font-weight="normal" >0</text>
<text x="0" y="0" transform="translate(463.2,260.9) rotate(-90)" font-size="10" fill="#222" text-anchor="middle" font-weight="normal" >Current (pA)</text>
<text x="562.2" y="234.1" font-size="9" fill="#aaa">-70 Vm<tspan font-size="5" dy="2">hold</tspan><tspan x="605.3" dy="-2">(excitatory currents)</tspan></text>
<text x="562.2" y="244.6" font-size="9" fill="#555">-0 Vm<tspan font-size="5" dy="2">hold</tspan><tspan x="605.3" dy="-2">(inhibitory currents)</tspan></text>
<path d="M487.1,357.1L488.1,357.4L489.1,358.5L490.1,358.3L491.1,356.9L492.1,356.2L493.1,357.2L494.1,355L495.1,349.3L496.1,341.1L497.1,334.1L498.1,329.9L499.1,325.6L500.1,319.8L501.1,317.2L502.1,315.7L503.1,313.7L504.1,312.7L505.1,311L506.1,310.7L507.1,311.2L508.1,310.9L509.1,311.9L510.1,313.3L511.1,311.6L512.1,310.6L513.1,311.1L514.1,311.1L515.1,310.9L516.1,312.1L517.1,314.5L518.1,315.5L519.1,315.6L520.1,316.4L521.1,317.1L522.1,316.8L523.1,318.3L524.1,318.8L525.1,319.7L526.1,321L527.1,318.1L528.1,317.5L529.1,318L530.1,317.8L531.1,318.8L532.1,317.1L533.1,317L534.1,318.6L535.1,319.9L536.1,319.7L537.1,320.1L538.1,320.8L539.1,320.6L540.1,321.3L541.1,323.4L542.1,325.1L543.1,326.5L544.1,327.3L545.1,326.7L546.1,327.5L547.1,327L548.1,327L549.1,329.2L550.1,329.7L551.1,329.5L552.1,330.5L553.1,331.5L554.1,331.9L555.1,332L556.1,333.2L557.1,334L558.1,333.8L559.1,335L560.1,335.3L561.1,334.2L562.1,334.8L563.1,337.2L564.1,338.5L565.1,337.5L566.1,337.4L567.1,339.1L568.1,339.6L569.1,338.7L570.1,340.5L571.1,341L572.1,340.7L573.1,342L574.1,342.3L575.1,342.7L576.1,344.5L577.1,344.5L578.1,342.8L579.1,342.1L580.1,343.3L581.1,344.9L582.1,345.6L583.1,345.8L584.1,345.5L585.1,345.7L586.1,345.9L587.1,347L588.1,347.4L589.1,347.6L590.1,349.7L591.1,350.3L592.1,347.8L593.1,349.1L594.1,350.9L595.1,349L596.1,349.7L597.1,350.7L598.1,349.7L599.1,349.4L600.1,349.3L601.1,350.1L602.1,351.9L603.1,351.8L604.1,351.5L605.1,353.4L606.1,352.3L607.1,351.2L608.1,352.1L609.1,351.2L610.1,350.9L611.1,351.9L612.1,353.3L613.1,353.1L614.1,353L615.1,354.2L616.1,354.7L617.1,355.1L618.1,355.5L619.1,355.5L620.1,356.9L621.1,357.4L622.1,356.3L623.1,356.7L624.1,356.2L625.1,355.7L626.1,357.3L627.1,358.3L628.1,359.1L629.1,358.8L630.1,356.5L631.1,358.2L632.1,360.3L633.1,358L634.1,358.4L635.1,359.4L636.1,356.9L637.1,356.6L638.1,357.8L639.1,359.4L640.1,359.2L641.1,357.8L642.1,358.2L643.1,358.1L644.1,357.6L645.1,358.1L646.1,359.7L647.1,360L648.1,358.4L649.1,357L650.1,357.8L651.1,358.2L652.1,357.6L653.1,356.8L654.1,358.8L655.1,360.9L656.1,358.6L657.1,358.6L658.1,360.4L659.1,357.8L660.1,356.2L661.1,357.8L662.1,358.8L663.1,359L664.1,358.2L665.1,358.3L666.1,359.9L667.1,361.7L668.1,359.8L669.1,357.3L670.1,359.8L671.1,359.7L672.1,357.1L673.1,357.9L674.1,358.7L675.1,359.5L676.1,359.3L677.1,357.8L678.1,357.8L679.1,358.7L680.1,359.7L681.1,359.5" fill="none" stroke="#cfcfcf" stroke-width="0.6" stroke-linejoin="round" />
<path d="M487.1,358.5L488.1,358L489.1,355.2L490.1,355.2L491.1,356.8L492.1,358.3L493.1,357.4L494.1,354.1L495.1,351.7L496.1,346.4L497.1,341.2L498.1,338.3L499.1,335.6L500.1,332.2L501.1,329L502.1,327.3L503.1,325.3L504.1,322.7L505.1,320.3L506.1,319L507.1,319.3L508.1,321.5L509.1,321.3L510.1,320L511.1,320.8L512.1,319L513.1,318.3L514.1,316.3L515.1,315.4L516.1,318.5L517.1,317.4L518.1,316.6L519.1,320L520.1,321.4L521.1,320.3L522.1,320.6L523.1,321.5L524.1,322.7L525.1,323.6L526.1,322.8L527.1,321.8L528.1,321.9L529.1,323.4L530.1,323.9L531.1,323.7L532.1,323.6L533.1,322.5L534.1,322.6L535.1,324.9L536.1,326.4L537.1,326L538.1,325.5L539.1,327.2L540.1,329L541.1,329.5L542.1,330.3L543.1,331.7L544.1,333.1L545.1,334.4L546.1,335.7L547.1,336.8L548.1,337.4L549.1,336.8L550.1,336.8L551.1,338.2L552.1,338.7L553.1,339.4L554.1,341.2L555.1,340.7L556.1,338.9L557.1,341L558.1,342.9L559.1,342.9L560.1,342.2L561.1,343.4L562.1,345.5L563.1,344.3L564.1,343.8L565.1,344.3L566.1,344.8L567.1,344.8L568.1,344.3L569.1,345.8L570.1,346.9L571.1,346.1L572.1,346.5L573.1,344.7L574.1,345.3L575.1,347.1L576.1,346.6L577.1,347.1L578.1,346.8L579.1,347.5L580.1,347.9L581.1,346.7L582.1,346.7L583.1,347.7L584.1,349.1L585.1,348.7L586.1,347L587.1,348.5L588.1,349L589.1,349.3L590.1,350.2L591.1,348.9L592.1,348.6L593.1,349.7L594.1,351.1L595.1,350.7L596.1,350.9L597.1,353L598.1,352.2L599.1,349.8L600.1,349.4L601.1,349.4L602.1,349.9L603.1,350.6L604.1,350.3L605.1,351.5L606.1,350.7L607.1,349.4L608.1,353.3L609.1,355.4L610.1,354.5L611.1,354.2L612.1,355.4L613.1,355.7L614.1,354.6L615.1,353.4L616.1,353.5L617.1,354.1L618.1,353.9L619.1,354.2L620.1,355L621.1,355.5L622.1,356.5L623.1,356L624.1,355.4L625.1,358.2L626.1,358.5L627.1,358.2L628.1,359.2L629.1,359.4L630.1,359.2L631.1,357.1L632.1,356.4L633.1,357.3L634.1,356.3L635.1,356.3L636.1,356.6L637.1,355.7L638.1,357L639.1,358.3L640.1,357.6L641.1,356.9L642.1,357L643.1,357.5L644.1,357.6L645.1,357.9L646.1,357.8L647.1,358.2L648.1,358.9L649.1,358.9L650.1,358L651.1,357.2L652.1,358.1L653.1,358.4L654.1,358L655.1,356.2L656.1,354.1L657.1,356.3L658.1,358.7L659.1,359.6L660.1,359.9L661.1,358.9L662.1,358.4L663.1,357L664.1,357.7L665.1,358.4L666.1,358.1L667.1,358.7L668.1,358.5L669.1,359L670.1,358.4L671.1,357.4L672.1,357.1L673.1,357.1L674.1,359.1L675.1,359.1L676.1,358.7L677.1,359.6L678.1,359.2L679.1,359.2L680.1,357.7L681.1,357.4" fill="none" stroke="#cfcfcf" stroke-width="0.6" stroke-linejoin="round" />
<path d="M487.1,357.3L488.1,356.7L489.1,357L490.1,356.7L491.1,357.7L492.1,358.3L493.1,355.7L494.1,353.4L495.1,350.3L496.1,343.7L497.1,337.6L498.1,330.6L499.1,325L500.1,323L501.1,321.6L502.1,319.9L503.1,317.8L504.1,315.2L505.1,313.3L506.1,313.5L507.1,314.8L508.1,314.2L509.1,313.3L510.1,314.8L511.1,315.7L512.1,315.1L513.1,313.4L514.1,312.4L515.1,313.2L516.1,314.6L517.1,315L518.1,317L519.1,319.4L520.1,319.6L521.1,319.1L522.1,319.2L523.1,321.6L524.1,320.6L525.1,319.9L526.1,321.5L527.1,320.4L528.1,320.1L529.1,320.3L530.1,320.6L531.1,321.2L532.1,320.4L533.1,321.6L534.1,322.3L535.1,322.2L536.1,321L537.1,320L538.1,322.3L539.1,324.1L540.1,323.9L541.1,324.4L542.1,324.2L543.1,324.4L544.1,325L545.1,325.7L546.1,326.9L547.1,326.8L548.1,327.9L549.1,330.6L550.1,330.4L551.1,329.2L552.1,331.5L553.1,332.4L554.1,333.6L555.1,334.8L556.1,334.1L557.1,334.9L558.1,336.8L559.1,337.7L560.1,337.3L561.1,337.6L562.1,336.5L563.1,336.2L564.1,339.2L565.1,341.1L566.1,340.9L567.1,341.2L568.1,340.9L569.1,341.1L570.1,341.2L571.1,341.7L572.1,342.2L573.1,342.2L574.1,343.5L575.1,343.8L576.1,344.3L577.1,345.3L578.1,345.4L579.1,346.4L580.1,345.3L581.1,343.3L582.1,345.3L583.1,347.7L584.1,349.1L585.1,349.3L586.1,348.6L587.1,347.6L588.1,347.8L589.1,349.3L590.1,348.2L591.1,347.2L592.1,348.2L593.1,349.4L594.1,347.4L595.1,347.5L596.1,350.2L597.1,350.3L598.1,350.5L599.1,351.2L600.1,350.4L601.1,350.6L602.1,351.4L603.1,350.5L604.1,351L605.1,353.1L606.1,352L607.1,349.6L608.1,349.7L609.1,352.7L610.1,354L611.1,352.6L612.1,352.4L613.1,351.9L614.1,351.1L615.1,352.2L616.1,354.3L617.1,352.8L618.1,352.1L619.1,353.4L620.1,354.5L621.1,355.6L622.1,356.9L623.1,358.1L624.1,358.3L625.1,358.6L626.1,357.1L627.1,355.8L628.1,357.8L629.1,358.7L630.1,357.9L631.1,356.2L632.1,354.8L633.1,357.1L634.1,359L635.1,358.2L636.1,357.7L637.1,356.7L638.1,357.4L639.1,359.6L640.1,360.7L641.1,359.9L642.1,358.5L643.1,357.6L644.1,358.7L645.1,360.9L646.1,359.5L647.1,358.3L648.1,358.9L649.1,358.2L650.1,356.1L651.1,356.3L652.1,358.8L653.1,357.9L654.1,356.8L655.1,355.3L656.1,357L657.1,360L658.1,359L659.1,358.4L660.1,357.8L661.1,357.9L662.1,358.2L663.1,358.1L664.1,358.3L665.1,358.5L666.1,359.8L667.1,358.5L668.1,357.5L669.1,358.1L670.1,357L671.1,355.5L672.1,356.9L673.1,358L674.1,356.8L675.1,358L676.1,357.7L677.1,357.3L678.1,358L679.1,358.6L680.1,359.4L681.1,358.1" fill="none" stroke="#cfcfcf" stroke-width="0.6" stroke-linejoin="round" />
<path d="M487.1,357.4L488.1,357.2L489.1,357.7L490.1,356.9L491.1,356.5L492.1,358.4L493.1,357.9L494.1,354.7L495.1,349.5L496.1,342.6L497.1,337.2L498.1,330.4L499.1,324.9L500.1,322.1L501.1,320.7L502.1,318.6L503.1,317.8L504.1,318.2L505.1,314.7L506.1,313.2L507.1,314.5L508.1,314.6L509.1,317L510.1,318.1L511.1,316.3L512.1,315.5L513.1,313.4L514.1,313.9L515.1,315.1L516.1,315.7L517.1,317.7L518.1,319.6L519.1,322L520.1,322.9L521.1,323.1L522.1,322.7L523.1,322.5L524.1,323.7L525.1,322.3L526.1,323.2L527.1,323.6L528.1,320.8L529.1,322.6L530.1,325.3L531.1,323.5L532.1,321.4L533.1,324.6L534.1,325.5L535.1,321.8L536.1,321.8L537.1,325.5L538.1,327.1L539.1,326.7L540.1,327.6L541.1,328.1L542.1,327.4L543.1,326.2L544.1,327.4L545.1,328.4L546.1,328.6L547.1,331.5L548.1,332.6L549.1,331.8L550.1,332L551.1,333.2L552.1,334.4L553.1,333.4L554.1,333.4L555.1,336.4L556.1,337.4L557.1,336L558.1,335.4L559.1,334.9L560.1,335.3L561.1,338.8L562.1,339.8L563.1,338.4L564.1,338.5L565.1,339.5L566.1,340.4L567.1,340.6L568.1,340.5L569.1,341.7L570.1,344L571.1,343.4L572.1,342.1L573.1,343.9L574.1,343.5L575.1,342.5L576.1,343.7L577.1,344.6L578.1,345.1L579.1,344.5L580.1,345.3L581.1,345.4L582.1,344.1L583.1,343.7L584.1,346L585.1,346.6L586.1,346.6L587.1,348.8L588.1,349.4L589.1,349L590.1,348.2L591.1,348.7L592.1,348.9L593.1,348.1L594.1,349.8L595.1,350.4L596.1,351L597.1,352.4L598.1,350.8L599.1,351L600.1,352.5L601.1,351.3L602.1,349.7L603.1,350.2L604.1,351.2L605.1,352.6L606.1,352.6L607.1,351.9L608.1,351.6L609.1,353.3L610.1,354.8L611.1,354.2L612.1,352.4L613.1,353L614.1,354.5L615.1,354.4L616.1,355.8L617.1,356.5L618.1,354.6L619.1,353.5L620.1,355.7L621.1,356.9L622.1,356.8L623.1,356.8L624.1,355.6L625.1,356.2L626.1,358.5L627.1,358.8L628.1,356.8L629.1,356.4L630.1,357.1L631.1,357.6L632.1,358.9L633.1,360.5L634.1,360L635.1,358.1L636.1,358.1L637.1,358.6L638.1,358.2L639.1,358.3L640.1,358.7L641.1,357.7L642.1,358.2L643.1,358.8L644.1,357.6L645.1,358.3L646.1,358.7L647.1,359.7L648.1,360.5L649.1,359.1L650.1,358.1L651.1,357.7L652.1,359L653.1,358.8L654.1,358.7L655.1,357.6L656.1,357.1L657.1,359.4L658.1,359.5L659.1,358.9L660.1,359.4L661.1,358.7L662.1,357.1L663.1,357.9L664.1,359.6L665.1,359.8L666.1,358.7L667.1,358.6L668.1,359.1L669.1,357.8L670.1,355.2L671.1,355.3L672.1,356.4L673.1,356.7L674.1,356.9L675.1,356.6L676.1,357.9L677.1,358.6L678.1,358.2L679.1,359.4L680.1,359.1L681.1,357.4" fill="none" stroke="#cfcfcf" stroke-width="0.6" stroke-linejoin="round" />
<path d="M487.1,356.1L488.1,357.2L489.1,358.8L490.1,358.2L491.1,358.4L492.1,358.7L493.1,357.7L494.1,352.7L495.1,346.8L496.1,340.8L497.1,335.4L498.1,327.9L499.1,322.3L500.1,321.2L501.1,316.7L502.1,312.4L503.1,311.8L504.1,309.8L505.1,305.9L506.1,304.3L507.1,305.3L508.1,304.4L509.1,303.8L510.1,304.1L511.1,304.9L512.1,304.9L513.1,305.5L514.1,304.1L515.1,302.9L516.1,304L517.1,305.7L518.1,307.6L519.1,307.6L520.1,307.6L521.1,308.5L522.1,310.6L523.1,313.2L524.1,314.2L525.1,312.4L526.1,311.5L527.1,312.6L528.1,312.9L529.1,313.1L530.1,314.1L531.1,314.7L532.1,314L533.1,312.9L534.1,314L535.1,315.1L536.1,316.3L537.1,318.9L538.1,319.1L539.1,319.7L540.1,321.5L541.1,324.1L542.1,325.7L543.1,323.6L544.1,324.6L545.1,327.4L546.1,327.7L547.1,327.9L548.1,329.4L549.1,331L550.1,331.6L551.1,331.1L552.1,331.3L553.1,331.5L554.1,331.2L555.1,332.6L556.1,333.6L557.1,334.2L558.1,337.6L559.1,338.8L560.1,336.5L561.1,334.9L562.1,335.3L563.1,336.3L564.1,335.6L565.1,337.7L566.1,339.4L567.1,339.5L568.1,342.7L569.1,343L570.1,340.9L571.1,341.3L572.1,341.3L573.1,340.7L574.1,341.1L575.1,342.9L576.1,343.2L577.1,341.5L578.1,341L579.1,341.5L580.1,342.8L581.1,344.3L582.1,345L583.1,345.8L584.1,345.5L585.1,345.5L586.1,346.2L587.1,346.4L588.1,344.9L589.1,345.6L590.1,346.1L591.1,344.5L592.1,346.7L593.1,347.5L594.1,348.6L595.1,349.3L596.1,347.4L597.1,347.7L598.1,348.4L599.1,349.9L600.1,351.8L601.1,351.4L602.1,350.1L603.1,349.8L604.1,351.3L605.1,350.9L606.1,349.7L607.1,351.3L608.1,352.8L609.1,352.2L610.1,351.7L611.1,350.6L612.1,352L613.1,353.8L614.1,352L615.1,351.5L616.1,352.2L617.1,354.8L618.1,356.4L619.1,354.3L620.1,355.5L621.1,358L622.1,356L623.1,353.1L624.1,355L625.1,357L626.1,356.3L627.1,356.6L628.1,357.9L629.1,359.7L630.1,359.5L631.1,358.3L632.1,358L633.1,358.7L634.1,357.4L635.1,358L636.1,359.1L637.1,358.4L638.1,358.8L639.1,359.4L640.1,360.2L641.1,361.2L642.1,360.1L643.1,357.6L644.1,358L645.1,358.2L646.1,358.8L647.1,358.7L648.1,358.1L649.1,359.5L650.1,360.2L651.1,359.6L652.1,359.9L653.1,360.8L654.1,358.3L655.1,357.6L656.1,359.1L657.1,358.5L658.1,357.9L659.1,358.1L660.1,359L661.1,359.1L662.1,359.9L663.1,360.5L664.1,358.9L665.1,357.5L666.1,358.6L667.1,358.7L668.1,358.1L669.1,359L670.1,359.7L671.1,359.7L672.1,360L673.1,359.2L674.1,358.5L675.1,358.4L676.1,357.9L677.1,358.5L678.1,357.6L679.1,355.4L680.1,356.9L681.1,359.2" fill="none" stroke="#cfcfcf" stroke-width="0.6" stroke-linejoin="round" />
<path d="M487.1,357.1L488.1,357.5L489.1,357.7L490.1,358.3L491.1,358.4L492.1,356.8L493.1,357.2L494.1,354.7L495.1,351L496.1,346.4L497.1,342L498.1,339.7L499.1,336L500.1,333.3L501.1,332.5L502.1,331.1L503.1,330.8L504.1,329.2L505.1,326.1L506.1,325.1L507.1,323.4L508.1,322.3L509.1,324.2L510.1,325.1L511.1,325.4L512.1,325L513.1,323.1L514.1,323.6L515.1,323.9L516.1,324.9L517.1,324.4L518.1,324L519.1,325.9L520.1,326.4L521.1,327.1L522.1,327.7L523.1,326.9L524.1,325.7L525.1,326.5L526.1,326.8L527.1,326.5L528.1,327.2L529.1,326.5L530.1,324.7L531.1,324.4L532.1,325.9L533.1,326L534.1,326.7L535.1,327.4L536.1,327.2L537.1,327.4L538.1,327.9L539.1,330L540.1,330.5L541.1,330.1L542.1,330.5L543.1,332.1L544.1,332.3L545.1,332L546.1,334.7L547.1,337.1L548.1,336.9L549.1,337.2L550.1,336.6L551.1,337.1L552.1,339.6L553.1,338.8L554.1,337.8L555.1,339L556.1,341.2L557.1,342.5L558.1,342.8L559.1,343.7L560.1,344.6L561.1,343.4L562.1,343L563.1,344.1L564.1,345.6L565.1,346L566.1,346.4L567.1,347.2L568.1,348.6L569.1,348.8L570.1,347.1L571.1,347.3L572.1,347.6L573.1,349.9L574.1,349.6L575.1,347.1L576.1,347.5L577.1,348.9L578.1,348.5L579.1,348.7L580.1,350.3L581.1,349.7L582.1,349L583.1,348.6L584.1,348.7L585.1,348.9L586.1,350.2L587.1,352.3L588.1,351.2L589.1,350L590.1,348.8L591.1,348.6L592.1,350.5L593.1,351.3L594.1,351.2L595.1,351.9L596.1,352L597.1,351.2L598.1,352.5L599.1,351.5L600.1,349.4L601.1,350.5L602.1,351L603.1,351.1L604.1,351.7L605.1,351.9L606.1,352.2L607.1,353.4L608.1,353.6L609.1,353.4L610.1,352.8L611.1,352L612.1,352.7L613.1,354.5L614.1,355.2L615.1,355.6L616.1,356.3L617.1,356.5L618.1,355.3L619.1,355.7L620.1,357.2L621.1,358.1L622.1,358.2L623.1,357.1L624.1,356.8L625.1,356.9L626.1,355.8L627.1,355.7L628.1,357.1L629.1,358.2L630.1,357.8L631.1,357.2L632.1,359.3L633.1,358.8L634.1,358.1L635.1,358.2L636.1,357.5L637.1,358.3L638.1,359.1L639.1,358.4L640.1,356.9L641.1,358.6L642.1,359.5L643.1,358.9L644.1,359.5L645.1,359.5L646.1,358.6L647.1,357.8L648.1,356.8L649.1,357.1L650.1,357.9L651.1,357.8L652.1,359.6L653.1,360.2L654.1,358.7L655.1,357.1L656.1,357.7L657.1,359.9L658.1,358.7L659.1,357.8L660.1,358.1L661.1,357.6L662.1,357.7L663.1,356.6L664.1,356.4L665.1,356.4L666.1,357.9L667.1,360L668.1,358.9L669.1,358.3L670.1,358.3L671.1,358.2L672.1,358.3L673.1,358L674.1,357.7L675.1,356.8L676.1,356.1L677.1,356.7L678.1,357.6L679.1,357.8L680.1,359.1L681.1,359.2" fill="none" stroke="#cfcfcf" stroke-width="0.6" stroke-linejoin="round" />
<path d="M487.1,358.1L488.1,359.6L489.1,359.5L490.1,357.6L491.1,356.7L492.1,358L493.1,358.3L494.1,354.7L495.1,350L496.1,345.8L497.1,341.9L498.1,336L499.1,330.4L500.1,325.4L501.1,321.9L502.1,321.5L503.1,321.3L504.1,317L505.1,314.2L506.1,316L507.1,316.8L508.1,315.5L509.1,315.2L510.1,315.5L511.1,314.3L512.1,314.4L513.1,314.6L514.1,312.8L515.1,311.2L516.1,311.1L517.1,311.6L518.1,314.3L519.1,317.5L520.1,317.2L521.1,317L522.1,316.5L523.1,315.8L524.1,317.2L525.1,317.5L526.1,316.5L527.1,314.5L528.1,313L529.1,313.8L530.1,314.5L531.1,314.8L532.1,314.9L533.1,314.9L534.1,315.9L535.1,317.1L536.1,318L537.1,318L538.1,318.7L539.1,320.8L540.1,321.7L541.1,321.2L542.1,321.6L543.1,323.6L544.1,325.8L545.1,327.6L546.1,327.9L547.1,329L548.1,329.9L549.1,329.6L550.1,330.4L551.1,331.9L552.1,334.1L553.1,334.6L554.1,334.3L555.1,333.9L556.1,335.2L557.1,336.9L558.1,337.3L559.1,337.7L560.1,337.8L561.1,338.6L562.1,340.2L563.1,341.9L564.1,342.1L565.1,342.1L566.1,342.4L567.1,342.5L568.1,342.1L569.1,343.2L570.1,345.1L571.1,345.8L572.1,345.2L573.1,344.4L574.1,344.4L575.1,344.8L576.1,345.6L577.1,346.2L578.1,346.4L579.1,346.6L580.1,346.5L581.1,346.7L582.1,347L583.1,346.4L584.1,346.9L585.1,347.7L586.1,346.7L587.1,345.4L588.1,346.8L589.1,348.1L590.1,346.6L591.1,345.5L592.1,346.6L593.1,348.4L594.1,349.3L595.1,350.1L596.1,351L597.1,352.3L598.1,350.5L599.1,348.8L600.1,351L601.1,350.2L602.1,348.5L603.1,349.9L604.1,352L605.1,353L606.1,351L607.1,349.3L608.1,350.8L609.1,351.6L610.1,352.1L611.1,352.9L612.1,354.2L613.1,354.3L614.1,353.3L615.1,353.7L616.1,354.7L617.1,354.1L618.1,353.8L619.1,354.4L620.1,353.4L621.1,355.2L622.1,357.1L623.1,357.6L624.1,357.7L625.1,357.4L626.1,357.6L627.1,357.8L628.1,357.5L629.1,358.6L630.1,358.3L631.1,358.4L632.1,359.1L633.1,358.5L634.1,358.9L635.1,358.6L636.1,359.8L637.1,359.6L638.1,357.8L639.1,357.9L640.1,359.2L641.1,357.1L642.1,357.3L643.1,360.1L644.1,358L645.1,357L646.1,359L647.1,358.2L648.1,357.3L649.1,357.9L650.1,358.7L651.1,359.8L652.1,359.3L653.1,358.5L654.1,359.3L655.1,359.6L656.1,358.8L657.1,359.4L658.1,358.4L659.1,357.5L660.1,358.2L661.1,357.7L662.1,358.2L663.1,358.6L664.1,360.4L665.1,360.9L666.1,359.2L667.1,360L668.1,360.5L669.1,357.7L670.1,357L671.1,359L672.1,358.4L673.1,358.1L674.1,358.1L675.1,358.2L676.1,357.2L677.1,355.4L678.1,356.2L679.1,357.9L680.1,359.3L681.1,358.9" fill="none" stroke="#cfcfcf" stroke-width="0.6" stroke-linejoin="round" />
<path d="M487.1,357.4L488.1,358.8L489.1,358.7L490.1,355.8L491.1,355.2L492.1,356L493.1,355.5L494.1,352.2L495.1,348.5L496.1,344L497.1,339.1L498.1,334.2L499.1,330.3L500.1,327.2L501.1,324.7L502.1,321.1L503.1,317.8L504.1,316.8L505.1,316.3L506.1,314.4L507.1,313.5L508.1,314.7L509.1,316.5L510.1,316.4L511.1,313.9L512.1,313.7L513.1,313.5L514.1,311.8L515.1,312.5L516.1,312.7L517.1,312.8L518.1,314.3L519.1,315.5L520.1,315.1L521.1,313.9L522.1,314.8L523.1,315.9L524.1,316.4L525.1,316.4L526.1,316.5L527.1,317L528.1,316.5L529.1,315L530.1,315.8L531.1,315.5L532.1,314.7L533.1,316.9L534.1,317.1L535.1,318.2L536.1,321L537.1,322.2L538.1,322L539.1,322.5L540.1,322.7L541.1,323.2L542.1,325L543.1,325.8L544.1,326.6L545.1,327.4L546.1,326.7L547.1,328.1L548.1,330.8L549.1,333.1L550.1,334.3L551.1,333.7L552.1,334.7L553.1,336L554.1,336.1L555.1,336.1L556.1,335.7L557.1,336.8L558.1,339.9L559.1,338.9L560.1,337.4L561.1,340.1L562.1,341.6L563.1,341.8L564.1,340.7L565.1,340.3L566.1,342.7L567.1,344L568.1,344.2L569.1,343.4L570.1,343.9L571.1,343.9L572.1,343L573.1,343.3L574.1,345.4L575.1,346.3L576.1,345.4L577.1,344.2L578.1,345.2L579.1,347.5L580.1,345.5L581.1,344L582.1,346.8L583.1,347.5L584.1,347.9L585.1,348.4L586.1,345.1L587.1,346.5L588.1,349.1L589.1,348.9L590.1,348.3L591.1,347.7L592.1,349.1L593.1,348.8L594.1,346.6L595.1,348.2L596.1,349.5L597.1,350L598.1,350.3L599.1,349.2L600.1,349.6L601.1,348.2L602.1,349.6L603.1,351.2L604.1,350.3L605.1,352.2L606.1,352.7L607.1,352.4L608.1,352.9L609.1,353L610.1,353.2L611.1,353.7L612.1,353.6L613.1,353.3L614.1,353.1L615.1,353.9L616.1,353L617.1,352.5L618.1,354.9L619.1,355.3L620.1,355.4L621.1,356.5L622.1,358.5L623.1,357.3L624.1,354.4L625.1,354.3L626.1,355.4L627.1,356.4L628.1,357.2L629.1,358.3L630.1,358.1L631.1,357.3L632.1,357.8L633.1,357.3L634.1,357L635.1,360L636.1,360.3L637.1,357.3L638.1,355.7L639.1,357.4L640.1,358.9L641.1,357.6L642.1,359.8L643.1,361.5L644.1,358.1L645.1,356.7L646.1,358.9L647.1,359.8L648.1,358.1L649.1,358.9L650.1,361.3L651.1,358.9L652.1,356L653.1,355.8L654.1,357.8L655.1,359.7L656.1,359.3L657.1,358L658.1,357.8L659.1,358.7L660.1,357.8L661.1,356L662.1,356.9L663.1,359.2L664.1,359.4L665.1,358.6L666.1,357.9L667.1,358.4L668.1,357.6L669.1,356.8L670.1,357.7L671.1,357.6L672.1,357.3L673.1,358L674.1,358.7L675.1,357.6L676.1,358L677.1,358.4L678.1,357.6L679.1,357.1L680.1,358.1L681.1,357.8" fill="none" stroke="#cfcfcf" stroke-width="0.6" stroke-linejoin="round" />
<path d="M487.1,357.5L488.1,357.3L489.1,358.8L490.1,357.6L491.1,356.3L492.1,357.7L493.1,358.1L494.1,353.3L495.1,349L496.1,344.3L497.1,338.9L498.1,335L499.1,330.2L500.1,326.7L501.1,324L502.1,323.1L503.1,321.8L504.1,318.9L505.1,316.7L506.1,317.9L507.1,320L508.1,320.2L509.1,320L510.1,320.1L511.1,320.3L512.1,320L513.1,318.8L514.1,317.8L515.1,317.6L516.1,319.1L517.1,320.3L518.1,320.9L519.1,323.4L520.1,323.9L521.1,324.1L522.1,325.9L523.1,323.9L524.1,321.7L525.1,323.6L526.1,324L527.1,323.6L528.1,324.4L529.1,323.3L530.1,323.3L531.1,325L532.1,325.1L533.1,323L534.1,322.3L535.1,322.9L536.1,324.7L537.1,325.5L538.1,324.2L539.1,324.9L540.1,326.4L541.1,326.6L542.1,326.9L543.1,327.8L544.1,328.9L545.1,330.4L546.1,330.7L547.1,330.2L548.1,330.9L549.1,331.2L550.1,332.5L551.1,334.2L552.1,334.2L553.1,332.7L554.1,335L555.1,338.8L556.1,338.6L557.1,338.1L558.1,338.2L559.1,341L560.1,340.5L561.1,339.4L562.1,341L563.1,341.1L564.1,341.4L565.1,341.1L566.1,341.8L567.1,342L568.1,343.4L569.1,345.6L570.1,343.8L571.1,341.8L572.1,343L573.1,345.4L574.1,344.9L575.1,346.1L576.1,347.5L577.1,346.1L578.1,345L579.1,345.6L580.1,346.8L581.1,347.7L582.1,349L583.1,348.8L584.1,348.6L585.1,349.9L586.1,350.3L587.1,349.2L588.1,349.4L589.1,349.5L590.1,349.6L591.1,350.2L592.1,349.2L593.1,349.9L594.1,351L595.1,351.3L596.1,350.4L597.1,350.9L598.1,353.1L599.1,352.1L600.1,351.3L601.1,351.8L602.1,352L603.1,352.8L604.1,352.4L605.1,350.9L606.1,351.4L607.1,354L608.1,354.1L609.1,351.9L610.1,351.6L611.1,352.7L612.1,354.6L613.1,354L614.1,353.4L615.1,354.4L616.1,354.8L617.1,355L618.1,355.8L619.1,356.5L620.1,355.4L621.1,357.1L622.1,356.8L623.1,354.1L624.1,356.3L625.1,357.8L626.1,357L627.1,357.2L628.1,358.1L629.1,357.8L630.1,356.8L631.1,356.4L632.1,356.3L633.1,356.6L634.1,358.3L635.1,359.3L636.1,358.9L637.1,358.3L638.1,358.7L639.1,358L640.1,357.6L641.1,359.4L642.1,358.6L643.1,357.2L644.1,358.1L645.1,358.3L646.1,357.2L647.1,357.7L648.1,357.6L649.1,357.5L650.1,360L651.1,359.7L652.1,358.8L653.1,358.3L654.1,357.7L655.1,358.3L656.1,358.1L657.1,358.9L658.1,360.8L659.1,360L660.1,359.4L661.1,359.7L662.1,359.3L663.1,358.6L664.1,357.4L665.1,357.6L666.1,357.6L667.1,357.7L668.1,357.5L669.1,357.4L670.1,358.4L671.1,359.8L672.1,361.1L673.1,360L674.1,358.2L675.1,358.2L676.1,359.3L677.1,358.6L678.1,357.2L679.1,355.9L680.1,356.5L681.1,359.4" fill="none" stroke="#cfcfcf" stroke-width="0.6" stroke-linejoin="round" />
<path d="M487.1,357.6L488.1,358L489.1,358.3L490.1,356.3L491.1,355.6L492.1,357.5L493.1,357.5L494.1,354L495.1,348.5L496.1,342.3L497.1,337.8L498.1,330L499.1,322.9L500.1,319.3L501.1,317.1L502.1,313.3L503.1,309.4L504.1,308.9L505.1,308.6L506.1,307.9L507.1,306.4L508.1,307.6L509.1,308.7L510.1,307.1L511.1,307.3L512.1,308.6L513.1,307.8L514.1,305.4L515.1,305.1L516.1,307.6L517.1,310.4L518.1,311L519.1,311.6L520.1,312.6L521.1,313.5L522.1,314.2L523.1,314.5L524.1,315L525.1,314.9L526.1,315L527.1,314.3L528.1,316.6L529.1,319.2L530.1,318.9L531.1,318.1L532.1,319.3L533.1,319.9L534.1,319.7L535.1,321.7L536.1,322.3L537.1,323.5L538.1,324.1L539.1,323.7L540.1,324.7L541.1,324.7L542.1,324.5L543.1,326.9L544.1,327.1L545.1,328.2L546.1,330.5L547.1,331.3L548.1,332.4L549.1,332.6L550.1,334L551.1,334.1L552.1,333.2L553.1,334.8L554.1,334.9L555.1,335.5L556.1,337.1L557.1,336.3L558.1,335.2L559.1,334.5L560.1,337.4L561.1,338.3L562.1,336.2L563.1,338.5L564.1,340.2L565.1,340.1L566.1,340.1L567.1,340L568.1,339.5L569.1,339.6L570.1,341.1L571.1,342.9L572.1,343.8L573.1,343.2L574.1,340.8L575.1,341.5L576.1,343.5L577.1,341.3L578.1,342.8L579.1,345.5L580.1,344.6L581.1,344.9L582.1,345.3L583.1,345.7L584.1,346L585.1,346.1L586.1,346.7L587.1,347.3L588.1,349L589.1,349.2L590.1,347.1L591.1,346.8L592.1,347.8L593.1,348.7L594.1,348.8L595.1,348.8L596.1,348.8L597.1,349.8L598.1,351.3L599.1,351.3L600.1,350.3L601.1,349.4L602.1,348.8L603.1,350L604.1,351L605.1,351.1L606.1,350.7L607.1,350.9L608.1,350.5L609.1,349.9L610.1,351.1L611.1,352.7L612.1,353.1L613.1,352.1L614.1,353.1L615.1,354L616.1,354.8L617.1,355.4L618.1,355.2L619.1,355L620.1,355.7L621.1,355.6L622.1,354.1L623.1,355.7L624.1,356.8L625.1,356.4L626.1,357.5L627.1,358.5L628.1,355.8L629.1,354.3L630.1,357.8L631.1,357.4L632.1,356.9L633.1,358.1L634.1,357.1L635.1,357.4L636.1,356.8L637.1,357.3L638.1,359.7L639.1,358.3L640.1,356.9L641.1,359L642.1,359.9L643.1,358.6L644.1,359.5L645.1,358.4L646.1,357L647.1,358.4L648.1,358.4L649.1,359L650.1,357.9L651.1,357.3L652.1,358L653.1,358.9L654.1,360.4L655.1,358.8L656.1,357.1L657.1,357.6L658.1,357.8L659.1,357.4L660.1,358.4L661.1,358.5L662.1,359.6L663.1,360L664.1,358.1L665.1,357.1L666.1,357.1L667.1,358.9L668.1,359.7L669.1,360L670.1,360.6L671.1,359.8L672.1,358.2L673.1,357.6L674.1,358.2L675.1,356.9L676.1,357.1L677.1,357.6L678.1,357.2L679.1,357.6L680.1,358.1L681.1,360.6" fill="none" stroke="#cfcfcf" stroke-width="0.6" stroke-linejoin="round" />
<path d="M487.1,358.9L488.1,358.2L489.1,356.4L490.1,357L491.1,357.5L492.1,356.2L493.1,356.2L494.1,354.3L495.1,351.4L496.1,345.6L497.1,337.8L498.1,332.1L499.1,325.5L500.1,322.7L501.1,323.6L502.1,321.3L503.1,318.2L504.1,316.2L505.1,314.4L506.1,312.1L507.1,313L508.1,313.5L509.1,311.9L510.1,313.5L511.1,313.4L512.1,311L513.1,311.4L514.1,311.3L515.1,310.7L516.1,310.8L517.1,309.4L518.1,310.8L519.1,314L520.1,314L521.1,313.6L522.1,314.8L523.1,314.9L524.1,314.5L525.1,314.9L526.1,314.7L527.1,313.1L528.1,313.3L529.1,314.2L530.1,313.7L531.1,313.6L532.1,311.3L533.1,311L534.1,313.6L535.1,312.5L536.1,314.9L537.1,317.8L538.1,316.7L539.1,317.1L540.1,318.6L541.1,319.8L542.1,319.4L543.1,320.1L544.1,322.9L545.1,324.8L546.1,326.2L547.1,325.8L548.1,325.6L549.1,327.8L550.1,328.8L551.1,329.7L552.1,330.5L553.1,331.8L554.1,333.5L555.1,334.4L556.1,335.2L557.1,334.9L558.1,334.6L559.1,336L560.1,337.2L561.1,336.6L562.1,337.3L563.1,339.8L564.1,341.9L565.1,342.4L566.1,343L567.1,342.6L568.1,341.9L569.1,341.8L570.1,341.7L571.1,344.1L572.1,345.4L573.1,344.9L574.1,346.9L575.1,348.2L576.1,345.7L577.1,345.2L578.1,345.5L579.1,345.8L580.1,345.1L581.1,343.8L582.1,344.7L583.1,347.3L584.1,346.8L585.1,346.3L586.1,348.8L587.1,348.2L588.1,348.2L589.1,350.3L590.1,350.1L591.1,347.9L592.1,349L593.1,350.1L594.1,348.3L595.1,348L596.1,349.4L597.1,348.5L598.1,347.8L599.1,348.4L600.1,348.4L601.1,349.5L602.1,351L603.1,349L604.1,348.6L605.1,350.7L606.1,350.2L607.1,350.1L608.1,351.6L609.1,350.7L610.1,350.4L611.1,350.1L612.1,351.2L613.1,352.8L614.1,351.2L615.1,350.6L616.1,350.7L617.1,353.6L618.1,354.6L619.1,353.4L620.1,354.1L621.1,353.7L622.1,355L623.1,354.6L624.1,355L625.1,356.8L626.1,356.3L627.1,357.4L628.1,358.3L629.1,357.2L630.1,357.1L631.1,358.2L632.1,357.7L633.1,357.6L634.1,358.7L635.1,359.4L636.1,359.7L637.1,360.1L638.1,357.5L639.1,356.7L640.1,359.2L641.1,358.6L642.1,356.4L643.1,355.3L644.1,358.2L645.1,359.4L646.1,357.9L647.1,357.7L648.1,357.9L649.1,360.2L650.1,358.6L651.1,357.2L652.1,357.8L653.1,356.3L654.1,356.2L655.1,357.8L656.1,359.5L657.1,360.5L658.1,359.5L659.1,357.1L660.1,357.6L661.1,359L662.1,358.4L663.1,357.5L664.1,357.3L665.1,359.9L666.1,361.2L667.1,360.6L668.1,360L669.1,358.6L670.1,358L671.1,358.4L672.1,358.7L673.1,358.3L674.1,357.3L675.1,358.4L676.1,358.8L677.1,358.6L678.1,358.7L679.1,358.5L680.1,359.1L681.1,359.1" fill="none" stroke="#cfcfcf" stroke-width="0.6" stroke-linejoin="round" />
<path d="M487.1,356.2L488.1,356.2L489.1,358.6L490.1,358L491.1,355.9L492.1,358.4L493.1,357.9L494.1,352.3L495.1,349L496.1,344.2L497.1,339.1L498.1,335L499.1,331.1L500.1,327.5L501.1,323.6L502.1,322.1L503.1,321.8L504.1,319.6L505.1,318.2L506.1,317L507.1,316.2L508.1,316.3L509.1,315.8L510.1,314.8L511.1,314.1L512.1,315.2L513.1,315.3L514.1,314.4L515.1,315.9L516.1,318.1L517.1,318.1L518.1,317.9L519.1,319.1L520.1,318.8L521.1,319.1L522.1,323.1L523.1,324L524.1,323.7L525.1,324.6L526.1,324.7L527.1,325.2L528.1,324L529.1,322L530.1,323.2L531.1,325.1L532.1,324.8L533.1,325.4L534.1,325L535.1,325.2L536.1,326.6L537.1,326.1L538.1,326L539.1,327.9L540.1,327.9L541.1,329.3L542.1,332.6L543.1,332.7L544.1,333L545.1,332.4L546.1,333L547.1,335.7L548.1,336.6L549.1,337.4L550.1,337.6L551.1,339L552.1,340L553.1,339.6L554.1,340.6L555.1,339.9L556.1,338.6L557.1,340.3L558.1,340.6L559.1,339.8L560.1,342L561.1,341.9L562.1,340.7L563.1,340.9L564.1,341.1L565.1,343.9L566.1,345.5L567.1,345L568.1,343.3L569.1,340.8L570.1,341.7L571.1,344.8L572.1,346.9L573.1,344.7L574.1,342.5L575.1,344.9L576.1,346.8L577.1,346.8L578.1,347.4L579.1,346.4L580.1,346.2L581.1,347L582.1,348.1L583.1,348.3L584.1,345.9L585.1,347.4L586.1,350.6L587.1,350.6L588.1,349L589.1,347.7L590.1,348.9L591.1,349.5L592.1,349.3L593.1,350.6L594.1,350.2L595.1,348.2L596.1,348.9L597.1,349.9L598.1,348.5L599.1,349.5L600.1,351.1L601.1,351.3L602.1,351.9L603.1,350.6L604.1,350.8L605.1,353.9L606.1,353.6L607.1,352.1L608.1,352.2L609.1,353.8L610.1,354.1L611.1,352.6L612.1,351.6L613.1,353.6L614.1,356.4L615.1,355.5L616.1,356.3L617.1,356.2L618.1,355.3L619.1,354.8L620.1,353.7L621.1,355L622.1,356.5L623.1,357.2L624.1,356.3L625.1,355.6L626.1,356.5L627.1,356.8L628.1,356.9L629.1,357.9L630.1,359.1L631.1,357.1L632.1,357.3L633.1,359L634.1,358.3L635.1,358.5L636.1,359.1L637.1,359.5L638.1,357.5L639.1,357.7L640.1,358.1L641.1,357.7L642.1,358.8L643.1,357.2L644.1,357.1L645.1,358.1L646.1,357.6L647.1,359.4L648.1,360.1L649.1,358.1L650.1,359.4L651.1,359.7L652.1,358.2L653.1,356.6L654.1,357.2L655.1,359.6L656.1,360.7L657.1,359L658.1,358.3L659.1,360.3L660.1,360L661.1,358.9L662.1,356.9L663.1,357.1L664.1,357.9L665.1,356.4L666.1,357.3L667.1,358.6L668.1,357.9L669.1,359.6L670.1,359.3L671.1,356L672.1,354.6L673.1,356.7L674.1,358.3L675.1,357.3L676.1,355.7L677.1,355.6L678.1,356.4L679.1,356.9L680.1,357.1L681.1,356.5" fill="none" stroke="#cfcfcf" stroke-width="0.6" stroke-linejoin="round" />
<path d="M487,357.3L488,357L489,357.1L490,356.3L491,355.9L492,357.3L493,357.7L494,357L495,356.9L496,357.1L497,357L498,357.6L499,357.6L500,357.2L501,357.1L502,356.8L503,356.6L504,356.6L505,357L506,357.1L507,357.2L508,357.3L509,357.5L510,357.4L511,357.6L512,357.9L513,357.9L514,357.7L515,357.6L516,357.7L517,356.8L518,356.8L519,357.2L520,356.8L521,356.6L522,356.8L523,357.8L524,358.1L525,357.9L526,358.1L527,357.9L528,357.9L529,357.1L530,357.2L531,357.4L532,357.1L533,357.4L534,357.8L535,358.2L536,358.2L537,358L538,357.5L539,357.6L540,358.3L541,358.2L542,357.5L543,357L544,356.7L545,357.1L546,357.5L547,357.7L548,357.5L549,357.4L550,357.9L551,358.4L552,358.3L553,358.2L554,358.2L555,358.3L556,357.5L557,356.8L558,357.3L559,357.6L560,357.9L561,357.2L562,356.9L563,357.5L564,357.3L565,357.1L566,357.7L567,357.8L568,357.5L569,357.4L570,357.4L571,357.7L572,357.7L573,357.7L574,357.5L575,357.2L576,357.1L577,357L578,357.6L579,357.4L580,357L581,357.4L582,357.4L583,357.6L584,357.3L585,357.3L586,358.1L587,358.4L588,357.9L589,357.2L590,356.8L591,357.2L592,357.9L593,357.8L594,357.7L595,357.8L596,357.6L597,356.9L598,356.6L599,356.8L600,357L601,356.8L602,356.9L603,357.1L604,357.4L605,357.7L606,357.8L607,357.4L608,356.8L609,356.8L610,357.2L611,358.6L612,358.6L613,357.6L614,357.6L615,357.7L616,358L617,358L618,357.5L619,356.9L620,357.3L621,358.3L622,358.2L623,357.7L624,357.6L625,357.8L626,358.9L627,361L628,363.9L629,366.8L630,369L631,371.6L632,372.3L633,371.3L634,371.7L635,371.4L636,370.4L637,368.7L638,367.8L639,367.8L640,367L641,366.9L642,365.7L643,365L644,365.7L645,366.7L646,366.2L647,365.7L648,366L649,365.5L650,365L651,365L652,365.3L653,365L654,366.1L655,366.7L656,366.6L657,367.4L658,367.7L659,367.3L660,367.7L661,368.1L662,368.5L663,367.9L664,367.5L665,367.9L666,367.4L667,367L668,367.1L669,366.7L670,366.3L671,366.8L672,366.9L673,366.5L674,367.1L675,367.3L676,367.1L677,367L678,366.9L679,367.1L680,367.2L681,368.2L682,368.6" fill="none" stroke="#cfcfcf" stroke-width="0.6" stroke-linejoin="round" />
<path d="M487,356.4L488,355.9L489,357.2L490,357.2L491,357L492,357.2L493,356.6L494,356.9L495,357.3L496,357.8L497,358.9L498,359.2L499,360.5L500,360.6L501,360.6L502,361.7L503,362.1L504,362.5L505,361.3L506,361.1L507,362.6L508,362.9L509,362.1L510,362L511,362.8L512,363.6L513,363.3L514,363L515,362.9L516,362.5L517,362.7L518,363.7L519,364.3L520,363.6L521,363.3L522,363.6L523,363.5L524,363.1L525,363L526,363.3L527,363.2L528,363.2L529,362.5L530,361.8L531,362.3L532,362.7L533,362.4L534,361.8L535,362.2L536,362.3L537,361.8L538,361.7L539,361.5L540,361.9L541,362.4L542,362.3L543,363L544,363.1L545,362.4L546,361.8L547,362.4L548,362.5L549,361.5L550,361.9L551,362.1L552,361.4L553,361.4L554,362.3L555,362.1L556,361.4L557,361L558,360.6L559,361.3L560,361.4L561,361.1L562,361.5L563,361.3L564,361.4L565,361.2L566,360.2L567,360.1L568,359.8L569,360.3L570,360.8L571,361.1L572,360.7L573,360.4L574,361.1L575,360.6L576,359.9L577,358.9L578,359.6L579,360.5L580,359.9L581,359.6L582,359.4L583,359L584,359.1L585,359.5L586,358.9L587,358.9L588,358.3L589,358L590,358.5L591,358.9L592,359.3L593,358.6L594,358.1L595,359.3L596,359L597,358.5L598,359.2L599,358.7L600,357.6L601,357.6L602,358.1L603,357.4L604,357.8L605,357.9L606,357.9L607,357.8L608,357.8L609,358.3L610,357.7L611,357.2L612,357.2L613,357.4L614,357.4L615,358.3L616,358.7L617,357.8L618,357.5L619,357.3L620,357.6L621,357.8L622,357.4L623,357.2L624,357.3L625,357.1L626,357.3L627,357.4L628,357.5L629,357.8L630,357.8L631,357.7L632,356.7L633,356.4L634,357L635,357.7L636,358L637,358L638,358.1L639,358.1L640,357.9L641,357.7L642,357.7L643,357.8L644,357.5L645,357.6L646,358.6L647,357.9L648,356.8L649,357.3L650,357.6L651,357.8L652,358.2L653,357.6L654,357.7L655,357.8L656,356.8L657,357.5L658,357.8L659,357.6L660,357.6L661,357.7L662,358.1L663,358.1L664,357.2L665,356.7L666,357.8L667,358.9L668,358.7L669,358.3L670,358.1L671,358.5L672,358.1L673,357.2L674,357.1L675,357.8L676,357.9L677,357.5L678,357.2L679,356.4L680,357.3L681,358.2L682,358.1" fill="none" stroke="#cfcfcf" stroke-width="0.6" stroke-linejoin="round" />
<path d="M487,357.3L488,357.3L489,357.2L490,357.1L491,357.2L492,357.6L493,357.6L494,357.3L495,357.5L496,357.9L497,358.2L498,358.7L499,359.2L500,359.2L501,359.6L502,360.2L503,360L504,360.1L505,360L506,359.8L507,360.1L508,360.2L509,360.2L510,359.7L511,359.6L512,360L513,359.9L514,359.7L515,359.6L516,359.9L517,360.1L518,360.1L519,360.1L520,360.1L521,360L522,359.8L523,359.6L524,359.5L525,359.5L526,359.3L527,359.4L528,359.2L529,359L530,359.2L531,359.4L532,359.7L533,359.6L534,359.4L535,359.3L536,359.4L537,359.6L538,359.3L539,359.1L540,359.2L541,359.3L542,359.2L543,359.2L544,359.4L545,359.1L546,358.9L547,358.8L548,358.6L549,358.8L550,359.1L551,359.2L552,359L553,358.7L554,358.5L555,358.6L556,358.6L557,358.6L558,358.6L559,358.5L560,358.4L561,358.6L562,358.8L563,358.4L564,358.1L565,358.1L566,358.3L567,358.1L568,357.9L569,358.4L570,358.4L571,358L572,358L573,358.3L574,358.1L575,357.8L576,357.8L577,357.8L578,358L579,358.1L580,357.5L581,357.5L582,357.9L583,357.9L584,357.9L585,357.7L586,357.7L587,357.6L588,357.3L589,357.3L590,357.4L591,357.7L592,357.8L593,357.8L594,357.6L595,357.2L596,357.4L597,357.3L598,357.2L599,357.1L600,357.3L601,357.3L602,357.2L603,357.2L604,357.3L605,357.7L606,357.7L607,357.4L608,357.4L609,357.7L610,357.7L611,357.8L612,357.9L613,357.8L614,357.4L615,357.3L616,357.3L617,357.4L618,357.3L619,357.4L620,357.8L621,357.6L622,357.2L623,357.3L624,357.2L625,357.4L626,357.5L627,357.5L628,357.2L629,357.2L630,357.4L631,357.1L632,357.3L633,357.6L634,357.5L635,357.5L636,357.3L637,357.4L638,357.5L639,357.4L640,357.5L641,357.5L642,357.3L643,357.3L644,357.4L645,357.5L646,357.4L647,357.4L648,357.6L649,357.4L650,357.6L651,357.7L652,357.4L653,357.3L654,357.3L655,357L656,357.1L657,357.2L658,357.5L659,357.7L660,357.1L661,356.9L662,357.2L663,357.2L664,357.3L665,357.3L666,357.4L667,357.3L668,357.4L669,357.5L670,357.5L671,357.5L672,357.4L673,357.2L674,357.3L675,357.5L676,357.3L677,357.3L678,357.4L679,357.1L680,357L681,357L682,357.3" fill="none" stroke="#92cb74" stroke-width="1.6" stroke-linejoin="round" />
<path d="M487.1,357.3L488.1,357.2L489.1,357.1L490.1,357.2L491.1,356.9L492.1,356.9L493.1,357.5L494.1,353.8L495.1,348.9L496.1,344.1L497.1,339.3L498.1,333.8L499.1,329.4L500.1,326.7L501.1,324.1L502.1,322.1L503.1,320.6L504.1,319.4L505.1,317.6L506.1,316.4L507.1,316.5L508.1,316.5L509.1,316.5L510.1,316.4L511.1,316.2L512.1,315.9L513.1,315.7L514.1,315.5L515.1,315.3L516.1,315.9L517.1,317.1L518.1,318.3L519.1,319.1L520.1,319.8L521.1,320.3L522.1,320.6L523.1,321.2L524.1,321.6L525.1,321.6L526.1,321.6L527.1,321.4L528.1,321.2L529.1,321L530.1,321L531.1,321.1L532.1,321.2L533.1,321.6L534.1,322.3L535.1,322.8L536.1,323.2L537.1,324.2L538.1,324.8L539.1,325.5L540.1,326.2L541.1,326.4L542.1,327.4L543.1,328.5L544.1,329.1L545.1,329.5L546.1,330.4L547.1,331.5L548.1,331.9L549.1,332.7L550.1,333.4L551.1,334L552.1,334.7L553.1,335.7L554.1,336.5L555.1,337.2L556.1,337.7L557.1,337.8L558.1,338.8L559.1,339.3L560.1,339.7L561.1,340.2L562.1,340.6L563.1,341.1L564.1,341.7L565.1,342.6L566.1,343L567.1,343.1L568.1,343.2L569.1,343.6L570.1,344.4L571.1,344.5L572.1,344.2L573.1,344.9L574.1,345.4L575.1,345.5L576.1,345.8L577.1,346L578.1,346.2L579.1,346.3L580.1,346.3L581.1,346.5L582.1,346.9L583.1,347.4L584.1,347.7L585.1,347.8L586.1,347.7L587.1,347.9L588.1,348.7L589.1,348.9L590.1,349L591.1,349.2L592.1,349.1L593.1,349.6L594.1,349.8L595.1,349.7L596.1,349.9L597.1,350.3L598.1,350.7L599.1,351.1L600.1,350.9L601.1,351L602.1,351.2L603.1,351.4L604.1,351.9L605.1,352L606.1,352L607.1,352.4L608.1,352.6L609.1,352.5L610.1,353L611.1,353.6L612.1,353.6L613.1,353.7L614.1,354L615.1,354.2L616.1,354.4L617.1,354.7L618.1,354.8L619.1,355.2L620.1,355.6L621.1,355.6L622.1,355.8L623.1,355.8L624.1,355.8L625.1,356.2L626.1,356.9L627.1,357.4L628.1,357.7L629.1,357.8L630.1,358L631.1,357.9L632.1,357.6L633.1,357.6L634.1,357.9L635.1,358L636.1,357.9L637.1,358L638.1,358.2L639.1,358.2L640.1,358.2L641.1,358.4L642.1,358.7L643.1,358.7L644.1,358.2L645.1,358.2L646.1,358.5L647.1,358.2L648.1,357.7L649.1,358L650.1,358.5L651.1,358.2L652.1,358.2L653.1,358.6L654.1,358.9L655.1,358.6L656.1,358.6L657.1,358.6L658.1,358.4L659.1,358.4L660.1,358.3L661.1,358.3L662.1,358.2L663.1,358.2L664.1,358.1L665.1,358.2L666.1,358.3L667.1,358.3L668.1,358.3L669.1,357.9L670.1,358.1L671.1,358.5L672.1,358.2L673.1,358.1L674.1,358.4L675.1,358.4L676.1,358.2L677.1,358.3L678.1,357.8L679.1,357.9L680.1,357.8L681.1,357.7" fill="none" stroke="#16894a" stroke-width="1.6" stroke-linejoin="round" />
<rect x="488.6" y="368" width="34.4" height="4" fill="#17a3d9"/>
<line x1="486.6" y1="296.3" x2="486.6" y2="374" stroke="#8a8a8a" stroke-width="1" />
<line x1="486.6" y1="374" x2="682" y2="374" stroke="#8a8a8a" stroke-width="1" />
<line x1="486.6" y1="374" x2="488.6" y2="374" stroke="#8a8a8a" stroke-width="1" />
<line x1="486.6" y1="365.2" x2="488.6" y2="365.2" stroke="#8a8a8a" stroke-width="1" />
<line x1="486.6" y1="356.3" x2="488.6" y2="356.3" stroke="#8a8a8a" stroke-width="1" />
<line x1="486.6" y1="347.5" x2="488.6" y2="347.5" stroke="#8a8a8a" stroke-width="1" />
<line x1="486.6" y1="338.7" x2="488.6" y2="338.7" stroke="#8a8a8a" stroke-width="1" />
<line x1="486.6" y1="329.9" x2="488.6" y2="329.9" stroke="#8a8a8a" stroke-width="1" />
<line x1="486.6" y1="321" x2="488.6" y2="321" stroke="#8a8a8a" stroke-width="1" />
<line x1="486.6" y1="312.2" x2="488.6" y2="312.2" stroke="#8a8a8a" stroke-width="1" />
<line x1="486.6" y1="303.4" x2="488.6" y2="303.4" stroke="#8a8a8a" stroke-width="1" />
<line x1="487" y1="374" x2="487" y2="371.7" stroke="#8a8a8a" stroke-width="1" />
<line x1="504.8" y1="374" x2="504.8" y2="371.7" stroke="#8a8a8a" stroke-width="1" />
<line x1="522.6" y1="374" x2="522.6" y2="371.7" stroke="#8a8a8a" stroke-width="1" />
<line x1="540.4" y1="374" x2="540.4" y2="371.7" stroke="#8a8a8a" stroke-width="1" />
<line x1="558.2" y1="374" x2="558.2" y2="371.7" stroke="#8a8a8a" stroke-width="1" />
<line x1="576" y1="374" x2="576" y2="371.7" stroke="#8a8a8a" stroke-width="1" />
<line x1="593.8" y1="374" x2="593.8" y2="371.7" stroke="#8a8a8a" stroke-width="1" />
<line x1="611.6" y1="374" x2="611.6" y2="371.7" stroke="#8a8a8a" stroke-width="1" />
<line x1="629.4" y1="374" x2="629.4" y2="371.7" stroke="#8a8a8a" stroke-width="1" />
<line x1="647.2" y1="374" x2="647.2" y2="371.7" stroke="#8a8a8a" stroke-width="1" />
<line x1="665" y1="374" x2="665" y2="371.7" stroke="#8a8a8a" stroke-width="1" />
<text x="485.8" y="307.9" font-size="10" fill="#555" text-anchor="end" font-weight="normal" >600</text>
<text x="485.8" y="334.4" font-size="10" fill="#555" text-anchor="end" font-weight="normal" >300</text>
<text x="485.8" y="360.9" font-size="10" fill="#555" text-anchor="end" font-weight="normal" >0</text>
<text x="487.8" y="384.2" font-size="10" fill="#555" text-anchor="middle" font-weight="normal" >0.25</text>
<text x="523.4" y="384.2" font-size="10" fill="#555" text-anchor="middle" font-weight="normal" >0.35</text>
<text x="559" y="384.2" font-size="10" fill="#555" text-anchor="middle" font-weight="normal" >0.45</text>
<text x="594.6" y="384.2" font-size="10" fill="#555" text-anchor="middle" font-weight="normal" >0.55</text>
<text x="630.2" y="384.2" font-size="10" fill="#555" text-anchor="middle" font-weight="normal" >0.65</text>
<text x="665.8" y="384.2" font-size="10" fill="#555" text-anchor="middle" font-weight="normal" >0.75</text>
<text x="587.5" y="395.4" font-size="10" fill="#222" text-anchor="middle" font-weight="normal" >Time (sec)</text>
<text x="0" y="0" transform="translate(463.2,334.8) rotate(-90)" font-size="10" fill="#222" text-anchor="middle" font-weight="normal" >Current (pA)</text>
<text x="559.8" y="307" font-size="9" fill="#8cc870">-70 Vm<tspan font-size="5" dy="2">hold</tspan><tspan x="603.6" dy="-2">(excitatory currents)</tspan></text>
<text x="559.8" y="317.9" font-size="9" fill="#1a9048">-0 Vm<tspan font-size="5" dy="2">hold</tspan><tspan x="603.6" dy="-2">(inhibitory currents)</tspan></text>
<text x="0" y="424.3" font-size="15.2" font-weight="bold" fill="#1a1a1a">G</text>
<line x1="36.8" y1="432.6" x2="36.8" y2="589" stroke="#a8a8a8" stroke-width="1" />
<line x1="36.8" y1="589" x2="192.8" y2="589" stroke="#a8a8a8" stroke-width="1" />
<line x1="36.8" y1="589" x2="39.3" y2="589" stroke="#a8a8a8" stroke-width="0.8" />
<line x1="36.8" y1="589" x2="36.8" y2="586.5" stroke="#a8a8a8" stroke-width="0.8" />
<line x1="36.8" y1="577.3" x2="38.3" y2="577.3" stroke="#a8a8a8" stroke-width="0.8" />
<line x1="48.5" y1="589" x2="48.5" y2="587.5" stroke="#a8a8a8" stroke-width="0.8" />
<line x1="36.8" y1="570.4" x2="38.3" y2="570.4" stroke="#a8a8a8" stroke-width="0.8" />
<line x1="55.4" y1="589" x2="55.4" y2="587.5" stroke="#a8a8a8" stroke-width="0.8" />
<line x1="36.8" y1="565.5" x2="38.3" y2="565.5" stroke="#a8a8a8" stroke-width="0.8" />
<line x1="60.3" y1="589" x2="60.3" y2="587.5" stroke="#a8a8a8" stroke-width="0.8" />
<line x1="36.8" y1="561.7" x2="38.3" y2="561.7" stroke="#a8a8a8" stroke-width="0.8" />
<line x1="64.1" y1="589" x2="64.1" y2="587.5" stroke="#a8a8a8" stroke-width="0.8" />
<line x1="36.8" y1="558.7" x2="38.3" y2="558.7" stroke="#a8a8a8" stroke-width="0.8" />
<line x1="67.1" y1="589" x2="67.1" y2="587.5" stroke="#a8a8a8" stroke-width="0.8" />
<line x1="36.8" y1="556" x2="38.3" y2="556" stroke="#a8a8a8" stroke-width="0.8" />
<line x1="69.8" y1="589" x2="69.8" y2="587.5" stroke="#a8a8a8" stroke-width="0.8" />
<line x1="36.8" y1="553.8" x2="38.3" y2="553.8" stroke="#a8a8a8" stroke-width="0.8" />
<line x1="72" y1="589" x2="72" y2="587.5" stroke="#a8a8a8" stroke-width="0.8" />
<line x1="36.8" y1="551.8" x2="38.3" y2="551.8" stroke="#a8a8a8" stroke-width="0.8" />
<line x1="74" y1="589" x2="74" y2="587.5" stroke="#a8a8a8" stroke-width="0.8" />
<line x1="36.8" y1="550" x2="39.3" y2="550" stroke="#a8a8a8" stroke-width="0.8" />
<line x1="75.8" y1="589" x2="75.8" y2="586.5" stroke="#a8a8a8" stroke-width="0.8" />
<line x1="36.8" y1="538.3" x2="38.3" y2="538.3" stroke="#a8a8a8" stroke-width="0.8" />
<line x1="87.5" y1="589" x2="87.5" y2="587.5" stroke="#a8a8a8" stroke-width="0.8" />
<line x1="36.8" y1="531.4" x2="38.3" y2="531.4" stroke="#a8a8a8" stroke-width="0.8" />
<line x1="94.4" y1="589" x2="94.4" y2="587.5" stroke="#a8a8a8" stroke-width="0.8" />
<line x1="36.8" y1="526.5" x2="38.3" y2="526.5" stroke="#a8a8a8" stroke-width="0.8" />
<line x1="99.3" y1="589" x2="99.3" y2="587.5" stroke="#a8a8a8" stroke-width="0.8" />
<line x1="36.8" y1="522.7" x2="38.3" y2="522.7" stroke="#a8a8a8" stroke-width="0.8" />
<line x1="103.1" y1="589" x2="103.1" y2="587.5" stroke="#a8a8a8" stroke-width="0.8" />
<line x1="36.8" y1="519.7" x2="38.3" y2="519.7" stroke="#a8a8a8" stroke-width="0.8" />
<line x1="106.1" y1="589" x2="106.1" y2="587.5" stroke="#a8a8a8" stroke-width="0.8" />
<line x1="36.8" y1="517" x2="38.3" y2="517" stroke="#a8a8a8" stroke-width="0.8" />
<line x1="108.8" y1="589" x2="108.8" y2="587.5" stroke="#a8a8a8" stroke-width="0.8" />
<line x1="36.8" y1="514.8" x2="38.3" y2="514.8" stroke="#a8a8a8" stroke-width="0.8" />
<line x1="111" y1="589" x2="111" y2="587.5" stroke="#a8a8a8" stroke-width="0.8" />
<line x1="36.8" y1="512.8" x2="38.3" y2="512.8" stroke="#a8a8a8" stroke-width="0.8" />
<line x1="113" y1="589" x2="113" y2="587.5" stroke="#a8a8a8" stroke-width="0.8" />
<line x1="36.8" y1="511" x2="39.3" y2="511" stroke="#a8a8a8" stroke-width="0.8" />
<line x1="114.8" y1="589" x2="114.8" y2="586.5" stroke="#a8a8a8" stroke-width="0.8" />
<line x1="36.8" y1="499.3" x2="38.3" y2="499.3" stroke="#a8a8a8" stroke-width="0.8" />
<line x1="126.5" y1="589" x2="126.5" y2="587.5" stroke="#a8a8a8" stroke-width="0.8" />
<line x1="36.8" y1="492.4" x2="38.3" y2="492.4" stroke="#a8a8a8" stroke-width="0.8" />
<line x1="133.4" y1="589" x2="133.4" y2="587.5" stroke="#a8a8a8" stroke-width="0.8" />
<line x1="36.8" y1="487.5" x2="38.3" y2="487.5" stroke="#a8a8a8" stroke-width="0.8" />
<line x1="138.3" y1="589" x2="138.3" y2="587.5" stroke="#a8a8a8" stroke-width="0.8" />
<line x1="36.8" y1="483.7" x2="38.3" y2="483.7" stroke="#a8a8a8" stroke-width="0.8" />
<line x1="142.1" y1="589" x2="142.1" y2="587.5" stroke="#a8a8a8" stroke-width="0.8" />
<line x1="36.8" y1="480.7" x2="38.3" y2="480.7" stroke="#a8a8a8" stroke-width="0.8" />
<line x1="145.1" y1="589" x2="145.1" y2="587.5" stroke="#a8a8a8" stroke-width="0.8" />
<line x1="36.8" y1="478" x2="38.3" y2="478" stroke="#a8a8a8" stroke-width="0.8" />
<line x1="147.8" y1="589" x2="147.8" y2="587.5" stroke="#a8a8a8" stroke-width="0.8" />
<line x1="36.8" y1="475.8" x2="38.3" y2="475.8" stroke="#a8a8a8" stroke-width="0.8" />
<line x1="150" y1="589" x2="150" y2="587.5" stroke="#a8a8a8" stroke-width="0.8" />
<line x1="36.8" y1="473.8" x2="38.3" y2="473.8" stroke="#a8a8a8" stroke-width="0.8" />
<line x1="152" y1="589" x2="152" y2="587.5" stroke="#a8a8a8" stroke-width="0.8" />
<line x1="36.8" y1="472" x2="39.3" y2="472" stroke="#a8a8a8" stroke-width="0.8" />
<line x1="153.8" y1="589" x2="153.8" y2="586.5" stroke="#a8a8a8" stroke-width="0.8" />
<line x1="36.8" y1="460.3" x2="38.3" y2="460.3" stroke="#a8a8a8" stroke-width="0.8" />
<line x1="165.5" y1="589" x2="165.5" y2="587.5" stroke="#a8a8a8" stroke-width="0.8" />
<line x1="36.8" y1="453.4" x2="38.3" y2="453.4" stroke="#a8a8a8" stroke-width="0.8" />
<line x1="172.4" y1="589" x2="172.4" y2="587.5" stroke="#a8a8a8" stroke-width="0.8" />
<line x1="36.8" y1="448.5" x2="38.3" y2="448.5" stroke="#a8a8a8" stroke-width="0.8" />
<line x1="177.3" y1="589" x2="177.3" y2="587.5" stroke="#a8a8a8" stroke-width="0.8" />
<line x1="36.8" y1="444.7" x2="38.3" y2="444.7" stroke="#a8a8a8" stroke-width="0.8" />
<line x1="181.1" y1="589" x2="181.1" y2="587.5" stroke="#a8a8a8" stroke-width="0.8" />
<line x1="36.8" y1="441.7" x2="38.3" y2="441.7" stroke="#a8a8a8" stroke-width="0.8" />
<line x1="184.1" y1="589" x2="184.1" y2="587.5" stroke="#a8a8a8" stroke-width="0.8" />
<line x1="36.8" y1="439" x2="38.3" y2="439" stroke="#a8a8a8" stroke-width="0.8" />
<line x1="186.8" y1="589" x2="186.8" y2="587.5" stroke="#a8a8a8" stroke-width="0.8" />
<line x1="36.8" y1="436.8" x2="38.3" y2="436.8" stroke="#a8a8a8" stroke-width="0.8" />
<line x1="189" y1="589" x2="189" y2="587.5" stroke="#a8a8a8" stroke-width="0.8" />
<line x1="36.8" y1="434.8" x2="38.3" y2="434.8" stroke="#a8a8a8" stroke-width="0.8" />
<line x1="191" y1="589" x2="191" y2="587.5" stroke="#a8a8a8" stroke-width="0.8" />
<line x1="36.8" y1="433" x2="39.3" y2="433" stroke="#a8a8a8" stroke-width="0.8" />
<line x1="192.8" y1="589" x2="192.8" y2="586.5" stroke="#a8a8a8" stroke-width="0.8" />
<line x1="36.8" y1="589" x2="192.8" y2="433" stroke="#5a5a5a" stroke-width="1" />
<circle cx="123.3" cy="482.4" r="1.4" fill="#9a9a9a"/>
<circle cx="123.3" cy="486.4" r="1.4" fill="#9a9a9a"/>
<circle cx="81.5" cy="508.1" r="1.4" fill="#9a9a9a"/>
<circle cx="103" cy="508.1" r="1.4" fill="#9a9a9a"/>
<circle cx="75.2" cy="513.8" r="1.4" fill="#9a9a9a"/>
<circle cx="117.4" cy="513.8" r="1.4" fill="#9a9a9a"/>
<circle cx="59.1" cy="521.4" r="1.4" fill="#9a9a9a"/>
<circle cx="114.3" cy="519.8" r="1.4" fill="#9a9a9a"/>
<circle cx="86.5" cy="524.6" r="1.4" fill="#9a9a9a"/>
<circle cx="77.6" cy="528.2" r="1.4" fill="#9a9a9a"/>
<circle cx="69.8" cy="537.2" r="1.4" fill="#9a9a9a"/>
<circle cx="75.8" cy="536.8" r="1.4" fill="#9a9a9a"/>
<circle cx="79.3" cy="537.2" r="1.4" fill="#9a9a9a"/>
<circle cx="79.3" cy="539.9" r="1.4" fill="#9a9a9a"/>
<circle cx="61.4" cy="540.2" r="1.4" fill="#9a9a9a"/>
<circle cx="94.6" cy="531.8" r="1.4" fill="#9a9a9a"/>
<circle cx="93.2" cy="548.5" r="1.4" fill="#9a9a9a"/>
<circle cx="79.7" cy="553.3" r="1.4" fill="#9a9a9a"/>
<circle cx="45.3" cy="567.7" r="1.4" fill="#9a9a9a"/>
<circle cx="58.7" cy="565.9" r="1.4" fill="#9a9a9a"/>
<circle cx="72" cy="531" r="1.4" fill="#9a9a9a"/>
<circle cx="84" cy="527" r="1.4" fill="#9a9a9a"/>
<circle cx="56.9" cy="556.9" r="1.4" fill="#9a9a9a"/>
<circle cx="127.8" cy="472.2" r="1.45" fill="#23a05a"/>
<circle cx="112.5" cy="477.9" r="1.45" fill="#23a05a"/>
<circle cx="104.1" cy="480.3" r="1.45" fill="#23a05a"/>
<circle cx="101.4" cy="483.3" r="1.45" fill="#23a05a"/>
<circle cx="111.6" cy="485.1" r="1.45" fill="#23a05a"/>
<circle cx="108.4" cy="486.6" r="1.45" fill="#23a05a"/>
<circle cx="104.5" cy="488.4" r="1.45" fill="#23a05a"/>
<circle cx="101.4" cy="489.6" r="1.45" fill="#23a05a"/>
<circle cx="109.3" cy="492.3" r="1.45" fill="#23a05a"/>
<circle cx="87.4" cy="490.5" r="1.45" fill="#23a05a"/>
<circle cx="102.7" cy="494.1" r="1.45" fill="#23a05a"/>
<circle cx="103.9" cy="495.9" r="1.45" fill="#23a05a"/>
<circle cx="92.1" cy="499.5" r="1.45" fill="#23a05a"/>
<circle cx="88.9" cy="503.1" r="1.45" fill="#23a05a"/>
<circle cx="91" cy="511.7" r="1.45" fill="#23a05a"/>
<circle cx="82" cy="514.4" r="1.45" fill="#23a05a"/>
<circle cx="84.7" cy="515.6" r="1.45" fill="#23a05a"/>
<circle cx="85.6" cy="521.9" r="1.45" fill="#23a05a"/>
<circle cx="99.4" cy="512" r="1.45" fill="#23a05a"/>
<circle cx="89.8" cy="531.2" r="1.45" fill="#23a05a"/>
<circle cx="82" cy="546.1" r="1.45" fill="#23a05a"/>
<circle cx="53.3" cy="569.1" r="1.45" fill="#23a05a"/>
<circle cx="106" cy="486" r="1.45" fill="#23a05a"/>
<circle cx="97" cy="491" r="1.45" fill="#23a05a"/>
<line x1="44.9" y1="560.6" x2="123.4" y2="498.4" stroke="#999" stroke-width="1.3" />
<line x1="53.9" y1="563.4" x2="128" y2="459.8" stroke="#1a9a50" stroke-width="1.4" />
<line x1="92" y1="514.7" x2="104" y2="514.7" stroke="#888" stroke-width="1.1" />
<line x1="97.8" y1="508" x2="97.8" y2="521" stroke="#888" stroke-width="1.1" />
<line x1="97.5" y1="493.6" x2="106" y2="493.6" stroke="#1a9a50" stroke-width="1.1" />
<line x1="101.8" y1="489" x2="101.8" y2="498" stroke="#1a9a50" stroke-width="1.1" />
<text x="35" y="590.2" font-size="10" fill="#777" text-anchor="end">10<tspan font-size="6" dy="-4">0</tspan></text>
<text x="38.8" y="600.4" font-size="10" fill="#777" text-anchor="middle">10<tspan font-size="6" dy="-4">0</tspan></text>
<text x="35" y="553.6" font-size="10" fill="#777" text-anchor="end">10<tspan font-size="6" dy="-4">1</tspan></text>
<text x="77.8" y="600.4" font-size="10" fill="#777" text-anchor="middle">10<tspan font-size="6" dy="-4">1</tspan></text>
<text x="35" y="514.6" font-size="10" fill="#777" text-anchor="end">10<tspan font-size="6" dy="-4">2</tspan></text>
<text x="116.8" y="600.4" font-size="10" fill="#777" text-anchor="middle">10<tspan font-size="6" dy="-4">2</tspan></text>
<text x="35" y="475.6" font-size="10" fill="#777" text-anchor="end">10<tspan font-size="6" dy="-4">3</tspan></text>
<text x="155.8" y="600.4" font-size="10" fill="#777" text-anchor="middle">10<tspan font-size="6" dy="-4">3</tspan></text>
<text x="35" y="436.6" font-size="10" fill="#777" text-anchor="end">10<tspan font-size="6" dy="-4">4</tspan></text>
<text x="194.8" y="600.4" font-size="10" fill="#777" text-anchor="middle">10<tspan font-size="6" dy="-4">4</tspan></text>
<text x="44.5" y="441.2" font-size="10" fill="#1a9a50" text-anchor="start" font-weight="normal" >Trained</text>
<text x="44.5" y="453.2" font-size="10" fill="#999" text-anchor="start" font-weight="normal" >Untrained</text>
<text x="116.5" y="610.9" font-size="10" fill="#222" text-anchor="middle" font-weight="normal" >Peak Excitatory Current (pA)</text>
<text x="0" y="0" transform="translate(11.4,497.4) rotate(-90)" font-size="10" fill="#222" text-anchor="middle" font-weight="normal" >Peak Inhibitory Current (pA)</text>
<text x="204" y="424.3" font-size="15.2" font-weight="bold" fill="#1a1a1a">H</text>
<line x1="243.7" y1="427" x2="243.7" y2="592.7" stroke="#9a9a9a" stroke-width="1" />
<line x1="243.7" y1="592.7" x2="360.8" y2="592.7" stroke="#9a9a9a" stroke-width="1" />
<text x="240.8" y="455.7" font-size="10" fill="#777" text-anchor="end" font-weight="normal" >600</text>
<text x="240.8" y="501.4" font-size="10" fill="#777" text-anchor="end" font-weight="normal" >400</text>
<text x="240.8" y="547.1" font-size="10" fill="#777" text-anchor="end" font-weight="normal" >200</text>
<text x="240.8" y="592.8" font-size="10" fill="#777" text-anchor="end" font-weight="normal" >0</text>
<text x="0" y="0" transform="translate(217.5,508) rotate(-90)" font-size="10" fill="#222" text-anchor="middle" font-weight="normal" >Peak Current (pA)</text>
<line x1="260.3" y1="578.2" x2="260.3" y2="580.3" stroke="#222" stroke-width="1.3" />
<line x1="260.3" y1="588.5" x2="260.3" y2="589.5" stroke="#222" stroke-width="1.3" />
<rect x="250.4" y="580.3" width="19.9" height="8.2" fill="#b3b7bb"/>
<line x1="250.4" y1="587.2" x2="270.3" y2="587.2" stroke="#878b8f" stroke-width="1.4" />
<line x1="258.7" y1="550.7" x2="261.9" y2="550.7" stroke="#444" stroke-width="0.8" />
<line x1="260.3" y1="548.7" x2="260.3" y2="552.7" stroke="#444" stroke-width="0.8" />
<line x1="258.7" y1="562.9" x2="261.9" y2="562.9" stroke="#444" stroke-width="0.8" />
<line x1="260.3" y1="560.9" x2="260.3" y2="564.9" stroke="#444" stroke-width="0.8" />
<line x1="258.7" y1="568" x2="261.9" y2="568" stroke="#444" stroke-width="0.8" />
<line x1="260.3" y1="566" x2="260.3" y2="570" stroke="#444" stroke-width="0.8" />
<line x1="289.4" y1="563.3" x2="289.4" y2="571.5" stroke="#222" stroke-width="1.3" />
<line x1="289.4" y1="585.8" x2="289.4" y2="589.5" stroke="#222" stroke-width="1.3" />
<rect x="279" y="571.5" width="20.5" height="14.3" fill="#b3b7bb"/>
<line x1="279" y1="582.3" x2="299.5" y2="582.3" stroke="#878b8f" stroke-width="1.4" />
<line x1="287.8" y1="472.5" x2="291" y2="472.5" stroke="#444" stroke-width="0.8" />
<line x1="289.4" y1="470.5" x2="289.4" y2="474.5" stroke="#444" stroke-width="0.8" />
<line x1="287.8" y1="495.3" x2="291" y2="495.3" stroke="#444" stroke-width="0.8" />
<line x1="289.4" y1="493.3" x2="289.4" y2="497.3" stroke="#444" stroke-width="0.8" />
<line x1="318.7" y1="569" x2="318.7" y2="575.6" stroke="#222" stroke-width="1.3" />
<line x1="318.7" y1="585.8" x2="318.7" y2="589.5" stroke="#222" stroke-width="1.3" />
<rect x="308.7" y="575.6" width="20" height="10.2" fill="#8fc49f"/>
<line x1="308.7" y1="579.7" x2="328.7" y2="579.7" stroke="#1a9048" stroke-width="1.4" />
<line x1="317.1" y1="538.8" x2="320.3" y2="538.8" stroke="#444" stroke-width="0.8" />
<line x1="318.7" y1="536.8" x2="318.7" y2="540.8" stroke="#444" stroke-width="0.8" />
<line x1="348" y1="434.7" x2="348" y2="507" stroke="#222" stroke-width="1.3" />
<line x1="348" y1="573.5" x2="348" y2="589.5" stroke="#222" stroke-width="1.3" />
<rect x="337.9" y="507" width="19.8" height="66.5" fill="#8fc49f"/>
<line x1="337.9" y1="529.2" x2="357.7" y2="529.2" stroke="#1a9048" stroke-width="1.4" />
<line x1="260" y1="455.4" x2="289.7" y2="455.4" stroke="#222" stroke-width="1.3" />
<text x="275" y="458.3" font-size="12" fill="#222" text-anchor="middle" font-weight="normal" >*</text>
<line x1="286.2" y1="427.8" x2="348.4" y2="427.8" stroke="#222" stroke-width="1.3" />
<text x="318" y="430.8" font-size="12" fill="#222" text-anchor="middle" font-weight="normal" >**</text>
<text x="260.3" y="601.9" font-size="10" fill="#333" text-anchor="middle" font-weight="normal" >E</text>
<text x="289.4" y="601.9" font-size="10" fill="#333" text-anchor="middle" font-weight="normal" >I</text>
<text x="318.7" y="601.9" font-size="10" fill="#333" text-anchor="middle" font-weight="normal" >E</text>
<text x="348" y="601.9" font-size="10" fill="#333" text-anchor="middle" font-weight="normal" >I</text>
<text x="277.3" y="611.9" font-size="10" fill="#222" text-anchor="middle" font-weight="normal" >untrained</text>
<text x="333.7" y="611.9" font-size="10" fill="#222" text-anchor="middle" font-weight="normal" >trained</text>
<text x="365.8" y="424.3" font-size="15.2" font-weight="bold" fill="#1a1a1a">I</text>
<line x1="393.1" y1="426.3" x2="393.1" y2="593.9" stroke="#c8c8c8" stroke-width="1" />
<line x1="393.1" y1="593.9" x2="452.1" y2="593.9" stroke="#c8c8c8" stroke-width="1" />
<text x="391" y="438.1" font-size="10" fill="#555" text-anchor="end" font-weight="normal" >16</text>
<text x="391" y="477.1" font-size="10" fill="#555" text-anchor="end" font-weight="normal" >12</text>
<text x="391" y="515.5" font-size="10" fill="#555" text-anchor="end" font-weight="normal" >8</text>
<text x="391" y="555.1" font-size="10" fill="#555" text-anchor="end" font-weight="normal" >4</text>
<text x="391" y="594.1" font-size="10" fill="#555" text-anchor="end" font-weight="normal" >0</text>
<text x="0" y="0" transform="translate(378.2,513) rotate(-90)" font-size="10" fill="#222" text-anchor="middle" font-weight="normal" >I/E ratio</text>
<line x1="410.2" y1="552.9" x2="410.2" y2="562.6" stroke="#222" stroke-width="1.3" />
<line x1="410.2" y1="581.4" x2="410.2" y2="587.6" stroke="#222" stroke-width="1.3" />
<rect x="400.7" y="562.6" width="19.1" height="18.8" fill="#b3b7bb"/>
<line x1="400.7" y1="571.3" x2="419.8" y2="571.3" stroke="#878b8f" stroke-width="1.4" />
<line x1="408.6" y1="511.2" x2="411.8" y2="511.2" stroke="#444" stroke-width="0.8" />
<line x1="410.2" y1="509.2" x2="410.2" y2="513.2" stroke="#444" stroke-width="0.8" />
<line x1="408.6" y1="513.3" x2="411.8" y2="513.3" stroke="#444" stroke-width="0.8" />
<line x1="410.2" y1="511.3" x2="410.2" y2="515.3" stroke="#444" stroke-width="0.8" />
<line x1="408.6" y1="458.6" x2="411.8" y2="458.6" stroke="#444" stroke-width="0.8" />
<line x1="410.2" y1="456.6" x2="410.2" y2="460.6" stroke="#444" stroke-width="0.8" />
<line x1="438.5" y1="488.3" x2="438.5" y2="522.7" stroke="#222" stroke-width="1.3" />
<line x1="438.5" y1="556" x2="438.5" y2="583.1" stroke="#222" stroke-width="1.3" />
<rect x="428.4" y="522.7" width="20.2" height="33.3" fill="#8fc49f"/>
<line x1="428.4" y1="540.7" x2="448.6" y2="540.7" stroke="#1a9048" stroke-width="1.4" />
<line x1="436.9" y1="439" x2="440.1" y2="439" stroke="#444" stroke-width="0.8" />
<line x1="438.5" y1="437" x2="438.5" y2="441" stroke="#444" stroke-width="0.8" />
<line x1="408.4" y1="430.7" x2="438.8" y2="430.7" stroke="#444" stroke-width="1.3" />
<text x="424" y="434.3" font-size="12" fill="#222" text-anchor="middle" font-weight="normal" >*</text>
<text x="369.7" y="604.4" font-size="10" fill="#222" text-anchor="start" font-weight="normal" >training:-</text>
<text x="438.2" y="604.4" font-size="10" fill="#222" text-anchor="middle" font-weight="normal" >+</text>
<text x="456" y="424.3" font-size="15.2" font-weight="bold" fill="#1a1a1a">J</text>
<path d="M490,570.5L490.5,570.2L491,570.2L491.5,570.2L492,570L492.5,569.7L493,569.6L493.5,569.5L494,569.6L494.5,569.5L495,570.1L495.5,570.6L496,571L496.5,571L497,570.9L497.5,570.9L498,571.1L498.5,571.3L499,571.3L499.5,571.2L500,571.1L500.5,571.2L501,571.3L501.5,571.6L502,571.6L502.5,571.6L503,571.8L503.5,572L504,572.2L504.5,572.4L505,572.7L505.5,573.1L506,573.3L506.5,573.8L507,574.2L507.5,574.3L508,574.5L508.5,574.8L509,575.1L509.5,575.4L510,575.7L510.5,576.1L511,576.6L511.5,576.7L512,576.8L512.5,576.9L513,577L513.5,577.2L514,577.1L514.5,576.8L515,576.7L515.5,576.9L516,577L516.5,577.2L517,577L517.5,577.1L518,577L518.5,577.3L519,577.3L519.5,577.1L520,577L520.5,577L521,577.3L521.5,577.4L522,577.7L522.5,577.9L523,578.1L523.5,578.1L524,577.8L524.5,577.7L525,577.6L525.5,577.7L526,577.9L526.5,578.1L527,578L527.5,577.7L528,577.5L528.5,577.4L529,577.3L529.5,577.1L530,577.2L530.5,577.2L531,577L531.5,577L532,576.6L532.5,576.5L533,576.2L533.5,576.1L534,576.1L534.5,575.9L535,575.8L535.5,575.5L536,575.5L536.5,575.3L537,575.2L537.5,575L538,574.8L538.5,574.6L539,574.2L539.5,573.9L540,573.8L540.5,573.6L541,573.6L541.5,573.5L542,573.8L542.5,573.6L543,573.6L543.5,573.4L544,573.4L544.5,573.2L545,572.9L545.5,572.8L546,572.8L546.5,572.8L547,572.7L547.5,572.8L548,572.8L548.5,572.5L549,572.3L549.5,572L550,572.1L550.5,571.7L551,571.5L551.5,571.5L552,571.8L552.5,571.9L553,571.9L553.5,571.8L554,571.8L554.5,571.7L555,571.8L555.5,571.6L556,571.4L556.5,571.1L557,571.2L557.5,571.2L558,571.2L558.5,570.8L559,570.9L559.5,570.8L560,571L560.5,570.9L561,571.1L561.5,571L562,570.8L562.5,570.7L563,570.7L563.5,570.8L564,570.7L564.5,570.9L565,570.9L565.5,570.8L566,570.6L566.5,570.6L567,570.7L567.5,570.7L568,570.7L568.5,570.5L569,570.5L569.5,570.6L570,570.7L570.5,570.6L571,570.5L571.5,570.4L572,570.4L572.5,570.2L573,570.1L573.5,570.2L574,570.3L574.5,570.2L575,570.1L575.5,570.1L576,570.1L576.5,570L577,570.1L577.5,570.4L578,570.3L578.5,570.1L579,570L579.5,570L580,570.1L580.5,569.9L581,569.7L581.5,569.5L582,569.5L582.5,569.5L583,569.7L583.5,569.8L584,570L584.5,569.9L585,570L585.5,570L586,570L586.5,569.9L587,569.7L587.5,569.3L588,569.4L588.5,569.5L589,569.9L589.5,569.9L590,569.8L590.5,569.6L591,569.5L591.5,569.5L592,569.3L592.5,569.3L593,569.4L593.5,569.3L594,569.3L594.5,569.1L595,569.3L595.5,569.4L596,569.6L596.5,569.6L597,569.7L597.5,569.5L598,569.5L598.5,569.4L599,569.4L599.5,569.5L600,569.6L600.5,569.4L601,569.2L601.5,569.4L602,569.4L602.5,569.5L603,569.2L603.5,569.3L604,569.3L604.5,569.4L605,569.3L605.5,569.5L606,569.7L606.5,569.5L607,569.3L607.5,569L608,569.2L608.5,569.4L609,569.7L609.5,569.9L610,569.7L610.5,569.5L611,569.5L611.5,569.4L612,569.4L612.5,569.3L613,569.2L613.5,569.3L614,569.2L614.5,569.3L615,569.4L615.5,569.4L616,569.5L616.5,569.5L617,569.4L617.5,569.4L618,569.3L618.5,569.5L619,569.5L619.5,569.5L620,569.2L620.5,569.1L621,569.2L621.5,569.3L622,569.4L622.5,569.4L623,569.7L623.5,569.6L624,569.7L624.5,569.3L625,569.3L625.5,569L626,569.4L626.5,569.2L627,569.4L627.5,569L628,569.3L628.5,569.3L629,569.5L629.5,569.5L630,569.6L630.5,569.5L631,569.5L631.5,569.5L632,569.6L632.5,569.5L633,569.5L633.5,569.4L634,569.3L634.5,569.4L635,569.4L635.5,569.3L636,569.1L636.5,569.2L637,569.2L637.5,569.3L638,569.4L638.5,569.3L639,569.3L639.5,569.2L640,569.2L640.5,569L641,568.9L641.5,568.9L642,569.2L642.5,569.2L643,569.1L643.5,569.1L644,568.9L644.5,569L645,569.1L645.5,569.3L646,569.3L646.5,569.4L647,569.3L647.5,569.3L648,569.1L648.5,569L649,569.2L649.5,569L650,569L650.5,568.8L651,568.8L651.5,568.9L652,569.2L652.5,569.3L653,569.4L653.5,569.2L654,569.3L654.5,569.1L655,569L655.5,569L656,569.2L656.5,569.1L657,569L657.5,568.9L658,569.1L658.5,569.1L659,569L659.5,569.1L660,569.1L660.5,569.1L661,568.9L661.5,569L662,569L662.5,569L663,568.8L663.5,568.9L664,569.1L664.5,569.2L665,569.3L665.5,569.2L666,569.3L666.5,569.4L667,569.3L667.5,569.2L668,568.9L668.5,569.1L669,568.9L669.5,569L670,569L670.5,569.2L671,569.2L671.5,569L672,568.8L672.5,568.6L673,568.7L673.5,568.8L674,569.1L674.5,569L675,569.2L675.5,569L676,569L676.5,568.8L677,568.8L677.5,569L678,569L678.5,569L679,569.1L679.5,569.2L680,569L680.5,568.7L681,568.6L681.5,568.6L682,568.8L682.5,568.7L683,568.8L683.5,568.7L684,568.7L684.5,568.8L685,568.9L685,571.9L684.5,571.8L684,571.7L683.5,571.7L683,571.8L682.5,571.7L682,571.8L681.5,571.6L681,571.7L680.5,571.7L680,572L679.5,572.2L679,572.1L678.5,572.1L678,572L677.5,572.1L677,571.9L676.5,571.9L676,572L675.5,572.1L675,572.2L674.5,572L674,572.2L673.5,571.9L673,571.8L672.5,571.7L672,572L671.5,572.1L671,572.4L670.5,572.3L670,572.2L669.5,572.2L669,572.1L668.5,572.3L668,572L667.5,572.3L667,572.4L666.5,572.6L666,572.4L665.5,572.3L665,572.4L664.5,572.4L664,572.3L663.5,572.1L663,572L662.5,572.2L662,572.2L661.5,572.2L661,572.1L660.5,572.3L660,572.3L659.5,572.3L659,572.2L658.5,572.3L658,572.3L657.5,572.2L657,572.2L656.5,572.4L656,572.4L655.5,572.3L655,572.2L654.5,572.3L654,572.6L653.5,572.5L653,572.7L652.5,572.6L652,572.5L651.5,572.2L651,572.1L650.5,572.1L650,572.3L649.5,572.4L649,572.5L648.5,572.4L648,572.5L647.5,572.6L647,572.6L646.5,572.7L646,572.6L645.5,572.7L645,572.4L644.5,572.3L644,572.3L643.5,572.4L643,572.4L642.5,572.5L642,572.6L641.5,572.3L641,572.3L640.5,572.4L640,572.6L639.5,572.6L639,572.7L638.5,572.7L638,572.8L637.5,572.7L637,572.6L636.5,572.6L636,572.5L635.5,572.8L635,572.8L634.5,572.9L634,572.8L633.5,572.8L633,573L632.5,573L632,573L631.5,572.9L631,572.9L630.5,573L630,573.1L629.5,573L629,573L628.5,572.8L628,572.8L627.5,572.5L627,572.9L626.5,572.7L626,572.9L625.5,572.6L625,572.8L624.5,572.8L624,573.2L623.5,573.1L623,573.2L622.5,572.9L622,573L621.5,572.8L621,572.7L620.5,572.7L620,572.7L619.5,573.1L619,573L618.5,573.1L618,572.8L617.5,573L617,573L616.5,573.1L616,573.1L615.5,573L615,573L614.5,572.9L614,572.8L613.5,572.9L613,572.8L612.5,572.9L612,573L611.5,573.1L611,573.2L610.5,573.2L610,573.4L609.5,573.5L609,573.4L608.5,573.1L608,572.9L607.5,572.6L607,573L606.5,573.2L606,573.4L605.5,573.2L605,573L604.5,573.1L604,573L603.5,573.1L603,572.9L602.5,573.2L602,573.1L601.5,573.1L601,573L600.5,573.1L600,573.3L599.5,573.2L599,573.2L598.5,573.1L598,573.3L597.5,573.3L597,573.5L596.5,573.4L596,573.4L595.5,573.2L595,573.1L594.5,572.9L594,573.1L593.5,573.1L593,573.2L592.5,573.1L592,573.2L591.5,573.3L591,573.3L590.5,573.4L590,573.6L589.5,573.7L589,573.8L588.5,573.3L588,573.2L587.5,573.2L587,573.6L586.5,573.7L586,573.9L585.5,573.9L585,573.9L584.5,573.8L584,573.9L583.5,573.7L583,573.6L582.5,573.4L582,573.4L581.5,573.4L581,573.6L580.5,573.8L580,574L579.5,573.9L579,573.9L578.5,574L578,574.3L577.5,574.3L577,574.1L576.5,574L576,574L575.5,574.1L575,574.1L574.5,574.2L574,574.3L573.5,574.2L573,574.1L572.5,574.2L572,574.4L571.5,574.4L571,574.5L570.5,574.6L570,574.7L569.5,574.6L569,574.6L568.5,574.7L568,574.9L567.5,575L567,575L566.5,575L566,575L565.5,575.3L565,575.4L564.5,575.4L564,575.3L563.5,575.5L563,575.4L562.5,575.4L562,575.6L561.5,575.9L561,576L560.5,575.8L560,576L559.5,575.8L559,576L558.5,575.9L558,576.4L557.5,576.4L557,576.5L556.5,576.5L556,576.8L555.5,577L555,577.3L554.5,577.2L554,577.4L553.5,577.4L553,577.6L552.5,577.7L552,577.6L551.5,577.3L551,577.4L550.5,577.7L550,578.1L549.5,578.1L549,578.4L548.5,578.7L548,579L547.5,579L547,579L546.5,579.2L546,579.2L545.5,579.2L545,579.4L544.5,579.7L544,580L543.5,580L543,580.3L542.5,580.3L542,580.6L541.5,580.3L541,580.5L540.5,580.5L540,580.8L539.5,581L539,581.3L538.5,581.7L538,581.9L537.5,582.2L537,582.3L536.5,582.5L536,582.7L535.5,582.7L535,583L534.5,583.1L534,583.4L533.5,583.5L533,583.6L532.5,583.8L532,584L531.5,584.4L531,584.4L530.5,584.6L530,584.7L529.5,584.7L529,584.8L528.5,584.9L528,585.1L527.5,585.3L527,585.6L526.5,585.7L526,585.6L525.5,585.4L525,585.3L524.5,585.4L524,585.6L523.5,585.9L523,586L522.5,585.8L522,585.6L521.5,585.3L521,585.2L520.5,585L520,585L519.5,585L519,585.1L518.5,585.1L518,584.8L517.5,584.8L517,584.6L516.5,584.7L516,584.5L515.5,584.3L515,584.1L514.5,584.1L514,584.3L513.5,584.4L513,584.1L512.5,583.9L512,583.8L511.5,583.7L511,583.4L510.5,583L510,582.5L509.5,582L509,581.7L508.5,581.4L508,581L507.5,580.8L507,580.6L506.5,580.1L506,579.6L505.5,579.3L505,578.9L504.5,578.5L504,578.2L503.5,577.9L503,577.7L502.5,577.4L502,577.4L501.5,577.3L501,576.9L500.5,576.7L500,576.6L499.5,576.6L499,576.6L498.5,576.6L498,576.4L497.5,576L497,576L496.5,576L496,576L495.5,575.3L495,574.4L494.5,573.5L494,573.2L493.5,572.9L493,572.6L492.5,572.4L492,572.4L491.5,572.2L491,571.8L490.5,571.6L490,571.5Z" fill="#d3d3d3" stroke="none" />
<path d="M490,571L490.5,570.9L491,571L491.5,571.2L492,571.2L492.5,571.1L493,571.1L493.5,571.2L494,571.4L494.5,571.5L495,572.3L495.5,573L496,573.5L496.5,573.5L497,573.4L497.5,573.5L498,573.8L498.5,573.9L499,574L499.5,573.9L500,573.8L500.5,573.9L501,574.1L501.5,574.5L502,574.5L502.5,574.5L503,574.8L503.5,575L504,575.2L504.5,575.5L505,575.8L505.5,576.2L506,576.4L506.5,577L507,577.4L507.5,577.5L508,577.7L508.5,578.1L509,578.4L509.5,578.7L510,579.1L510.5,579.6L511,580L511.5,580.2L512,580.3L512.5,580.4L513,580.5L513.5,580.8L514,580.7L514.5,580.5L515,580.4L515.5,580.6L516,580.8L516.5,581L517,580.8L517.5,581L518,580.9L518.5,581.2L519,581.2L519.5,581L520,581L520.5,581L521,581.3L521.5,581.3L522,581.6L522.5,581.8L523,582.1L523.5,582L524,581.7L524.5,581.6L525,581.4L525.5,581.5L526,581.8L526.5,581.9L527,581.8L527.5,581.5L528,581.3L528.5,581.2L529,581L529.5,580.9L530,580.9L530.5,580.9L531,580.7L531.5,580.7L532,580.3L532.5,580.2L533,579.9L533.5,579.8L534,579.8L534.5,579.5L535,579.4L535.5,579.1L536,579.1L536.5,578.9L537,578.8L537.5,578.6L538,578.3L538.5,578.1L539,577.7L539.5,577.5L540,577.3L540.5,577.1L541,577.1L541.5,576.9L542,577.2L542.5,576.9L543,577L543.5,576.7L544,576.7L544.5,576.4L545,576.2L545.5,576L546,576L546.5,576L547,575.8L547.5,575.9L548,575.9L548.5,575.6L549,575.3L549.5,575L550,575.1L550.5,574.7L551,574.4L551.5,574.4L552,574.7L552.5,574.8L553,574.8L553.5,574.6L554,574.6L554.5,574.5L555,574.5L555.5,574.3L556,574.1L556.5,573.8L557,573.9L557.5,573.8L558,573.8L558.5,573.4L559,573.4L559.5,573.3L560,573.5L560.5,573.4L561,573.6L561.5,573.5L562,573.2L562.5,573.1L563,573.1L563.5,573.2L564,573L564.5,573.1L565,573.2L565.5,573L566,572.8L566.5,572.8L567,572.9L567.5,572.8L568,572.8L568.5,572.6L569,572.6L569.5,572.6L570,572.7L570.5,572.6L571,572.5L571.5,572.4L572,572.4L572.5,572.2L573,572.1L573.5,572.2L574,572.3L574.5,572.2L575,572.1L575.5,572.1L576,572.1L576.5,572L577,572.1L577.5,572.3L578,572.3L578.5,572.1L579,572L579.5,572L580,572L580.5,571.9L581,571.7L581.5,571.5L582,571.4L582.5,571.4L583,571.6L583.5,571.7L584,572L584.5,571.9L585,572L585.5,571.9L586,571.9L586.5,571.8L587,571.6L587.5,571.3L588,571.3L588.5,571.4L589,571.9L589.5,571.8L590,571.7L590.5,571.5L591,571.4L591.5,571.4L592,571.3L592.5,571.2L593,571.3L593.5,571.2L594,571.2L594.5,571L595,571.2L595.5,571.3L596,571.5L596.5,571.5L597,571.6L597.5,571.4L598,571.4L598.5,571.3L599,571.3L599.5,571.3L600,571.5L600.5,571.3L601,571.1L601.5,571.2L602,571.2L602.5,571.3L603,571L603.5,571.2L604,571.1L604.5,571.2L605,571.2L605.5,571.3L606,571.5L606.5,571.4L607,571.2L607.5,570.8L608,571.1L608.5,571.3L609,571.6L609.5,571.7L610,571.6L610.5,571.4L611,571.3L611.5,571.2L612,571.2L612.5,571.1L613,571L613.5,571.1L614,571L614.5,571.1L615,571.2L615.5,571.2L616,571.3L616.5,571.3L617,571.2L617.5,571.2L618,571L618.5,571.3L619,571.2L619.5,571.3L620,571L620.5,570.9L621,570.9L621.5,571.1L622,571.2L622.5,571.2L623,571.4L623.5,571.3L624,571.4L624.5,571.1L625,571.1L625.5,570.8L626,571.1L626.5,571L627,571.1L627.5,570.8L628,571.1L628.5,571L629,571.2L629.5,571.3L630,571.4L630.5,571.2L631,571.2L631.5,571.2L632,571.3L632.5,571.3L633,571.2L633.5,571.1L634,571L634.5,571.2L635,571.1L635.5,571.1L636,570.8L636.5,570.9L637,570.9L637.5,571L638,571.1L638.5,571L639,571L639.5,570.9L640,570.9L640.5,570.7L641,570.6L641.5,570.6L642,570.9L642.5,570.9L643,570.8L643.5,570.8L644,570.6L644.5,570.7L645,570.7L645.5,571L646,571L646.5,571.1L647,571L647.5,571L648,570.8L648.5,570.7L649,570.8L649.5,570.7L650,570.7L650.5,570.5L651,570.5L651.5,570.5L652,570.8L652.5,570.9L653,571.1L653.5,570.9L654,570.9L654.5,570.7L655,570.6L655.5,570.7L656,570.8L656.5,570.8L657,570.6L657.5,570.6L658,570.7L658.5,570.7L659,570.6L659.5,570.7L660,570.7L660.5,570.7L661,570.5L661.5,570.6L662,570.6L662.5,570.6L663,570.4L663.5,570.5L664,570.7L664.5,570.8L665,570.8L665.5,570.8L666,570.8L666.5,571L667,570.9L667.5,570.7L668,570.5L668.5,570.7L669,570.5L669.5,570.6L670,570.6L670.5,570.7L671,570.8L671.5,570.6L672,570.4L672.5,570.2L673,570.3L673.5,570.3L674,570.6L674.5,570.5L675,570.7L675.5,570.6L676,570.5L676.5,570.4L677,570.4L677.5,570.5L678,570.5L678.5,570.6L679,570.6L679.5,570.7L680,570.5L680.5,570.2L681,570.1L681.5,570.1L682,570.3L682.5,570.2L683,570.3L683.5,570.2L684,570.2L684.5,570.3L685,570.4" fill="none" stroke="#8a8a8a" stroke-width="1.1" stroke-linejoin="round" />
<path d="M490,570.2L490.5,570.2L491,570.2L491.5,570.2L492,569.9L492.5,569.6L493,569.4L493.5,569.3L494,569.4L494.5,570L495,571.6L495.5,573.5L496,575.2L496.5,576.6L497,577.8L497.5,578.8L498,579.6L498.5,579.9L499,580.1L499.5,580.4L500,580.8L500.5,581.2L501,581.4L501.5,581.5L502,581.5L502.5,581.7L503,581.9L503.5,582L504,581.8L504.5,581.9L505,581.9L505.5,582.1L506,582.1L506.5,582.2L507,582.2L507.5,582.2L508,582.1L508.5,582.1L509,582.3L509.5,582.3L510,582.1L510.5,582.1L511,582L511.5,582.1L512,582L512.5,582.1L513,582L513.5,582L514,581.7L514.5,581.6L515,581.8L515.5,581.9L516,582L516.5,581.8L517,581.8L517.5,581.5L518,581.5L518.5,581.4L519,581.3L519.5,581.4L520,581.3L520.5,581.6L521,581.5L521.5,581.5L522,581.3L522.5,581.2L523,581.2L523.5,580.9L524,581L524.5,581.1L525,581L525.5,580.6L526,580.2L526.5,579.9L527,580L527.5,580L528,579.9L528.5,579.7L529,579.6L529.5,579.3L530,579.4L530.5,579.2L531,579.2L531.5,578.8L532,578.5L532.5,578.2L533,577.9L533.5,577.7L534,577.5L534.5,577.4L535,577.3L535.5,577.2L536,576.9L536.5,576.7L537,576.4L537.5,576.3L538,576.2L538.5,576.2L539,576L539.5,575.9L540,575.7L540.5,575.6L541,575.3L541.5,575.2L542,575.2L542.5,575.3L543,575.2L543.5,575.3L544,575.3L544.5,575L545,575L545.5,574.8L546,574.8L546.5,574.6L547,574.5L547.5,574.2L548,573.9L548.5,573.9L549,573.9L549.5,574.2L550,574L550.5,573.9L551,573.4L551.5,573.6L552,573.5L552.5,573.4L553,573.2L553.5,573.1L554,573.2L554.5,573.2L555,573.2L555.5,573.1L556,573L556.5,572.9L557,572.9L557.5,572.8L558,572.7L558.5,572.5L559,572.3L559.5,572.3L560,572.3L560.5,572.4L561,572.3L561.5,572.1L562,572.2L562.5,572.2L563,572.1L563.5,571.8L564,571.8L564.5,572.1L565,572.2L565.5,572L566,571.9L566.5,571.5L567,571.6L567.5,571.4L568,571.6L568.5,571.3L569,571.4L569.5,571.2L570,571.1L570.5,571.2L571,571.1L571.5,571.3L572,571.1L572.5,571.2L573,571L573.5,571.2L574,571.2L574.5,571.1L575,570.9L575.5,570.9L576,571.1L576.5,571.1L577,571.1L577.5,570.9L578,571L578.5,570.8L579,570.9L579.5,570.7L580,570.6L580.5,570.6L581,570.7L581.5,570.6L582,570.3L582.5,570.2L583,570.4L583.5,570.6L584,570.6L584.5,570.5L585,570.5L585.5,570.5L586,570.6L586.5,570.7L587,570.6L587.5,570.4L588,570.4L588.5,570.2L589,570.2L589.5,570.2L590,570.4L590.5,570.3L591,570.3L591.5,570.2L592,570.2L592.5,570.2L593,570.3L593.5,570.2L594,570.1L594.5,570.1L595,570.1L595.5,570.2L596,570.2L596.5,570.4L597,570.4L597.5,570.4L598,570.4L598.5,570.4L599,570.4L599.5,570.2L600,570.3L600.5,570.2L601,570.3L601.5,570.1L602,570L602.5,569.9L603,569.9L603.5,570.1L604,570.2L604.5,570.2L605,570.1L605.5,570.1L606,570L606.5,570.1L607,570L607.5,569.9L608,569.7L608.5,569.9L609,570L609.5,570.3L610,569.9L610.5,569.9L611,569.7L611.5,570.3L612,570.2L612.5,570L613,569.8L613.5,569.6L614,569.6L614.5,569.6L615,569.6L615.5,569.6L616,569.6L616.5,569.9L617,569.8L617.5,569.8L618,569.8L618.5,569.9L619,569.7L619.5,569.7L620,569.9L620.5,569.9L621,569.8L621.5,569.6L622,569.6L622.5,569.7L623,569.6L623.5,569.3L624,569.4L624.5,569.5L625,569.7L625.5,569.5L626,569.5L626.5,569.5L627,569.5L627.5,569.5L628,569.7L628.5,569.7L629,569.7L629.5,569.7L630,569.8L630.5,569.9L631,569.8L631.5,569.9L632,569.7L632.5,569.6L633,569.6L633.5,569.6L634,569.7L634.5,569.3L635,569.3L635.5,569.5L636,569.8L636.5,570L637,569.8L637.5,569.5L638,569.4L638.5,569.5L639,569.7L639.5,569.6L640,569.4L640.5,569.3L641,569.3L641.5,569.3L642,569.5L642.5,569.6L643,569.5L643.5,569.2L644,569.1L644.5,569.1L645,569.4L645.5,569.3L646,569.4L646.5,569.3L647,569.5L647.5,569.4L648,569.3L648.5,568.9L649,568.9L649.5,569L650,569.4L650.5,569.3L651,569.6L651.5,569.5L652,569.4L652.5,569L653,569.1L653.5,569.1L654,569.3L654.5,569.5L655,569.6L655.5,569.5L656,569.3L656.5,569.1L657,569.1L657.5,569.1L658,569.1L658.5,569.2L659,569.1L659.5,569.2L660,569.1L660.5,569L661,569L661.5,569.1L662,569.2L662.5,569.2L663,569.3L663.5,569.4L664,569.4L664.5,569.4L665,569.5L665.5,569.4L666,569.4L666.5,569.3L667,569.4L667.5,569.3L668,569.4L668.5,569.2L669,569.4L669.5,569.3L670,569.7L670.5,569.5L671,569.5L671.5,569.1L672,569L672.5,569L673,569.2L673.5,569.3L674,569.3L674.5,569.2L675,569.2L675.5,569.1L676,569L676.5,569L677,569.1L677.5,569.3L678,569.2L678.5,569.1L679,569.1L679.5,569.3L680,569.2L680.5,569L681,568.7L681.5,568.7L682,568.9L682.5,569.1L683,569.2L683.5,569.2L684,569.2L684.5,569.2L685,569.2L685,571.6L684.5,571.6L684,571.6L683.5,571.6L683,571.6L682.5,571.5L682,571.3L681.5,571.1L681,571.1L680.5,571.4L680,571.7L679.5,571.8L679,571.5L678.5,571.6L678,571.6L677.5,571.7L677,571.6L676.5,571.4L676,571.5L675.5,571.5L675,571.7L674.5,571.7L674,571.7L673.5,571.7L673,571.6L672.5,571.4L672,571.5L671.5,571.6L671,572L670.5,572L670,572.2L669.5,571.8L669,571.9L668.5,571.7L668,571.9L667.5,571.8L667,571.8L666.5,571.8L666,571.9L665.5,571.9L665,572L664.5,571.9L664,571.9L663.5,571.9L663,571.8L662.5,571.8L662,571.7L661.5,571.7L661,571.5L660.5,571.5L660,571.7L659.5,571.8L659,571.6L658.5,571.7L658,571.7L657.5,571.7L657,571.6L656.5,571.6L656,571.9L655.5,572.1L655,572.1L654.5,572L654,571.8L653.5,571.7L653,571.6L652.5,571.6L652,572L651.5,572.1L651,572.2L650.5,571.9L650,571.9L649.5,571.6L649,571.5L648.5,571.5L648,571.9L647.5,572L647,572.1L646.5,571.9L646,572L645.5,571.9L645,572L644.5,571.7L644,571.7L643.5,571.8L643,572.1L642.5,572.2L642,572.1L641.5,571.9L641,571.9L640.5,571.9L640,572.1L639.5,572.3L639,572.3L638.5,572.2L638,572L637.5,572.2L637,572.4L636.5,572.6L636,572.5L635.5,572.2L635,571.9L634.5,572L634,572.3L633.5,572.3L633,572.3L632.5,572.3L632,572.4L631.5,572.6L631,572.5L630.5,572.6L630,572.4L629.5,572.4L629,572.4L628.5,572.4L628,572.4L627.5,572.2L627,572.2L626.5,572.2L626,572.2L625.5,572.3L625,572.4L624.5,572.2L624,572.1L623.5,572L623,572.3L622.5,572.4L622,572.4L621.5,572.4L621,572.5L620.5,572.6L620,572.6L619.5,572.5L619,572.5L618.5,572.6L618,572.5L617.5,572.6L617,572.6L616.5,572.6L616,572.4L615.5,572.4L615,572.3L614.5,572.4L614,572.3L613.5,572.4L613,572.5L612.5,572.8L612,572.9L611.5,573.1L611,572.5L610.5,572.7L610,572.7L609.5,573.1L609,572.8L608.5,572.7L608,572.6L607.5,572.7L607,572.8L606.5,572.9L606,572.8L605.5,572.9L605,572.9L604.5,573.1L604,573L603.5,572.9L603,572.7L602.5,572.7L602,572.9L601.5,573L601,573.1L600.5,573.1L600,573.2L599.5,573.1L599,573.3L598.5,573.2L598,573.3L597.5,573.3L597,573.3L596.5,573.2L596,573.1L595.5,573.1L595,573L594.5,573L594,572.9L593.5,573.1L593,573.2L592.5,573.1L592,573.1L591.5,573L591,573.2L590.5,573.2L590,573.3L589.5,573.1L589,573.1L588.5,573.1L588,573.3L587.5,573.3L587,573.5L586.5,573.6L586,573.5L585.5,573.4L585,573.4L584.5,573.4L584,573.5L583.5,573.5L583,573.4L582.5,573.2L582,573.3L581.5,573.6L581,573.6L580.5,573.5L580,573.6L579.5,573.6L579,573.8L578.5,573.8L578,574L577.5,573.8L577,574L576.5,574.1L576,574.1L575.5,573.9L575,573.9L574.5,574.1L574,574.2L573.5,574.2L573,574L572.5,574.1L572,574.1L571.5,574.3L571,574.1L570.5,574.2L570,574.1L569.5,574.2L569,574.4L568.5,574.4L568,574.7L567.5,574.6L567,574.8L566.5,574.8L566,575.1L565.5,575.3L565,575.5L564.5,575.5L564,575.2L563.5,575.2L563,575.5L562.5,575.7L562,575.7L561.5,575.7L561,575.9L560.5,576L560,576L559.5,576L559,576.1L558.5,576.3L558,576.5L557.5,576.7L557,576.8L556.5,576.8L556,576.9L555.5,577L555,577.2L554.5,577.2L554,577.3L553.5,577.2L553,577.3L552.5,577.5L552,577.7L551.5,577.8L551,577.7L550.5,578.2L550,578.3L549.5,578.5L549,578.3L548.5,578.3L548,578.4L547.5,578.7L547,579L546.5,579.1L546,579.4L545.5,579.5L545,579.7L544.5,579.7L544,580L543.5,580.1L543,580L542.5,580.1L542,580.1L541.5,580.1L541,580.2L540.5,580.5L540,580.7L539.5,580.9L539,581.1L538.5,581.4L538,581.4L537.5,581.6L537,581.7L536.5,582L536,582.3L535.5,582.7L535,582.8L534.5,583L534,583.1L533.5,583.4L533,583.6L532.5,583.9L532,584.3L531.5,584.7L531,585.1L530.5,585.1L530,585.4L529.5,585.4L529,585.7L528.5,585.8L528,586.1L527.5,586.2L527,586.3L526.5,586.3L526,586.6L525.5,587.1L525,587.5L524.5,587.6L524,587.6L523.5,587.6L523,587.9L522.5,587.9L522,588.1L521.5,588.3L521,588.4L520.5,588.5L520,588.3L519.5,588.3L519,588.3L518.5,588.3L518,588.4L517.5,588.4L517,588.6L516.5,588.7L516,588.8L515.5,588.7L515,588.5L514.5,588.4L514,588.5L513.5,588.7L513,588.7L512.5,588.8L512,588.6L511.5,588.8L511,588.6L510.5,588.7L510,588.7L509.5,588.8L509,588.8L508.5,588.7L508,588.6L507.5,588.6L507,588.6L506.5,588.6L506,588.6L505.5,588.5L505,588.3L504.5,588.2L504,588.2L503.5,588.3L503,588.2L502.5,588L502,587.8L501.5,587.7L501,587.6L500.5,587.4L500,586.9L499.5,586.5L499,586.2L498.5,586L498,585.7L497.5,584.9L497,583.9L496.5,582.6L496,581.2L495.5,579.1L495,576.8L494.5,574.7L494,573.7L493.5,573.2L493,572.9L492.5,572.7L492,572.6L491.5,572.4L491,572.1L490.5,571.6L490,571.2Z" fill="#b9dea3" stroke="none" />
<path d="M490,570.7L490.5,570.9L491,571.2L491.5,571.3L492,571.3L492.5,571.1L493,571.2L493.5,571.2L494,571.6L494.5,572.4L495,574.2L495.5,576.3L496,578.2L496.5,579.6L497,580.8L497.5,581.9L498,582.7L498.5,582.9L499,583.2L499.5,583.5L500,583.9L500.5,584.3L501,584.5L501.5,584.6L502,584.6L502.5,584.8L503,585.1L503.5,585.2L504,585L504.5,585L505,585.1L505.5,585.3L506,585.3L506.5,585.4L507,585.4L507.5,585.4L508,585.3L508.5,585.4L509,585.6L509.5,585.6L510,585.4L510.5,585.4L511,585.3L511.5,585.4L512,585.3L512.5,585.4L513,585.3L513.5,585.3L514,585.1L514.5,585L515,585.2L515.5,585.3L516,585.4L516.5,585.2L517,585.2L517.5,584.9L518,585L518.5,584.8L519,584.8L519.5,584.8L520,584.8L520.5,585.1L521,584.9L521.5,584.9L522,584.7L522.5,584.5L523,584.5L523.5,584.3L524,584.3L524.5,584.3L525,584.2L525.5,583.8L526,583.4L526.5,583.1L527,583.1L527.5,583.1L528,583L528.5,582.7L529,582.7L529.5,582.4L530,582.4L530.5,582.2L531,582.1L531.5,581.7L532,581.4L532.5,581.1L533,580.8L533.5,580.6L534,580.3L534.5,580.2L535,580L535.5,580L536,579.6L536.5,579.3L537,579L537.5,578.9L538,578.8L538.5,578.8L539,578.5L539.5,578.4L540,578.2L540.5,578.1L541,577.7L541.5,577.7L542,577.7L542.5,577.7L543,577.6L543.5,577.7L544,577.6L544.5,577.4L545,577.3L545.5,577.1L546,577.1L546.5,576.8L547,576.7L547.5,576.4L548,576.1L548.5,576.1L549,576.1L549.5,576.4L550,576.1L550.5,576L551,575.6L551.5,575.7L552,575.6L552.5,575.5L553,575.2L553.5,575.1L554,575.2L554.5,575.2L555,575.2L555.5,575L556,575L556.5,574.8L557,574.8L557.5,574.8L558,574.6L558.5,574.4L559,574.2L559.5,574.2L560,574.2L560.5,574.2L561,574.1L561.5,573.9L562,574L562.5,573.9L563,573.8L563.5,573.5L564,573.5L564.5,573.8L565,573.9L565.5,573.7L566,573.5L566.5,573.1L567,573.2L567.5,573L568,573.1L568.5,572.9L569,572.9L569.5,572.7L570,572.6L570.5,572.7L571,572.6L571.5,572.8L572,572.6L572.5,572.7L573,572.5L573.5,572.7L574,572.7L574.5,572.6L575,572.4L575.5,572.4L576,572.6L576.5,572.6L577,572.5L577.5,572.4L578,572.5L578.5,572.3L579,572.3L579.5,572.2L580,572.1L580.5,572.1L581,572.2L581.5,572.1L582,571.8L582.5,571.7L583,571.9L583.5,572L584,572.1L584.5,571.9L585,571.9L585.5,571.9L586,572.1L586.5,572.2L587,572.1L587.5,571.9L588,571.8L588.5,571.6L589,571.7L589.5,571.6L590,571.8L590.5,571.8L591,571.8L591.5,571.6L592,571.7L592.5,571.6L593,571.8L593.5,571.6L594,571.5L594.5,571.6L595,571.6L595.5,571.7L596,571.6L596.5,571.8L597,571.8L597.5,571.8L598,571.8L598.5,571.8L599,571.8L599.5,571.6L600,571.8L600.5,571.6L601,571.7L601.5,571.5L602,571.5L602.5,571.3L603,571.3L603.5,571.5L604,571.6L604.5,571.6L605,571.5L605.5,571.5L606,571.4L606.5,571.5L607,571.4L607.5,571.3L608,571.1L608.5,571.3L609,571.4L609.5,571.7L610,571.3L610.5,571.3L611,571.1L611.5,571.7L612,571.5L612.5,571.4L613,571.1L613.5,571L614,571L614.5,571L615,571L615.5,571L616,571L616.5,571.2L617,571.2L617.5,571.2L618,571.2L618.5,571.3L619,571.1L619.5,571.1L620,571.2L620.5,571.3L621,571.2L621.5,571L622,571L622.5,571L623,571L623.5,570.6L624,570.8L624.5,570.9L625,571.1L625.5,570.9L626,570.8L626.5,570.8L627,570.8L627.5,570.9L628,571L628.5,571.1L629,571.1L629.5,571L630,571.1L630.5,571.2L631,571.2L631.5,571.3L632,571.1L632.5,570.9L633,570.9L633.5,571L634,571L634.5,570.6L635,570.6L635.5,570.9L636,571.1L636.5,571.3L637,571.1L637.5,570.9L638,570.7L638.5,570.8L639,571L639.5,570.9L640,570.7L640.5,570.6L641,570.6L641.5,570.6L642,570.8L642.5,570.9L643,570.8L643.5,570.5L644,570.4L644.5,570.4L645,570.7L645.5,570.6L646,570.7L646.5,570.6L647,570.8L647.5,570.7L648,570.6L648.5,570.2L649,570.2L649.5,570.3L650,570.6L650.5,570.6L651,570.9L651.5,570.8L652,570.7L652.5,570.3L653,570.3L653.5,570.4L654,570.6L654.5,570.8L655,570.9L655.5,570.8L656,570.6L656.5,570.3L657,570.4L657.5,570.4L658,570.4L658.5,570.5L659,570.4L659.5,570.5L660,570.4L660.5,570.3L661,570.2L661.5,570.4L662,570.4L662.5,570.5L663,570.5L663.5,570.7L664,570.7L664.5,570.7L665,570.8L665.5,570.7L666,570.6L666.5,570.5L667,570.6L667.5,570.5L668,570.6L668.5,570.4L669,570.7L669.5,570.6L670,570.9L670.5,570.8L671,570.8L671.5,570.3L672,570.3L672.5,570.2L673,570.4L673.5,570.5L674,570.5L674.5,570.4L675,570.5L675.5,570.3L676,570.3L676.5,570.2L677,570.4L677.5,570.5L678,570.4L678.5,570.4L679,570.3L679.5,570.5L680,570.4L680.5,570.2L681,569.9L681.5,569.9L682,570.1L682.5,570.3L683,570.4L683.5,570.4L684,570.4L684.5,570.4L685,570.4" fill="none" stroke="#7dc35a" stroke-width="1.2" stroke-linejoin="round" />
<path d="M490,570.5L490.5,570.4L491,569.9L491.5,569.6L492,569.3L492.5,569.5L493,569.2L493.5,569L494,568.3L494.5,567.3L495,564.7L495.5,561.9L496,558.8L496.5,556.2L497,554.3L497.5,552.7L498,551.4L498.5,549.8L499,548.7L499.5,547.7L500,546.9L500.5,545.9L501,544.8L501.5,543.7L502,542.8L502.5,542.1L503,541.9L503.5,541.6L504,541.2L504.5,540.6L505,540.1L505.5,539.6L506,539.4L506.5,539L507,538.8L507.5,538.6L508,538.7L508.5,538.9L509,539.2L509.5,539.9L510,540.3L510.5,540.9L511,541L511.5,541.4L512,541.7L512.5,542.4L513,542.9L513.5,543.3L514,543.5L514.5,543.6L515,544L515.5,544.6L516,545.3L516.5,546.1L517,546.4L517.5,546.8L518,547.2L518.5,547.5L519,547.8L519.5,548.2L520,548.6L520.5,548.8L521,548.9L521.5,549.4L522,549.6L522.5,549.8L523,549.7L523.5,549.9L524,550.3L524.5,550.3L525,550.6L525.5,550.6L526,550.8L526.5,550.8L527,550.8L527.5,550.9L528,551L528.5,551.2L529,551.4L529.5,551.8L530,552L530.5,552.2L531,552.4L531.5,553L532,553.5L532.5,553.9L533,554.2L533.5,554.6L534,554.8L534.5,555.2L535,555.4L535.5,555.9L536,556L536.5,556.3L537,556.6L537.5,556.8L538,556.8L538.5,556.9L539,557.2L539.5,557.5L540,557.7L540.5,557.8L541,558L541.5,558.2L542,558.6L542.5,558.8L543,559L543.5,559.2L544,559.5L544.5,559.7L545,559.7L545.5,559.7L546,560L546.5,560L547,560.3L547.5,560.3L548,560.7L548.5,560.6L549,560.7L549.5,560.6L550,560.9L550.5,560.9L551,561L551.5,561.3L552,561.5L552.5,561.6L553,561.3L553.5,561.4L554,561.7L554.5,561.9L555,561.8L555.5,562L556,562L556.5,562.4L557,562.4L557.5,562.4L558,562.4L558.5,562.3L559,562.4L559.5,562L560,561.8L560.5,561.6L561,561.8L561.5,562.1L562,562.1L562.5,562L563,561.9L563.5,562L564,562.2L564.5,562.3L565,562.3L565.5,562.2L566,562.1L566.5,562L567,562L567.5,562L568,562.2L568.5,562.1L569,562L569.5,561.8L570,562L570.5,562.1L571,562.1L571.5,561.7L572,561.7L572.5,562L573,562.2L573.5,562.1L574,562L574.5,562L575,562.1L575.5,562L576,562L576.5,562.1L577,562.2L577.5,562.2L578,562.1L578.5,562L579,561.8L579.5,561.8L580,561.7L580.5,562.1L581,562L581.5,562.2L582,562.1L582.5,562.2L583,562.3L583.5,562.3L584,562.2L584.5,562.1L585,562.1L585.5,562.4L586,562.4L586.5,562.4L587,562.4L587.5,562.5L588,562.4L588.5,562.1L589,562.1L589.5,562.3L590,562.6L590.5,562.6L591,562.4L591.5,562.4L592,562.5L592.5,562.5L593,562.5L593.5,562.4L594,562.3L594.5,562.2L595,562.2L595.5,562.3L596,562.4L596.5,562.4L597,562.4L597.5,562.3L598,562.4L598.5,562.3L599,562.2L599.5,562.2L600,562.1L600.5,562.2L601,562.1L601.5,562.4L602,562.5L602.5,562.5L603,562.2L603.5,562.3L604,562.2L604.5,562.5L605,562.3L605.5,562.6L606,562.5L606.5,562.4L607,562.5L607.5,562.5L608,562.7L608.5,562.6L609,562.5L609.5,562.6L610,562.5L610.5,562.7L611,562.6L611.5,562.8L612,562.7L612.5,562.7L613,562.6L613.5,562.6L614,562.6L614.5,562.9L615,562.8L615.5,562.6L616,562.4L616.5,562.2L617,562L617.5,561.9L618,562L618.5,562L619,561.9L619.5,561.9L620,561.5L620.5,561.1L621,560.9L621.5,561.1L622,561.1L622.5,561.1L623,560.9L623.5,560.9L624,561.2L624.5,561.5L625,561.6L625.5,561.6L626,561.5L626.5,561.8L627,561.9L627.5,562.3L628,562.5L628.5,562.6L629,562.4L629.5,562.3L630,562.6L630.5,562.9L631,563.4L631.5,563.3L632,563.4L632.5,563.1L633,563.4L633.5,563.5L634,563.7L634.5,563.6L635,563.6L635.5,563.6L636,563.4L636.5,563.6L637,563.6L637.5,563.9L638,563.9L638.5,564.2L639,564.2L639.5,564.3L640,564.3L640.5,564.5L641,564.5L641.5,564.4L642,564.3L642.5,564.4L643,564.6L643.5,564.7L644,564.8L644.5,564.9L645,564.9L645.5,565L646,564.9L646.5,565.1L647,565.1L647.5,565.1L648,564.8L648.5,565L649,565.2L649.5,565.5L650,565.6L650.5,565.6L651,565.4L651.5,565.3L652,565.2L652.5,565L653,565.1L653.5,565.1L654,565.3L654.5,565.3L655,565.4L655.5,565.6L656,565.5L656.5,565.3L657,565.1L657.5,565.1L658,565.2L658.5,565.4L659,565.5L659.5,565.4L660,565.4L660.5,565.3L661,565.4L661.5,565.5L662,565.3L662.5,565.3L663,565.2L663.5,565.3L664,565.6L664.5,565.1L665,565.5L665.5,565.4L666,565.7L666.5,565.6L667,565.4L667.5,565.7L668,565.7L668.5,565.9L669,565.7L669.5,565.6L670,565.3L670.5,565.3L671,565.6L671.5,565.9L672,565.9L672.5,565.8L673,565.7L673.5,565.8L674,565.9L674.5,565.9L675,566L675.5,565.9L676,565.8L676.5,565.5L677,565.5L677.5,565.6L678,565.7L678.5,565.8L679,565.7L679.5,565.5L680,565.4L680.5,565.4L681,565.6L681.5,565.6L682,565.9L682.5,565.8L683,565.7L683.5,565.7L684,565.8L684.5,565.8L685,565.8L685,571.8L684.5,571.8L684,571.8L683.5,571.7L683,571.7L682.5,571.8L682,572L681.5,571.7L681,571.6L680.5,571.5L680,571.5L679.5,571.7L679,571.8L678.5,572L678,571.8L677.5,571.7L677,571.7L676.5,571.7L676,572L675.5,572.1L675,572.3L674.5,572.2L674,572.1L673.5,572.1L673,571.9L672.5,572.1L672,572.2L671.5,572.2L671,571.9L670.5,571.6L670,571.6L669.5,571.9L669,572.1L668.5,572.3L668,572.1L667.5,572.2L667,571.9L666.5,572L666,572.2L665.5,571.9L665,571.9L664.5,571.6L664,572L663.5,571.8L663,571.7L662.5,571.8L662,571.9L661.5,572L661,572L660.5,571.8L660,571.9L659.5,572L659,572.1L658.5,572L658,571.8L657.5,571.8L657,571.8L656.5,572L656,572.2L655.5,572.3L655,572.2L654.5,572L654,572.1L653.5,571.9L653,571.9L652.5,571.7L652,572L651.5,572.1L651,572.2L650.5,572.4L650,572.4L649.5,572.3L649,572L648.5,571.8L648,571.7L647.5,572L647,572L646.5,572L646,571.8L645.5,571.9L645,571.9L644.5,571.8L644,571.8L643.5,571.7L643,571.6L642.5,571.4L642,571.3L641.5,571.4L641,571.5L640.5,571.5L640,571.3L639.5,571.4L639,571.3L638.5,571.3L638,571L637.5,571L637,570.7L636.5,570.8L636,570.6L635.5,570.7L635,570.8L634.5,570.8L634,570.9L633.5,570.7L633,570.6L632.5,570.4L632,570.6L631.5,570.5L631,570.6L630.5,570.2L630,569.8L629.5,569.6L629,569.7L628.5,569.9L628,569.8L627.5,569.7L627,569.3L626.5,569.2L626,568.9L625.5,569L625,569L624.5,568.9L624,568.7L623.5,568.3L623,568.4L622.5,568.6L622,568.6L621.5,568.6L621,568.4L620.5,568.7L620,569L619.5,569.4L619,569.5L618.5,569.6L618,569.6L617.5,569.5L617,569.6L616.5,569.8L616,570L615.5,570.3L615,570.5L614.5,570.6L614,570.3L613.5,570.3L613,570.3L612.5,570.4L612,570.4L611.5,570.5L611,570.4L610.5,570.4L610,570.3L609.5,570.4L609,570.3L608.5,570.4L608,570.5L607.5,570.3L607,570.3L606.5,570.3L606,570.3L605.5,570.4L605,570.2L604.5,570.4L604,570.2L603.5,570.2L603,570.1L602.5,570.4L602,570.4L601.5,570.4L601,570.1L600.5,570.2L600,570.1L599.5,570.2L599,570.2L598.5,570.3L598,570.5L597.5,570.3L597,570.5L596.5,570.5L596,570.5L595.5,570.5L595,570.3L594.5,570.4L594,570.5L593.5,570.6L593,570.7L592.5,570.7L592,570.7L591.5,570.7L591,570.7L590.5,570.9L590,570.9L589.5,570.7L589,570.5L588.5,570.5L588,570.8L587.5,570.9L587,570.8L586.5,570.9L586,570.8L585.5,570.9L585,570.6L584.5,570.6L584,570.7L583.5,570.9L583,570.8L582.5,570.8L582,570.7L581.5,570.8L581,570.6L580.5,570.7L580,570.3L579.5,570.4L579,570.4L578.5,570.7L578,570.8L577.5,571L577,571L576.5,570.9L576,570.8L575.5,570.8L575,570.9L574.5,570.8L574,570.9L573.5,571L573,571.1L572.5,570.9L572,570.6L571.5,570.6L571,571L570.5,571.1L570,571L569.5,570.8L569,571L568.5,571.2L568,571.2L567.5,571.1L567,571.1L566.5,571.1L566,571.2L565.5,571.3L565,571.5L564.5,571.5L564,571.3L563.5,571.2L563,571.1L562.5,571.2L562,571.3L561.5,571.3L561,571.1L560.5,570.9L560,571.1L559.5,571.4L559,571.7L558.5,571.6L558,571.8L557.5,571.8L557,571.8L556.5,571.8L556,571.5L555.5,571.4L555,571.3L554.5,571.4L554,571.2L553.5,570.9L553,570.8L552.5,571.1L552,571L551.5,570.9L551,570.6L550.5,570.6L550,570.8L549.5,570.6L549,570.9L548.5,570.9L548,571.2L547.5,570.9L547,571L546.5,571L546,571L545.5,570.9L545,571.1L544.5,571.2L544,571.1L543.5,571L543,570.9L542.5,570.9L542,570.8L541.5,570.6L541,570.5L540.5,570.4L540,570.5L539.5,570.5L539,570.3L538.5,570.2L538,570.2L537.5,570.3L537,570.3L536.5,570.2L536,570L535.5,570L535,569.6L534.5,569.5L534,569.2L533.5,569.1L533,568.8L532.5,568.6L532,568.3L531.5,567.9L531,567.4L530.5,567.3L530,567.2L529.5,567.1L529,566.8L528.5,566.7L528,566.6L527.5,566.6L527,566.6L526.5,566.7L526,566.8L525.5,566.7L525,566.8L524.5,566.6L524,566.7L523.5,566.4L523,566.3L522.5,566.5L522,566.4L521.5,566.3L521,565.9L520.5,565.9L520,565.9L519.5,565.5L519,565.3L518.5,565.1L518,564.9L517.5,564.7L517,564.4L516.5,564.2L516,563.5L515.5,563L515,562.4L514.5,562.2L514,562.2L513.5,562.2L513,561.8L512.5,561.4L512,560.9L511.5,560.7L511,560.5L510.5,560.4L510,560L509.5,559.7L509,559.1L508.5,558.9L508,558.9L507.5,558.9L507,559.2L506.5,558.8L506,558.6L505.5,558.2L505,558.1L504.5,558L504,558L503.5,557.8L503,557.5L502.5,557.1L502,557.2L501.5,557.5L501,558L500.5,558.5L500,558.9L499.5,559.1L499,559.5L498.5,560L498,561L497.5,561.7L497,562.7L496.5,564L496,566L495.5,568.5L495,570.7L494.5,572.8L494,573.3L493.5,573.5L493,573.2L492.5,573L492,572.3L491.5,572.1L491,571.9L490.5,571.9L490,571.5Z" fill="#b4b4b4" stroke="none" />
<path d="M490,571L490.5,571.1L491,570.9L491.5,570.9L492,570.8L492.5,571.2L493,571.2L493.5,571.2L494,570.8L494.5,570.1L495,567.7L495.5,565.2L496,562.4L496.5,560.1L497,558.5L497.5,557.2L498,556.2L498.5,554.9L499,554.1L499.5,553.4L500,552.9L500.5,552.2L501,551.4L501.5,550.6L502,550L502.5,549.6L503,549.7L503.5,549.7L504,549.6L504.5,549.3L505,549.1L505.5,548.9L506,549L506.5,548.9L507,549L507.5,548.7L508,548.8L508.5,548.9L509,549.2L509.5,549.8L510,550.2L510.5,550.7L511,550.7L511.5,551.1L512,551.3L512.5,551.9L513,552.4L513.5,552.7L514,552.9L514.5,552.9L515,553.2L515.5,553.8L516,554.4L516.5,555.1L517,555.4L517.5,555.8L518,556L518.5,556.3L519,556.5L519.5,556.9L520,557.2L520.5,557.4L521,557.4L521.5,557.9L522,558L522.5,558.2L523,558L523.5,558.2L524,558.5L524.5,558.5L525,558.7L525.5,558.6L526,558.8L526.5,558.7L527,558.7L527.5,558.8L528,558.8L528.5,558.9L529,559.1L529.5,559.5L530,559.6L530.5,559.7L531,559.9L531.5,560.5L532,560.9L532.5,561.2L533,561.5L533.5,561.8L534,562L534.5,562.3L535,562.5L535.5,562.9L536,563L536.5,563.3L537,563.5L537.5,563.5L538,563.5L538.5,563.5L539,563.7L539.5,564L540,564.1L540.5,564.1L541,564.3L541.5,564.4L542,564.7L542.5,564.8L543,564.9L543.5,565.1L544,565.3L544.5,565.5L545,565.4L545.5,565.3L546,565.5L546.5,565.5L547,565.7L547.5,565.6L548,566L548.5,565.8L549,565.8L549.5,565.6L550,565.8L550.5,565.7L551,565.8L551.5,566.1L552,566.2L552.5,566.3L553,566.1L553.5,566.1L554,566.4L554.5,566.6L555,566.5L555.5,566.7L556,566.8L556.5,567.1L557,567.1L557.5,567.1L558,567.1L558.5,567L559,567L559.5,566.7L560,566.5L560.5,566.2L561,566.5L561.5,566.7L562,566.7L562.5,566.6L563,566.5L563.5,566.6L564,566.8L564.5,566.9L565,566.9L565.5,566.7L566,566.7L566.5,566.6L567,566.6L567.5,566.5L568,566.7L568.5,566.6L569,566.5L569.5,566.3L570,566.5L570.5,566.6L571,566.5L571.5,566.1L572,566.1L572.5,566.4L573,566.6L573.5,566.5L574,566.4L574.5,566.4L575,566.5L575.5,566.4L576,566.4L576.5,566.5L577,566.6L577.5,566.6L578,566.4L578.5,566.4L579,566.1L579.5,566.1L580,566L580.5,566.4L581,566.3L581.5,566.5L582,566.4L582.5,566.5L583,566.6L583.5,566.6L584,566.5L584.5,566.3L585,566.4L585.5,566.6L586,566.6L586.5,566.7L587,566.6L587.5,566.7L588,566.6L588.5,566.3L589,566.3L589.5,566.5L590,566.7L590.5,566.7L591,566.6L591.5,566.6L592,566.6L592.5,566.6L593,566.6L593.5,566.5L594,566.4L594.5,566.3L595,566.3L595.5,566.4L596,566.4L596.5,566.4L597,566.4L597.5,566.3L598,566.4L598.5,566.3L599,566.2L599.5,566.2L600,566.1L600.5,566.2L601,566.1L601.5,566.4L602,566.4L602.5,566.4L603,566.1L603.5,566.3L604,566.2L604.5,566.4L605,566.2L605.5,566.5L606,566.4L606.5,566.3L607,566.4L607.5,566.4L608,566.6L608.5,566.5L609,566.4L609.5,566.5L610,566.4L610.5,566.6L611,566.5L611.5,566.6L612,566.5L612.5,566.6L613,566.5L613.5,566.4L614,566.5L614.5,566.7L615,566.7L615.5,566.4L616,566.2L616.5,566L617,565.8L617.5,565.7L618,565.8L618.5,565.8L619,565.7L619.5,565.7L620,565.3L620.5,564.9L621,564.6L621.5,564.8L622,564.8L622.5,564.9L623,564.6L623.5,564.6L624,565L624.5,565.2L625,565.3L625.5,565.3L626,565.2L626.5,565.5L627,565.6L627.5,566L628,566.1L628.5,566.3L629,566L629.5,566L630,566.2L630.5,566.5L631,567L631.5,566.9L632,567L632.5,566.8L633,567L633.5,567.1L634,567.3L634.5,567.2L635,567.2L635.5,567.2L636,567L636.5,567.2L637,567.2L637.5,567.5L638,567.4L638.5,567.7L639,567.8L639.5,567.8L640,567.8L640.5,568L641,568L641.5,567.9L642,567.8L642.5,567.9L643,568.1L643.5,568.2L644,568.3L644.5,568.4L645,568.4L645.5,568.5L646,568.3L646.5,568.5L647,568.5L647.5,568.5L648,568.3L648.5,568.4L649,568.6L649.5,568.9L650,569L650.5,569L651,568.8L651.5,568.7L652,568.6L652.5,568.3L653,568.5L653.5,568.5L654,568.7L654.5,568.7L655,568.8L655.5,568.9L656,568.8L656.5,568.7L657,568.5L657.5,568.5L658,568.5L658.5,568.7L659,568.8L659.5,568.7L660,568.7L660.5,568.6L661,568.7L661.5,568.8L662,568.6L662.5,568.5L663,568.5L663.5,568.5L664,568.8L664.5,568.4L665,568.7L665.5,568.6L666,568.9L666.5,568.8L667,568.7L667.5,569L668,568.9L668.5,569.1L669,568.9L669.5,568.7L670,568.5L670.5,568.4L671,568.8L671.5,569.1L672,569L672.5,568.9L673,568.8L673.5,569L674,569L674.5,569.1L675,569.2L675.5,569L676,568.9L676.5,568.6L677,568.6L677.5,568.7L678,568.8L678.5,568.9L679,568.7L679.5,568.6L680,568.5L680.5,568.4L681,568.6L681.5,568.7L682,568.9L682.5,568.8L683,568.7L683.5,568.7L684,568.8L684.5,568.8L685,568.8" fill="none" stroke="#505050" stroke-width="1.2" stroke-linejoin="round" />
<path d="M490,570.4L490.5,570.4L491,570.3L491.5,570.3L492,570L492.5,569.9L493,570L493.5,570.1L494,570.2L494.5,563.1L495,549.8L495.5,536.3L496,526.8L496.5,517.9L497,510L497.5,503.5L498,497.5L498.5,491.6L499,486.5L499.5,481.7L500,477.5L500.5,473.8L501,470.6L501.5,468L502,465.6L502.5,463.8L503,462.2L503.5,461L504,459.6L504.5,458.7L505,457.7L505.5,457.1L506,456.5L506.5,456L507,455.7L507.5,455.7L508,455.9L508.5,456.2L509,456.6L509.5,457.4L510,457.7L510.5,458.1L511,458.6L511.5,459.1L512,459.7L512.5,460L513,460.6L513.5,461.3L514,462L514.5,462.6L515,463.1L515.5,463.5L516,464.1L516.5,464.8L517,465.4L517.5,466.1L518,466.6L518.5,467.4L519,468.2L519.5,469L520,469.7L520.5,470.2L521,470.6L521.5,470.8L522,471L522.5,471.4L523,471.7L523.5,472.1L524,472.5L524.5,472.8L525,473.2L525.5,473.7L526,474L526.5,474.4L527,474.4L527.5,474.6L528,474.8L528.5,475.1L529,475.6L529.5,475.8L530,476.3L530.5,476.8L531,477.2L531.5,477.5L532,478.1L532.5,479.1L533,479.7L533.5,480.7L534,481.7L534.5,483L535,484.2L535.5,485.5L536,486.7L536.5,488L537,489L537.5,489.9L538,490.9L538.5,491.9L539,493.1L539.5,494.2L540,495.6L540.5,496.3L541,497.1L541.5,497.8L542,499L542.5,500.2L543,501.1L543.5,501.8L544,502.6L544.5,504L545,505L545.5,506L546,506.7L546.5,507.7L547,508.7L547.5,509.1L548,509.8L548.5,510.5L549,511.7L549.5,512.4L550,513.3L550.5,513.7L551,514.4L551.5,515.1L552,515.9L552.5,516.7L553,517.5L553.5,518.1L554,518.8L554.5,519.6L555,520.3L555.5,520.9L556,521.4L556.5,521.9L557,522.5L557.5,523.1L558,523.7L558.5,524.2L559,524.9L559.5,525.4L560,525.8L560.5,526.1L561,526.8L561.5,527.5L562,528L562.5,528.2L563,528.7L563.5,529.3L564,530.1L564.5,530.5L565,530.7L565.5,531L566,531.5L566.5,532.2L567,532.8L567.5,533.3L568,533.6L568.5,533.9L569,534.1L569.5,534.6L570,534.8L570.5,535.2L571,535.5L571.5,535.8L572,536.3L572.5,536.6L573,536.9L573.5,537.2L574,537.6L574.5,538L575,538.4L575.5,538.4L576,538.5L576.5,538.6L577,539.3L577.5,539.9L578,540.3L578.5,540.4L579,540.5L579.5,540.8L580,541.3L580.5,541.7L581,542L581.5,542.5L582,542.7L582.5,543L583,543L583.5,543.4L584,543.5L584.5,543.9L585,544.4L585.5,544.7L586,545.1L586.5,545.3L587,545.8L587.5,545.8L588,545.7L588.5,545.8L589,546.2L589.5,546.5L590,546.6L590.5,546.6L591,547.1L591.5,547.1L592,547.5L592.5,547.3L593,547.8L593.5,548L594,548.1L594.5,548.1L595,548.1L595.5,548.4L596,548.5L596.5,548.7L597,548.9L597.5,548.9L598,549.1L598.5,549.2L599,549.4L599.5,549.4L600,549.5L600.5,549.5L601,549.8L601.5,549.9L602,549.8L602.5,549.9L603,550L603.5,550.3L604,550.5L604.5,550.4L605,550.5L605.5,550.5L606,550.8L606.5,550.9L607,551L607.5,551.1L608,551.1L608.5,551.4L609,551.7L609.5,552.2L610,552.4L610.5,552.4L611,552.4L611.5,552.5L612,552.9L612.5,553L613,553.1L613.5,552.9L614,553.3L614.5,553.4L615,553.6L615.5,553.5L616,553.7L616.5,554L617,554.3L617.5,554.3L618,554.4L618.5,554.7L619,554.9L619.5,555.1L620,555.2L620.5,555.4L621,555.6L621.5,555.7L622,555.9L622.5,556L623,556.1L623.5,556.4L624,556.5L624.5,556.4L625,556.5L625.5,556.7L626,557.1L626.5,557.3L627,557.6L627.5,557.7L628,557.7L628.5,557.8L629,558L629.5,558.1L630,558L630.5,557.9L631,558L631.5,558.2L632,558.4L632.5,558.6L633,558.7L633.5,558.7L634,558.9L634.5,558.8L635,559.1L635.5,559.1L636,559.4L636.5,559.3L637,559.4L637.5,559.6L638,559.7L638.5,559.8L639,559.7L639.5,559.6L640,559.6L640.5,559.7L641,560L641.5,560.1L642,560L642.5,560.3L643,560.5L643.5,560.7L644,560.5L644.5,560.6L645,560.7L645.5,561L646,561L646.5,560.9L647,561L647.5,560.7L648,560.7L648.5,560.7L649,561.1L649.5,561.5L650,561.7L650.5,561.5L651,561.5L651.5,561.5L652,561.5L652.5,561.5L653,561.4L653.5,561.8L654,562.1L654.5,562.1L655,562.2L655.5,562.2L656,562.3L656.5,562.3L657,562.3L657.5,562.3L658,562.1L658.5,562.2L659,562.1L659.5,562.5L660,562.7L660.5,563.2L661,562.8L661.5,562.6L662,562.6L662.5,562.8L663,563L663.5,562.9L664,562.8L664.5,562.8L665,563.1L665.5,563.2L666,563.5L666.5,563.3L667,563.6L667.5,563.6L668,563.5L668.5,563.6L669,563.5L669.5,563.9L670,563.9L670.5,564L671,563.8L671.5,563.9L672,563.8L672.5,563.8L673,564L673.5,564L674,564.1L674.5,564.1L675,564.1L675.5,564L676,564L676.5,564.1L677,564.4L677.5,564.2L678,564.1L678.5,563.8L679,564.1L679.5,564.2L680,564.1L680.5,564.1L681,564L681.5,564L682,564.1L682.5,564.1L683,564.4L683.5,564.6L684,564.6L684.5,564.5L685,564.5L685,568.5L684.5,568.5L684,568.6L683.5,568.6L683,568.5L682.5,568.2L682,568.1L681.5,568.1L681,568.1L680.5,568.2L680,568.2L679.5,568.3L679,568.2L678.5,568L678,568.2L677.5,568.3L677,568.6L676.5,568.3L676,568.2L675.5,568.2L675,568.3L674.5,568.3L674,568.3L673.5,568.2L673,568.2L672.5,568.1L672,568.1L671.5,568.2L671,568.1L670.5,568.4L670,568.3L669.5,568.3L669,567.9L668.5,567.9L668,567.9L667.5,568L667,568L666.5,567.7L666,567.9L665.5,567.6L665,567.6L664.5,567.3L664,567.3L663.5,567.3L663,567.5L662.5,567.3L662,567.1L661.5,567.1L661,567.3L660.5,567.7L660,567.2L659.5,567L659,566.6L658.5,566.7L658,566.7L657.5,566.9L657,566.9L656.5,567L656,566.9L655.5,566.8L655,566.9L654.5,566.8L654,566.7L653.5,566.5L653,566.1L652.5,566.2L652,566.2L651.5,566.3L651,566.2L650.5,566.2L650,566.4L649.5,566.3L649,565.9L648.5,565.5L648,565.5L647.5,565.6L647,565.8L646.5,565.8L646,565.9L645.5,565.8L645,565.6L644.5,565.5L644,565.4L643.5,565.6L643,565.4L642.5,565.3L642,565L641.5,565.1L641,565L640.5,564.6L640,564.6L639.5,564.6L639,564.7L638.5,564.8L638,564.7L637.5,564.6L637,564.4L636.5,564.4L636,564.4L635.5,564.2L635,564.2L634.5,563.9L634,564L633.5,563.9L633,563.8L632.5,563.7L632,563.5L631.5,563.3L631,563.2L630.5,563.1L630,563.2L629.5,563.3L629,563.2L628.5,563.1L628,563L627.5,563L627,562.9L626.5,562.7L626,562.5L625.5,562.1L625,562L624.5,561.9L624,562L623.5,561.9L623,561.7L622.5,561.5L622,561.5L621.5,561.3L621,561.3L620.5,561.1L620,560.9L619.5,560.8L619,560.6L618.5,560.5L618,560.2L617.5,560.1L617,560.2L616.5,559.9L616,559.6L615.5,559.4L615,559.6L614.5,559.4L614,559.3L613.5,559L613,559.2L612.5,559.1L612,559L611.5,558.7L611,558.6L610.5,558.6L610,558.6L609.5,558.4L609,557.9L608.5,557.7L608,557.4L607.5,557.4L607,557.3L606.5,557.2L606,557.2L605.5,556.9L605,557L604.5,556.9L604,557L603.5,556.9L603,556.5L602.5,556.4L602,556.4L601.5,556.5L601,556.5L600.5,556.2L600,556.2L599.5,556.1L599,556.2L598.5,556L598,555.9L597.5,555.8L597,555.7L596.5,555.6L596,555.4L595.5,555.3L595,555L594.5,555.1L594,555.1L593.5,555L593,554.8L592.5,554.4L592,554.6L591.5,554.3L591,554.2L590.5,553.7L590,553.8L589.5,553.8L589,553.6L588.5,553.3L588,553.3L587.5,553.5L587,553.5L586.5,553.2L586,553.1L585.5,552.8L585,552.5L584.5,552.2L584,551.8L583.5,551.8L583,551.5L582.5,551.6L582,551.4L581.5,551.3L581,550.9L580.5,550.6L580,550.3L579.5,550L579,549.7L578.5,549.8L578,549.8L577.5,549.4L577,548.9L576.5,548.3L576,548.4L575.5,548.3L575,548.4L574.5,548.2L574,548L573.5,547.8L573,547.7L572.5,547.6L572,547.5L571.5,547.2L571,547.1L570.5,547L570,546.8L569.5,546.8L569,546.5L568.5,546.5L568,546.4L567.5,546.3L567,546L566.5,545.6L566,545.1L565.5,544.8L565,544.7L564.5,544.7L564,544.5L563.5,543.9L563,543.5L562.5,543.2L562,543.2L561.5,542.9L561,542.4L560.5,541.9L560,541.8L559.5,541.5L559,541L558.5,540.5L558,540L557.5,539.5L557,539L556.5,538.4L556,538L555.5,537.6L555,537.1L554.5,536.4L554,535.8L553.5,535.1L553,534.5L552.5,533.8L552,533.2L551.5,532.4L551,531.8L550.5,531.1L550,530.8L549.5,530L549,529.4L548.5,528.3L548,527.7L547.5,527L547,526.7L546.5,526.1L546,525.4L545.5,525.1L545,524.4L544.5,523.8L544,522.7L543.5,522.3L543,521.9L542.5,521.4L542,520.6L541.5,519.8L541,519.4L540.5,518.9L540,518.6L539.5,517.6L539,516.8L538.5,515.9L538,515.3L537.5,514.7L537,514.2L536.5,513.5L536,512.5L535.5,511.7L535,510.8L534.5,510L534,508.9L533.5,508.3L533,507.7L532.5,507.1L532,506.2L531.5,505.7L531,505.4L530.5,505.1L530,504.7L529.5,504.2L529,504L528.5,503.6L528,503.4L527.5,503.2L527,503.1L526.5,503.1L526,502.8L525.5,502.5L525,502.1L524.5,501.8L524,501.5L523.5,501.3L523,501.1L522.5,500.9L522,500.8L521.5,500.8L521,500.7L520.5,500.5L520,500.2L519.5,499.7L519,499.1L518.5,498.5L518,497.8L517.5,497.5L517,497.1L516.5,496.6L516,496.1L515.5,495.7L515,495.6L514.5,495.2L514,494.9L513.5,494.4L513,493.9L512.5,493.5L512,493.5L511.5,493.1L511,492.8L510.5,492.5L510,492.3L509.5,492.3L509,491.7L508.5,491.5L508,491.4L507.5,491.5L507,491.7L506.5,491.3L506,491.2L505.5,491.1L505,491.1L504.5,491.3L504,491.6L503.5,492.3L503,492.9L502.5,493.8L502,495L501.5,496.7L501,498.6L500.5,500.8L500,503.5L499.5,506.7L499,510.5L498.5,514.6L498,519.5L497.5,524.5L497,530L496.5,534.9L496,540.8L495.5,547.3L495,557.8L494.5,568.1L494,572.2L493.5,572L493,571.8L492.5,571.5L492,571.5L491.5,571.7L491,571.6L490.5,571.5L490,571.4Z" fill="#86bd94" stroke="none" />
<path d="M490,570.9L490.5,571L491,571L491.5,571L492,570.7L492.5,570.7L493,570.9L493.5,571L494,571.2L494.5,565.6L495,553.8L495.5,541.8L496,533.8L496.5,526.4L497,520L497.5,514L498,508.5L498.5,503.1L499,498.5L499.5,494.2L500,490.5L500.5,487.3L501,484.6L501.5,482.4L502,480.3L502.5,478.8L503,477.5L503.5,476.6L504,475.6L504.5,475L505,474.4L505.5,474.1L506,473.8L506.5,473.7L507,473.7L507.5,473.6L508,473.7L508.5,473.8L509,474.2L509.5,474.8L510,475L510.5,475.3L511,475.7L511.5,476.1L512,476.6L512.5,476.8L513,477.2L513.5,477.9L514,478.5L514.5,478.9L515,479.3L515.5,479.6L516,480.1L516.5,480.7L517,481.3L517.5,481.8L518,482.2L518.5,482.9L519,483.7L519.5,484.4L520,484.9L520.5,485.4L521,485.6L521.5,485.8L522,485.9L522.5,486.2L523,486.4L523.5,486.7L524,487L524.5,487.3L525,487.7L525.5,488.1L526,488.4L526.5,488.8L527,488.8L527.5,488.9L528,489.1L528.5,489.4L529,489.8L529.5,490L530,490.5L530.5,491L531,491.3L531.5,491.6L532,492.1L532.5,493.1L533,493.7L533.5,494.5L534,495.3L534.5,496.5L535,497.5L535.5,498.6L536,499.6L536.5,500.7L537,501.6L537.5,502.3L538,503.1L538.5,503.9L539,505L539.5,505.9L540,507.1L540.5,507.6L541,508.2L541.5,508.8L542,509.8L542.5,510.8L543,511.5L543.5,512.1L544,512.7L544.5,513.9L545,514.7L545.5,515.5L546,516L546.5,516.9L547,517.7L547.5,518L548,518.7L548.5,519.4L549,520.6L549.5,521.2L550,522L550.5,522.4L551,523.1L551.5,523.7L552,524.6L552.5,525.3L553,526L553.5,526.6L554,527.3L554.5,528L555,528.7L555.5,529.2L556,529.7L556.5,530.2L557,530.7L557.5,531.3L558,531.8L558.5,532.3L559,532.9L559.5,533.4L560,533.8L560.5,534L561,534.6L561.5,535.2L562,535.6L562.5,535.7L563,536.1L563.5,536.6L564,537.3L564.5,537.6L565,537.7L565.5,537.9L566,538.3L566.5,538.9L567,539.4L567.5,539.8L568,540L568.5,540.2L569,540.3L569.5,540.7L570,540.8L570.5,541.1L571,541.3L571.5,541.5L572,541.9L572.5,542.1L573,542.3L573.5,542.5L574,542.8L574.5,543.1L575,543.4L575.5,543.4L576,543.4L576.5,543.4L577,544.1L577.5,544.7L578,545L578.5,545.1L579,545.1L579.5,545.4L580,545.8L580.5,546.1L581,546.5L581.5,546.9L582,547.1L582.5,547.3L583,547.2L583.5,547.6L584,547.7L584.5,548.1L585,548.5L585.5,548.7L586,549.1L586.5,549.3L587,549.6L587.5,549.6L588,549.5L588.5,549.6L589,549.9L589.5,550.1L590,550.2L590.5,550.1L591,550.7L591.5,550.7L592,551L592.5,550.8L593,551.3L593.5,551.5L594,551.6L594.5,551.6L595,551.5L595.5,551.8L596,551.9L596.5,552.2L597,552.3L597.5,552.4L598,552.5L598.5,552.6L599,552.8L599.5,552.8L600,552.9L600.5,552.9L601,553.2L601.5,553.2L602,553.1L602.5,553.2L603,553.3L603.5,553.6L604,553.7L604.5,553.6L605,553.8L605.5,553.7L606,554L606.5,554.1L607,554.1L607.5,554.2L608,554.3L608.5,554.6L609,554.8L609.5,555.3L610,555.5L610.5,555.5L611,555.5L611.5,555.6L612,555.9L612.5,556L613,556.1L613.5,555.9L614,556.3L614.5,556.4L615,556.6L615.5,556.4L616,556.7L616.5,556.9L617,557.2L617.5,557.2L618,557.3L618.5,557.6L619,557.7L619.5,557.9L620,558.1L620.5,558.3L621,558.4L621.5,558.5L622,558.7L622.5,558.7L623,558.9L623.5,559.2L624,559.3L624.5,559.2L625,559.2L625.5,559.4L626,559.8L626.5,560L627,560.2L627.5,560.4L628,560.3L628.5,560.5L629,560.6L629.5,560.7L630,560.6L630.5,560.5L631,560.6L631.5,560.8L632,561L632.5,561.2L633,561.3L633.5,561.3L634,561.5L634.5,561.4L635,561.6L635.5,561.6L636,561.9L636.5,561.8L637,561.9L637.5,562.1L638,562.2L638.5,562.3L639,562.2L639.5,562.1L640,562.1L640.5,562.2L641,562.5L641.5,562.6L642,562.5L642.5,562.8L643,562.9L643.5,563.1L644,562.9L644.5,563.1L645,563.2L645.5,563.4L646,563.4L646.5,563.3L647,563.4L647.5,563.1L648,563.1L648.5,563.1L649,563.5L649.5,563.9L650,564L650.5,563.9L651,563.8L651.5,563.9L652,563.8L652.5,563.8L653,563.8L653.5,564.1L654,564.4L654.5,564.4L655,564.6L655.5,564.5L656,564.6L656.5,564.6L657,564.6L657.5,564.6L658,564.4L658.5,564.5L659,564.3L659.5,564.8L660,565L660.5,565.4L661,565.1L661.5,564.9L662,564.9L662.5,565L663,565.2L663.5,565.1L664,565L664.5,565L665,565.3L665.5,565.4L666,565.7L666.5,565.5L667,565.8L667.5,565.8L668,565.7L668.5,565.7L669,565.7L669.5,566.1L670,566.1L670.5,566.2L671,566L671.5,566L672,566L672.5,566L673,566.1L673.5,566.1L674,566.2L674.5,566.2L675,566.2L675.5,566.1L676,566.1L676.5,566.2L677,566.5L677.5,566.3L678,566.2L678.5,565.9L679,566.2L679.5,566.2L680,566.2L680.5,566.1L681,566.1L681.5,566.1L682,566.1L682.5,566.1L683,566.4L683.5,566.6L684,566.6L684.5,566.5L685,566.5" fill="none" stroke="#11884a" stroke-width="1.5" stroke-linejoin="round" />
<line x1="490.1" y1="436" x2="490.1" y2="589" stroke="#9a9a9a" stroke-width="1" />
<line x1="490.1" y1="589" x2="685" y2="589" stroke="#9a9a9a" stroke-width="1" />
<line x1="490.1" y1="455.2" x2="492.3" y2="455.2" stroke="#9a9a9a" stroke-width="1" />
<line x1="490.1" y1="474.3" x2="492.3" y2="474.3" stroke="#9a9a9a" stroke-width="1" />
<line x1="490.1" y1="493.4" x2="492.3" y2="493.4" stroke="#9a9a9a" stroke-width="1" />
<line x1="490.1" y1="512.5" x2="492.3" y2="512.5" stroke="#9a9a9a" stroke-width="1" />
<line x1="490.1" y1="531.6" x2="492.3" y2="531.6" stroke="#9a9a9a" stroke-width="1" />
<line x1="490.1" y1="550.7" x2="492.3" y2="550.7" stroke="#9a9a9a" stroke-width="1" />
<line x1="490.1" y1="569.8" x2="492.3" y2="569.8" stroke="#9a9a9a" stroke-width="1" />
<line x1="490.1" y1="588.9" x2="492.3" y2="588.9" stroke="#9a9a9a" stroke-width="1" />
<line x1="490.1" y1="589" x2="490.1" y2="586.8" stroke="#9a9a9a" stroke-width="1" />
<line x1="507.7" y1="589" x2="507.7" y2="586.8" stroke="#9a9a9a" stroke-width="1" />
<line x1="525.4" y1="589" x2="525.4" y2="586.8" stroke="#9a9a9a" stroke-width="1" />
<line x1="543" y1="589" x2="543" y2="586.8" stroke="#9a9a9a" stroke-width="1" />
<line x1="560.7" y1="589" x2="560.7" y2="586.8" stroke="#9a9a9a" stroke-width="1" />
<line x1="578.3" y1="589" x2="578.3" y2="586.8" stroke="#9a9a9a" stroke-width="1" />
<line x1="596" y1="589" x2="596" y2="586.8" stroke="#9a9a9a" stroke-width="1" />
<line x1="613.6" y1="589" x2="613.6" y2="586.8" stroke="#9a9a9a" stroke-width="1" />
<line x1="631.3" y1="589" x2="631.3" y2="586.8" stroke="#9a9a9a" stroke-width="1" />
<line x1="648.9" y1="589" x2="648.9" y2="586.8" stroke="#9a9a9a" stroke-width="1" />
<line x1="666.5" y1="589" x2="666.5" y2="586.8" stroke="#9a9a9a" stroke-width="1" />
<line x1="684.2" y1="589" x2="684.2" y2="586.8" stroke="#9a9a9a" stroke-width="1" />
<text x="487.2" y="458.8" font-size="10" fill="#555" text-anchor="end" font-weight="normal" >300</text>
<text x="487.2" y="497" font-size="10" fill="#555" text-anchor="end" font-weight="normal" >200</text>
<text x="487.2" y="535.2" font-size="10" fill="#555" text-anchor="end" font-weight="normal" >100</text>
<text x="487.2" y="573.4" font-size="10" fill="#555" text-anchor="end" font-weight="normal" >0</text>
<text x="490.1" y="598.8" font-size="10" fill="#555" text-anchor="middle" font-weight="normal" >0.25</text>
<text x="525.4" y="598.8" font-size="10" fill="#555" text-anchor="middle" font-weight="normal" >0.35</text>
<text x="560.7" y="598.8" font-size="10" fill="#555" text-anchor="middle" font-weight="normal" >0.45</text>
<text x="596" y="598.8" font-size="10" fill="#555" text-anchor="middle" font-weight="normal" >0.55</text>
<text x="631.3" y="598.8" font-size="10" fill="#555" text-anchor="middle" font-weight="normal" >0.65</text>
<text x="666.5" y="598.8" font-size="10" fill="#555" text-anchor="middle" font-weight="normal" >0.75</text>
<text x="585" y="610.8" font-size="10" fill="#222" text-anchor="middle" font-weight="normal" >Time (sec)</text>
<text x="0" y="0" transform="translate(466.3,517.5) rotate(-90)" font-size="10" fill="#222" text-anchor="middle" font-weight="normal" >Current (pA)</text>
<text x="680" y="418.5" font-size="8.8" fill="#90c870" text-anchor="end" font-weight="normal" xml:space="preserve">excitatory -  trained</text>
<text x="680" y="428.7" font-size="8.8" fill="#1a9048" text-anchor="end" font-weight="normal" xml:space="preserve">inhibitory -  trained</text>
<text x="680" y="438.3" font-size="8.8" fill="#9a9a9a" text-anchor="end" font-weight="normal" >excitatory - untrained</text>
<text x="680" y="449.3" font-size="8.8" fill="#444" text-anchor="end" font-weight="normal" >inhibitory - untrained</text>
<rect x="634.3" y="465.6" width="46.4" height="78.6" fill="none" stroke="#8a8a8a" stroke-width="0.9" stroke-dasharray="2,2"/>
<path d="M640.5,478 V492.2 H653.4" fill="none" stroke="#333" stroke-width="0.8"/>
<text x="641.6" y="482" font-size="7.7" fill="#444" text-anchor="start" font-weight="normal" >50pA</text>
<text x="646" y="490.2" font-size="7.7" fill="#444" text-anchor="start" font-weight="normal" >5ms</text>
<defs><clipPath id="ic"><rect x="634.3" y="465.6" width="46.4" height="78.6"/></clipPath></defs><g clip-path="url(#ic)">
<path d="M634.3,528.5L634.8,528.5L635.3,528.5L635.8,528.4L636.3,528.3L636.8,528.4L637.3,528.3L637.8,528.3L638.3,528.3L638.8,528.5L639.3,528.5L639.8,528.5L640.3,528.5L640.8,528.2L641.3,528.2L641.8,528.1L642.3,528.3L642.8,528.3L643.3,528.2L643.8,528.1L644.3,528.2L644.8,528.2L645.3,528.3L645.8,528.2L646.3,528.3L646.8,528.2L647.3,528L647.8,527.9L648.3,528L648.8,528.1L649.3,528.2L649.8,528.2L650.3,528.3L650.8,528.4L651.3,528.5L651.8,528.7L652.3,529L652.8,529.3L653.3,529.5L653.8,529.7L654.3,529.8L654.8,530L655.3,530L655.8,530.3L656.3,530.3L656.8,530.3L657.3,530.3L657.8,530.6L658.3,530.7L658.8,530.7L659.3,530.6L659.8,530.6L660.3,530.6L660.8,530.6L661.3,530.6L661.8,530.6L662.3,530.4L662.8,530.4L663.3,530.4L663.8,530.4L664.3,530.4L664.8,530.5L665.3,530.4L665.8,530.5L666.3,530.4L666.8,530.4L667.3,530.4L667.8,530.4L668.3,530.5L668.8,530.6L669.3,530.5L669.8,530.4L670.3,530.2L670.8,530.2L671.3,530.3L671.8,530.4L672.3,530.5L672.8,530.4L673.3,530.4L673.8,530.3L674.3,530.2L674.8,530.2L675.3,530.2L675.8,530.3L676.3,530.2L676.8,530.2L677.3,530.1L677.8,530.1L678.3,530.2L678.8,530.2L679.3,530.2L679.8,530L680.3,530.1L680.8,530.1L680.8,533.1L680.3,533.1L679.8,532.9L679.3,533.1L678.8,533.1L678.3,533.1L677.8,532.9L677.3,532.8L676.8,533L676.3,533L675.8,533L675.3,532.8L674.8,532.8L674.3,532.8L673.8,532.8L673.3,533L672.8,533L672.3,533L671.8,532.8L671.3,532.7L670.8,532.6L670.3,532.6L669.8,532.8L669.3,532.8L668.8,532.8L668.3,532.8L667.8,532.7L667.3,532.6L666.8,532.6L666.3,532.6L665.8,532.6L665.3,532.4L664.8,532.5L664.3,532.5L663.8,532.4L663.3,532.4L662.8,532.3L662.3,532.3L661.8,532.4L661.3,532.5L660.8,532.4L660.3,532.3L659.8,532.4L659.3,532.4L658.8,532.4L658.3,532.4L657.8,532.2L657.3,531.9L656.8,531.9L656.3,531.9L655.8,531.8L655.3,531.5L654.8,531.5L654.3,531.3L653.8,531.1L653.3,530.9L652.8,530.7L652.3,530.4L651.8,530L651.3,529.8L650.8,529.7L650.3,529.5L649.8,529.4L649.3,529.3L648.8,529.3L648.3,529.1L647.8,529L647.3,529.1L646.8,529.2L646.3,529.3L645.8,529.3L645.3,529.3L644.8,529.2L644.3,529.2L643.8,529.1L643.3,529.2L642.8,529.2L642.3,529.2L641.8,529L641.3,529L640.8,529.1L640.3,529.3L639.8,529.4L639.3,529.3L638.8,529.2L638.3,529.1L637.8,529.1L637.3,529L636.8,529.1L636.3,529L635.8,529L635.3,529.1L634.8,529.2L634.3,529.1Z" fill="#d3d3d3" stroke="none" />
<path d="M634.3,528.8L634.8,528.8L635.3,528.8L635.8,528.7L636.3,528.6L636.8,528.7L637.3,528.7L637.8,528.7L638.3,528.7L638.8,528.9L639.3,528.9L639.8,529L640.3,528.9L640.8,528.7L641.3,528.6L641.8,528.6L642.3,528.7L642.8,528.7L643.3,528.7L643.8,528.6L644.3,528.7L644.8,528.7L645.3,528.8L645.8,528.7L646.3,528.8L646.8,528.7L647.3,528.5L647.8,528.5L648.3,528.6L648.8,528.7L649.3,528.8L649.8,528.8L650.3,528.9L650.8,529L651.3,529.1L651.8,529.3L652.3,529.7L652.8,530L653.3,530.2L653.8,530.4L654.3,530.6L654.8,530.7L655.3,530.8L655.8,531.1L656.3,531.1L656.8,531.1L657.3,531.1L657.8,531.4L658.3,531.5L658.8,531.6L659.3,531.5L659.8,531.5L660.3,531.5L660.8,531.5L661.3,531.5L661.8,531.5L662.3,531.4L662.8,531.4L663.3,531.4L663.8,531.4L664.3,531.4L664.8,531.5L665.3,531.4L665.8,531.5L666.3,531.5L666.8,531.5L667.3,531.5L667.8,531.5L668.3,531.6L668.8,531.7L669.3,531.7L669.8,531.6L670.3,531.4L670.8,531.4L671.3,531.5L671.8,531.6L672.3,531.7L672.8,531.7L673.3,531.7L673.8,531.5L674.3,531.5L674.8,531.5L675.3,531.5L675.8,531.7L676.3,531.6L676.8,531.6L677.3,531.5L677.8,531.5L678.3,531.7L678.8,531.6L679.3,531.6L679.8,531.5L680.3,531.6L680.8,531.6" fill="none" stroke="#8a8a8a" stroke-width="1.1" stroke-linejoin="round" />
<path d="M634.3,528.3L634.8,528.2L635.3,528.2L635.8,528.3L636.3,528.5L636.8,528.6L637.3,528.5L637.8,528.5L638.3,528.4L638.8,528.6L639.3,528.5L639.8,528.5L640.3,528.4L640.8,528.5L641.3,528.5L641.8,528.6L642.3,528.5L642.8,528.5L643.3,528.5L643.8,528.6L644.3,528.6L644.8,528.6L645.3,528.5L645.8,528.3L646.3,528.3L646.8,528.3L647.3,528.5L647.8,528.5L648.3,528.3L648.8,528.4L649.3,528.4L649.8,528.7L650.3,528.9L650.8,529L651.3,529.1L651.8,529.1L652.3,529.4L652.8,529.6L653.3,530L653.8,530.2L654.3,530.5L654.8,530.6L655.3,531L655.8,531.3L656.3,531.6L656.8,531.7L657.3,531.8L657.8,532.1L658.3,532.5L658.8,532.8L659.3,533.1L659.8,533.2L660.3,533.6L660.8,533.7L661.3,534.1L661.8,534.3L662.3,534.4L662.8,534.5L663.3,534.7L663.8,534.9L664.3,535L664.8,535L665.3,535L665.8,535.1L666.3,535.2L666.8,535.2L667.3,535.2L667.8,535L668.3,534.9L668.8,535L669.3,535.1L669.8,535.2L670.3,535.1L670.8,535.2L671.3,535.3L671.8,535.3L672.3,535.4L672.8,535.2L673.3,535.2L673.8,535.1L674.3,535.2L674.8,535.2L675.3,535.2L675.8,535.1L676.3,535L676.8,534.9L677.3,535L677.8,535.1L678.3,535.2L678.8,535.1L679.3,535.1L679.8,534.8L680.3,534.8L680.8,534.7L680.8,539.7L680.3,539.7L679.8,539.7L679.3,539.9L678.8,539.9L678.3,539.9L677.8,539.7L677.3,539.6L676.8,539.4L676.3,539.5L675.8,539.5L675.3,539.6L674.8,539.6L674.3,539.4L673.8,539.3L673.3,539.4L672.8,539.3L672.3,539.4L671.8,539.3L671.3,539.2L670.8,539.1L670.3,538.9L669.8,539L669.3,538.8L668.8,538.7L668.3,538.5L667.8,538.5L667.3,538.7L666.8,538.7L666.3,538.6L665.8,538.4L665.3,538.3L664.8,538.2L664.3,538.1L663.8,538L663.3,537.8L662.8,537.5L662.3,537.4L661.8,537.1L661.3,537L660.8,536.5L660.3,536.3L659.8,535.9L659.3,535.7L658.8,535.4L658.3,535L657.8,534.6L657.3,534.2L656.8,534.1L656.3,533.9L655.8,533.6L655.3,533.1L654.8,532.7L654.3,532.5L653.8,532.3L653.3,532L652.8,531.5L652.3,531.2L651.8,530.9L651.3,530.8L650.8,530.7L650.3,530.6L649.8,530.3L649.3,530L648.8,529.9L648.3,529.9L647.8,530L647.3,530L646.8,529.8L646.3,529.7L645.8,529.8L645.3,530L644.8,530.1L644.3,530L643.8,529.9L643.3,529.9L642.8,529.9L642.3,529.8L641.8,529.9L641.3,529.8L640.8,529.8L640.3,529.6L639.8,529.7L639.3,529.7L638.8,529.8L638.3,529.6L637.8,529.6L637.3,529.6L636.8,529.7L636.3,529.6L635.8,529.4L635.3,529.3L634.8,529.3L634.3,529.3Z" fill="#b9dea3" stroke="none" />
<path d="M634.3,528.8L634.8,528.7L635.3,528.8L635.8,528.9L636.3,529.1L636.8,529.1L637.3,529.1L637.8,529L638.3,529L638.8,529.2L639.3,529.1L639.8,529.1L640.3,529L640.8,529.1L641.3,529.2L641.8,529.2L642.3,529.1L642.8,529.2L643.3,529.2L643.8,529.3L644.3,529.3L644.8,529.3L645.3,529.3L645.8,529.1L646.3,529L646.8,529.1L647.3,529.2L647.8,529.3L648.3,529.1L648.8,529.1L649.3,529.2L649.8,529.5L650.3,529.7L650.8,529.9L651.3,530L651.8,530L652.3,530.3L652.8,530.6L653.3,531L653.8,531.2L654.3,531.5L654.8,531.7L655.3,532.1L655.8,532.4L656.3,532.7L656.8,532.9L657.3,533L657.8,533.3L658.3,533.7L658.8,534.1L659.3,534.4L659.8,534.5L660.3,534.9L660.8,535.1L661.3,535.6L661.8,535.7L662.3,535.9L662.8,536L663.3,536.3L663.8,536.4L664.3,536.5L664.8,536.6L665.3,536.7L665.8,536.8L666.3,536.9L666.8,537L667.3,536.9L667.8,536.8L668.3,536.7L668.8,536.9L669.3,536.9L669.8,537.1L670.3,537L670.8,537.1L671.3,537.3L671.8,537.3L672.3,537.4L672.8,537.2L673.3,537.3L673.8,537.2L674.3,537.3L674.8,537.4L675.3,537.4L675.8,537.3L676.3,537.3L676.8,537.2L677.3,537.3L677.8,537.4L678.3,537.6L678.8,537.5L679.3,537.5L679.8,537.3L680.3,537.2L680.8,537.2" fill="none" stroke="#7dc35a" stroke-width="1.3" stroke-linejoin="round" />
<path d="M634.3,528.2L634.8,528.2L635.3,528.2L635.8,528.4L636.3,528.3L636.8,528.4L637.3,528.4L637.8,528.5L638.3,528.4L638.8,528.4L639.3,528.1L639.8,528L640.3,528.1L640.8,528.3L641.3,528.3L641.8,528.4L642.3,528.3L642.8,528.5L643.3,528.2L643.8,528.2L644.3,528.1L644.8,528.3L645.3,528.4L645.8,528.4L646.3,528.3L646.8,528.1L647.3,528.1L647.8,528.1L648.3,528.1L648.8,528.1L649.3,528L649.8,527.8L650.3,527.7L650.8,527.3L651.3,527.1L651.8,526.6L652.3,526.3L652.8,525.9L653.3,525.2L653.8,524.8L654.3,524.2L654.8,523.8L655.3,523.3L655.8,523L656.3,522.7L656.8,522.4L657.3,522L657.8,521.8L658.3,521.6L658.8,521.5L659.3,521.3L659.8,521L660.3,520.6L660.8,520.4L661.3,520.2L661.8,520L662.3,519.8L662.8,519.5L663.3,519.2L663.8,518.9L664.3,518.7L664.8,518.6L665.3,518.4L665.8,518.2L666.3,517.9L666.8,517.9L667.3,517.6L667.8,517.3L668.3,517L668.8,516.8L669.3,516.7L669.8,516.7L670.3,516.5L670.8,516.4L671.3,516.1L671.8,515.9L672.3,515.7L672.8,515.4L673.3,515.4L673.8,515.2L674.3,515.2L674.8,515L675.3,514.8L675.8,514.7L676.3,514.6L676.8,514.4L677.3,514.2L677.8,514L678.3,514L678.8,513.9L679.3,513.7L679.8,513.7L680.3,513.5L680.8,513.6L680.8,520.5L680.3,520.4L679.8,520.4L679.3,520.4L678.8,520.5L678.3,520.5L677.8,520.4L677.3,520.5L676.8,520.6L676.3,520.7L675.8,520.7L675.3,520.7L674.8,520.8L674.3,520.9L673.8,520.9L673.3,520.9L672.8,520.8L672.3,521L671.8,521.2L671.3,521.3L670.8,521.5L670.3,521.5L669.8,521.6L669.3,521.5L668.8,521.5L668.3,521.6L667.8,521.8L667.3,522L666.8,522.2L666.3,522.2L665.8,522.4L665.3,522.4L664.8,522.6L664.3,522.6L663.8,522.7L663.3,522.9L662.8,523.1L662.3,523.3L661.8,523.4L661.3,523.5L660.8,523.6L660.3,523.7L659.8,524L659.3,524.3L658.8,524.3L658.3,524.4L657.8,524.5L657.3,524.6L656.8,524.9L656.3,525.1L655.8,525.3L655.3,525.5L654.8,525.9L654.3,526.2L653.8,526.7L653.3,527.1L652.8,527.6L652.3,527.9L651.8,528.2L651.3,528.5L650.8,528.7L650.3,528.9L649.8,529L649.3,529.2L648.8,529.2L648.3,529.2L647.8,529.2L647.3,529.2L646.8,529.1L646.3,529.3L645.8,529.4L645.3,529.4L644.8,529.3L644.3,529.1L643.8,529.2L643.3,529.1L642.8,529.4L642.3,529.3L641.8,529.3L641.3,529.1L640.8,529.1L640.3,529L639.8,528.9L639.3,528.9L638.8,529.1L638.3,529.2L637.8,529.2L637.3,529.1L636.8,529.1L636.3,529L635.8,529L635.3,528.8L634.8,528.9L634.3,528.9Z" fill="#b4b4b4" stroke="none" />
<path d="M634.3,528.5L634.8,528.6L635.3,528.5L635.8,528.7L636.3,528.6L636.8,528.8L637.3,528.7L637.8,528.9L638.3,528.8L638.8,528.7L639.3,528.5L639.8,528.4L640.3,528.5L640.8,528.7L641.3,528.7L641.8,528.8L642.3,528.8L642.8,528.9L643.3,528.7L643.8,528.7L644.3,528.6L644.8,528.8L645.3,528.9L645.8,528.9L646.3,528.8L646.8,528.6L647.3,528.6L647.8,528.7L648.3,528.7L648.8,528.6L649.3,528.6L649.8,528.4L650.3,528.3L650.8,528L651.3,527.8L651.8,527.4L652.3,527.1L652.8,526.7L653.3,526.2L653.8,525.8L654.3,525.2L654.8,524.8L655.3,524.4L655.8,524.1L656.3,523.9L656.8,523.7L657.3,523.3L657.8,523.2L658.3,523L658.8,522.9L659.3,522.8L659.8,522.5L660.3,522.1L660.8,522L661.3,521.8L661.8,521.7L662.3,521.5L662.8,521.3L663.3,521L663.8,520.8L664.3,520.7L664.8,520.6L665.3,520.4L665.8,520.3L666.3,520.1L666.8,520L667.3,519.8L667.8,519.5L668.3,519.3L668.8,519.1L669.3,519.1L669.8,519.2L670.3,519L670.8,519L671.3,518.7L671.8,518.6L672.3,518.3L672.8,518.1L673.3,518.1L673.8,518.1L674.3,518.1L674.8,517.9L675.3,517.7L675.8,517.7L676.3,517.6L676.8,517.5L677.3,517.3L677.8,517.2L678.3,517.3L678.8,517.2L679.3,517.1L679.8,517L680.3,517L680.8,517.1" fill="none" stroke="#505050" stroke-width="1.3" stroke-linejoin="round" />
<path d="M634.3,528.3L634.8,528.2L635.3,528.3L635.8,528.4L636.3,528.5L636.8,528.4L637.3,528.5L637.8,528.4L638.3,528.4L638.8,528.2L639.3,528.1L639.8,528L640.3,528L640.8,528.1L641.3,528.1L641.8,528.1L642.3,528.1L642.8,528.1L643.3,528.1L643.8,528.1L644.3,528.2L644.8,528.2L645.3,528.2L645.8,528L646.3,528L646.8,528L647.3,527.9L647.8,527.9L648.3,527.9L648.8,528L649.3,527.6L649.8,526.8L650.3,525.9L650.8,525L651.3,524L651.8,523L652.3,522L652.8,521L653.3,520L653.8,519.1L654.3,518.1L654.8,516.9L655.3,515.8L655.8,514.6L656.3,513.5L656.8,512.3L657.3,511.2L657.8,510L658.3,508.6L658.8,507.2L659.3,505.7L659.8,504.3L660.3,503L660.8,501.7L661.3,500.2L661.8,498.8L662.3,497.3L662.8,496L663.3,494.5L663.8,493.1L664.3,491.6L664.8,490.1L665.3,488.7L665.8,487.3L666.3,486.1L666.8,484.8L667.3,483.9L667.8,482.9L668.3,481.9L668.8,481L669.3,480L669.8,479.3L670.3,478.4L670.8,477.6L671.3,476.8L671.8,476L672.3,475.3L672.8,474.7L673.3,474.1L673.8,473.4L674.3,472.7L674.8,472L675.3,471.3L675.8,470.6L676.3,470L676.8,469.6L677.3,468.8L677.8,468.2L678.3,467.4L678.8,466.9L679.3,466.4L679.8,465.8L680.3,465.3L680.8,464.8L680.8,487.7L680.3,488L679.8,488.3L679.3,488.6L678.8,488.9L678.3,489.2L677.8,489.7L677.3,490.1L676.8,490.7L676.3,490.8L675.8,491.2L675.3,491.7L674.8,492.2L674.3,492.7L673.8,493.1L673.3,493.6L672.8,493.9L672.3,494.4L671.8,494.8L671.3,495.4L670.8,496L670.3,496.6L669.8,497.1L669.3,497.5L668.8,498L668.3,498.6L667.8,499.1L667.3,499.7L666.8,500.3L666.3,501.1L665.8,502L665.3,502.9L664.8,503.9L664.3,505L663.8,506.2L663.3,507.1L662.8,508.2L662.3,509.2L661.8,510.2L661.3,511.3L660.8,512.3L660.3,513.2L659.8,514.1L659.3,515.1L658.8,516.2L658.3,517.3L657.8,518.3L657.3,519.1L656.8,519.9L656.3,520.7L655.8,521.4L655.3,522.2L654.8,523L654.3,523.7L653.8,524.4L653.3,524.9L652.8,525.5L652.3,526.1L651.8,526.7L651.3,527.4L650.8,528L650.3,528.5L649.8,529L649.3,529.4L648.8,529.5L648.3,529.5L647.8,529.4L647.3,529.4L646.8,529.5L646.3,529.4L645.8,529.4L645.3,529.5L644.8,529.5L644.3,529.5L643.8,529.4L643.3,529.4L642.8,529.3L642.3,529.3L641.8,529.2L641.3,529.2L640.8,529.2L640.3,529L639.8,529L639.3,529L638.8,529.1L638.3,529.2L637.8,529.2L637.3,529.3L636.8,529.2L636.3,529.2L635.8,529.1L635.3,529L634.8,528.9L634.3,528.9Z" fill="#86bd94" stroke="none" />
<path d="M634.3,528.6L634.8,528.5L635.3,528.6L635.8,528.7L636.3,528.9L636.8,528.8L637.3,528.9L637.8,528.8L638.3,528.8L638.8,528.6L639.3,528.6L639.8,528.5L640.3,528.5L640.8,528.6L641.3,528.7L641.8,528.7L642.3,528.7L642.8,528.7L643.3,528.8L643.8,528.7L644.3,528.8L644.8,528.8L645.3,528.9L645.8,528.7L646.3,528.7L646.8,528.7L647.3,528.7L647.8,528.6L648.3,528.7L648.8,528.8L649.3,528.5L649.8,527.9L650.3,527.2L650.8,526.5L651.3,525.7L651.8,524.9L652.3,524L652.8,523.2L653.3,522.5L653.8,521.7L654.3,520.9L654.8,519.9L655.3,519L655.8,518L656.3,517.1L656.8,516.1L657.3,515.2L657.8,514.1L658.3,513L658.8,511.7L659.3,510.4L659.8,509.2L660.3,508.1L660.8,507L661.3,505.7L661.8,504.5L662.3,503.3L662.8,502.1L663.3,500.8L663.8,499.6L664.3,498.3L664.8,497L665.3,495.8L665.8,494.6L666.3,493.6L666.8,492.5L667.3,491.8L667.8,491L668.3,490.3L668.8,489.5L669.3,488.8L669.8,488.2L670.3,487.5L670.8,486.8L671.3,486.1L671.8,485.4L672.3,484.8L672.8,484.3L673.3,483.8L673.8,483.3L674.3,482.7L674.8,482.1L675.3,481.5L675.8,480.9L676.3,480.4L676.8,480.1L677.3,479.5L677.8,479L678.3,478.3L678.8,477.9L679.3,477.5L679.8,477L680.3,476.7L680.8,476.2" fill="none" stroke="#11884a" stroke-width="1.5" stroke-linejoin="round" />
</g>
<path d="M634.5,528 L638.2,533.5 L634.5,532 L630.8,533.5 Z" fill="#2a9ad8"/>
</svg></body></html>
